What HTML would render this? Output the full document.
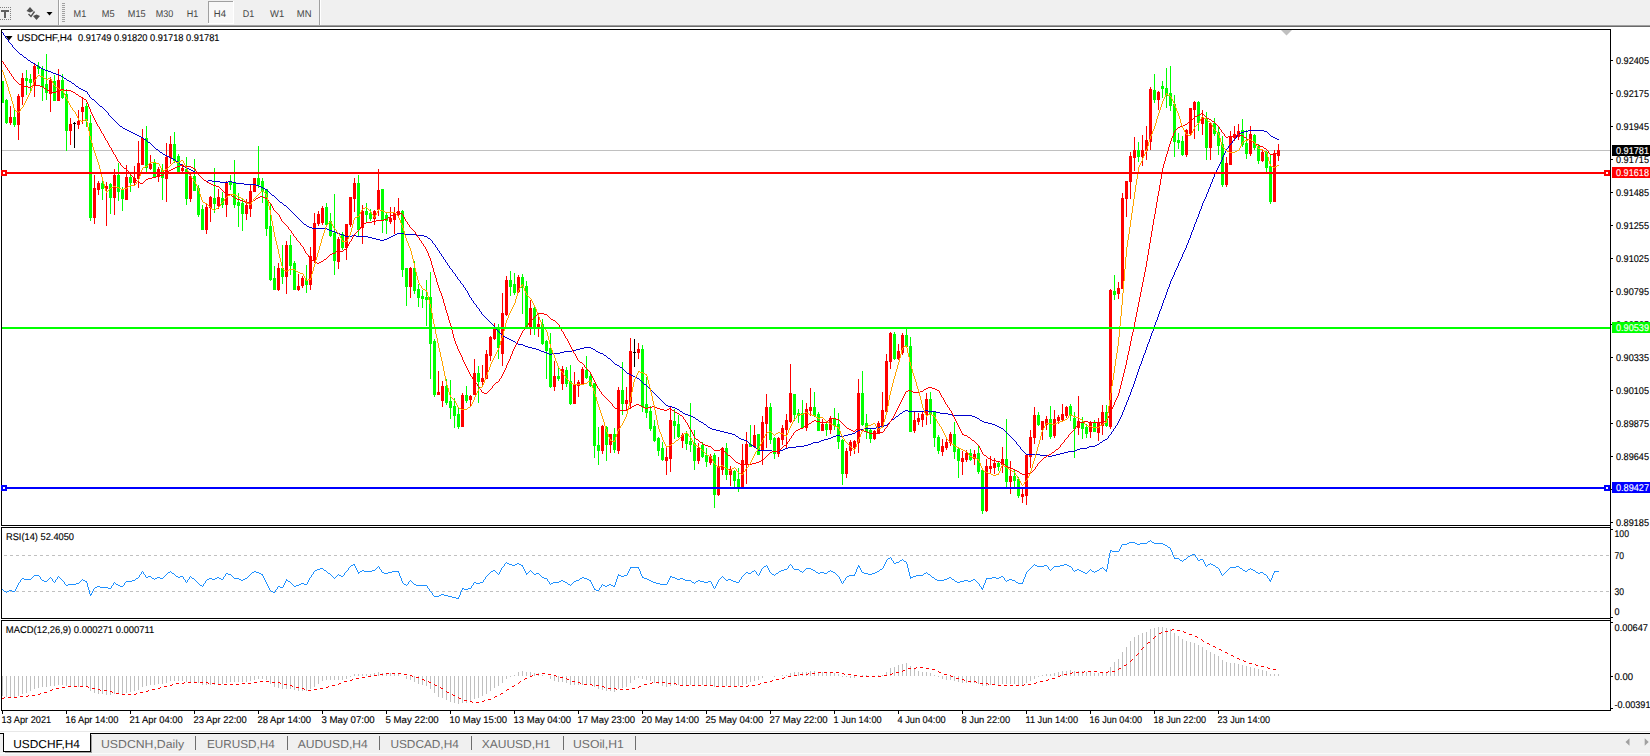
<!DOCTYPE html>
<html><head><meta charset="utf-8"><title>USDCHF,H4</title>
<style>
html,body{margin:0;padding:0;background:#fff;overflow:hidden}
svg{display:block;font-family:"Liberation Sans",sans-serif;text-rendering:geometricPrecision}
</style></head><body>
<svg width="1650" height="756" viewBox="0 0 1650 756">
<rect x="0" y="0" width="1650" height="756" fill="#fff"/>
<rect x="0" y="0" width="1650" height="25" fill="#f0f0f0"/>
<rect x="0" y="25" width="1650" height="1" fill="#a0a0a0"/>
<rect x="0" y="26" width="1650" height="1" fill="#696969"/>
<rect x="58" y="0" width="1" height="25" fill="#a0a0a0"/>
<rect x="59" y="0" width="1" height="25" fill="#fff"/>
<rect x="319" y="0" width="1" height="25" fill="#a0a0a0"/>
<rect x="320" y="0" width="1" height="25" fill="#fff"/>
<rect x="62" y="3" width="3" height="1" fill="#a0a0a0"/>
<rect x="62" y="5" width="3" height="1" fill="#a0a0a0"/>
<rect x="62" y="7" width="3" height="1" fill="#a0a0a0"/>
<rect x="62" y="9" width="3" height="1" fill="#a0a0a0"/>
<rect x="62" y="11" width="3" height="1" fill="#a0a0a0"/>
<rect x="62" y="13" width="3" height="1" fill="#a0a0a0"/>
<rect x="62" y="15" width="3" height="1" fill="#a0a0a0"/>
<rect x="62" y="17" width="3" height="1" fill="#a0a0a0"/>
<rect x="62" y="19" width="3" height="1" fill="#a0a0a0"/>
<rect x="62" y="21" width="3" height="1" fill="#a0a0a0"/>
<g fill="#808080">
<rect x="0" y="7" width="1" height="1" fill="#808080"/>
<rect x="0" y="19" width="1" height="1" fill="#808080"/>
<rect x="2" y="7" width="1" height="1" fill="#808080"/>
<rect x="2" y="19" width="1" height="1" fill="#808080"/>
<rect x="4" y="7" width="1" height="1" fill="#808080"/>
<rect x="4" y="19" width="1" height="1" fill="#808080"/>
<rect x="6" y="7" width="1" height="1" fill="#808080"/>
<rect x="6" y="19" width="1" height="1" fill="#808080"/>
<rect x="8" y="7" width="1" height="1" fill="#808080"/>
<rect x="8" y="19" width="1" height="1" fill="#808080"/>
<rect x="10" y="7" width="1" height="1" fill="#808080"/>
<rect x="10" y="19" width="1" height="1" fill="#808080"/>
<rect x="10" y="7" width="1" height="1" fill="#808080"/>
<rect x="10" y="9" width="1" height="1" fill="#808080"/>
<rect x="10" y="11" width="1" height="1" fill="#808080"/>
<rect x="10" y="13" width="1" height="1" fill="#808080"/>
<rect x="10" y="15" width="1" height="1" fill="#808080"/>
<rect x="10" y="17" width="1" height="1" fill="#808080"/>
<rect x="10" y="19" width="1" height="1" fill="#808080"/>
</g>
<rect x="1" y="10" width="8" height="2" fill="#606060"/>
<rect x="4" y="10" width="2" height="8" fill="#606060"/>
<path d="M26.5 11 L30 7 L33.5 11 L30 12.5 Z" fill="#505050"/>
<path d="M33 16 L36.5 14.5 L40 16 L36.5 20 Z" fill="#505050"/>
<path d="M28.5 14 L31 16.5 L34.5 11.5" fill="none" stroke="#505050" stroke-width="1.4"/>
<path d="M46.5 12 L52.5 12 L49.5 15.5 Z" fill="#000"/>
<rect x="208" y="1" width="25" height="22" fill="#f8f8f8"/>
<rect x="208" y="1" width="25" height="1" fill="#a0a0a0"/>
<rect x="208" y="1" width="1" height="22" fill="#a0a0a0"/>
<rect x="233" y="1" width="1" height="23" fill="#fff"/>
<rect x="208" y="23" width="26" height="1" fill="#fff"/>
<text x="73.6" y="17" font-size="9.8" fill="#454545" textLength="12.7" lengthAdjust="spacingAndGlyphs">M1</text>
<text x="101.8" y="17" font-size="9.8" fill="#454545" textLength="12.8" lengthAdjust="spacingAndGlyphs">M5</text>
<text x="127.8" y="17" font-size="9.8" fill="#454545" textLength="17.8" lengthAdjust="spacingAndGlyphs">M15</text>
<text x="155.8" y="17" font-size="9.8" fill="#454545" textLength="17.5" lengthAdjust="spacingAndGlyphs">M30</text>
<text x="186.8" y="17" font-size="9.8" fill="#454545" textLength="11.5" lengthAdjust="spacingAndGlyphs">H1</text>
<text x="213.8" y="17" font-size="9.8" fill="#454545" textLength="12.2" lengthAdjust="spacingAndGlyphs">H4</text>
<text x="242.8" y="17" font-size="9.8" fill="#454545" textLength="11.5" lengthAdjust="spacingAndGlyphs">D1</text>
<text x="270.1" y="17" font-size="9.8" fill="#454545" textLength="14.2" lengthAdjust="spacingAndGlyphs">W1</text>
<text x="296.8" y="17" font-size="9.8" fill="#454545" textLength="14.7" lengthAdjust="spacingAndGlyphs">MN</text>
<rect x="1" y="29" width="1610" height="1" fill="#000"/>
<rect x="1" y="525" width="1610" height="1" fill="#000"/>
<rect x="1" y="29" width="1" height="497" fill="#000"/>
<rect x="1" y="527" width="1610" height="1" fill="#000"/>
<rect x="1" y="618" width="1610" height="1" fill="#000"/>
<rect x="1" y="527" width="1" height="92" fill="#000"/>
<rect x="1" y="620" width="1610" height="1" fill="#000"/>
<rect x="1" y="710" width="1610" height="1" fill="#000"/>
<rect x="1" y="620" width="1" height="91" fill="#000"/>
<rect x="1610" y="29" width="1" height="682" fill="#000"/>
<rect x="2" y="150" width="1608" height="1" fill="#c0c0c0"/>
<g shape-rendering="crispEdges">
<rect x="2" y="81" width="1" height="22" fill="#00ff00"/>
<rect x="2" y="81" width="2" height="22" fill="#00ff00"/>
<rect x="6" y="99" width="1" height="25" fill="#00ff00"/>
<rect x="5" y="100" width="3" height="23" fill="#00ff00"/>
<rect x="10" y="106" width="1" height="19" fill="#ff0000"/>
<rect x="9" y="117" width="3" height="6" fill="#ff0000"/>
<rect x="14" y="110" width="1" height="17" fill="#00ff00"/>
<rect x="13" y="117" width="3" height="8" fill="#00ff00"/>
<rect x="18" y="94" width="1" height="46" fill="#ff0000"/>
<rect x="17" y="96" width="3" height="29" fill="#ff0000"/>
<rect x="22" y="73" width="1" height="32" fill="#ff0000"/>
<rect x="21" y="78" width="3" height="19" fill="#ff0000"/>
<rect x="26" y="70" width="1" height="25" fill="#00ff00"/>
<rect x="25" y="78" width="3" height="3" fill="#00ff00"/>
<rect x="30" y="74" width="1" height="17" fill="#00ff00"/>
<rect x="29" y="79" width="3" height="4" fill="#00ff00"/>
<rect x="34" y="63" width="1" height="34" fill="#ff0000"/>
<rect x="33" y="66" width="3" height="20" fill="#ff0000"/>
<rect x="38" y="62" width="1" height="12" fill="#00ff00"/>
<rect x="37" y="66" width="3" height="3" fill="#00ff00"/>
<rect x="42" y="66" width="1" height="35" fill="#00ff00"/>
<rect x="41" y="69" width="3" height="18" fill="#00ff00"/>
<rect x="46" y="54" width="1" height="46" fill="#00ff00"/>
<rect x="45" y="84" width="3" height="9" fill="#00ff00"/>
<rect x="50" y="77" width="1" height="35" fill="#ff0000"/>
<rect x="49" y="80" width="3" height="14" fill="#ff0000"/>
<rect x="54" y="75" width="1" height="26" fill="#00ff00"/>
<rect x="53" y="81" width="3" height="20" fill="#00ff00"/>
<rect x="58" y="69" width="1" height="32" fill="#ff0000"/>
<rect x="57" y="80" width="3" height="21" fill="#ff0000"/>
<rect x="62" y="74" width="1" height="25" fill="#00ff00"/>
<rect x="61" y="80" width="3" height="18" fill="#00ff00"/>
<rect x="66" y="89" width="1" height="62" fill="#00ff00"/>
<rect x="65" y="94" width="3" height="37" fill="#00ff00"/>
<rect x="70" y="118" width="1" height="27" fill="#ff0000"/>
<rect x="69" y="124" width="3" height="7" fill="#ff0000"/>
<rect x="74" y="122" width="1" height="26" fill="#000"/>
<rect x="73" y="123" width="3" height="1" fill="#000"/>
<rect x="78" y="110" width="1" height="19" fill="#ff0000"/>
<rect x="77" y="121" width="3" height="4" fill="#ff0000"/>
<rect x="82" y="97" width="1" height="27" fill="#ff0000"/>
<rect x="81" y="107" width="3" height="5" fill="#ff0000"/>
<rect x="86" y="103" width="1" height="24" fill="#00ff00"/>
<rect x="85" y="106" width="3" height="15" fill="#00ff00"/>
<rect x="90" y="115" width="1" height="106" fill="#00ff00"/>
<rect x="89" y="123" width="3" height="95" fill="#00ff00"/>
<rect x="94" y="175" width="1" height="49" fill="#ff0000"/>
<rect x="93" y="188" width="3" height="30" fill="#ff0000"/>
<rect x="98" y="181" width="1" height="14" fill="#ff0000"/>
<rect x="97" y="183" width="3" height="7" fill="#ff0000"/>
<rect x="102" y="181" width="1" height="19" fill="#00ff00"/>
<rect x="101" y="183" width="3" height="6" fill="#00ff00"/>
<rect x="106" y="182" width="1" height="44" fill="#ff0000"/>
<rect x="105" y="186" width="3" height="3" fill="#ff0000"/>
<rect x="110" y="183" width="1" height="31" fill="#00ff00"/>
<rect x="109" y="184" width="3" height="14" fill="#00ff00"/>
<rect x="114" y="169" width="1" height="46" fill="#ff0000"/>
<rect x="113" y="175" width="3" height="23" fill="#ff0000"/>
<rect x="118" y="163" width="1" height="38" fill="#00ff00"/>
<rect x="117" y="175" width="3" height="17" fill="#00ff00"/>
<rect x="122" y="187" width="1" height="24" fill="#00ff00"/>
<rect x="121" y="190" width="3" height="9" fill="#00ff00"/>
<rect x="126" y="165" width="1" height="35" fill="#ff0000"/>
<rect x="125" y="177" width="3" height="23" fill="#ff0000"/>
<rect x="130" y="174" width="1" height="18" fill="#00ff00"/>
<rect x="129" y="177" width="3" height="6" fill="#00ff00"/>
<rect x="134" y="166" width="1" height="19" fill="#ff0000"/>
<rect x="133" y="178" width="3" height="5" fill="#ff0000"/>
<rect x="138" y="141" width="1" height="47" fill="#ff0000"/>
<rect x="137" y="163" width="3" height="16" fill="#ff0000"/>
<rect x="142" y="129" width="1" height="36" fill="#ff0000"/>
<rect x="141" y="138" width="3" height="27" fill="#ff0000"/>
<rect x="146" y="126" width="1" height="47" fill="#00ff00"/>
<rect x="145" y="138" width="3" height="30" fill="#00ff00"/>
<rect x="150" y="155" width="1" height="15" fill="#ff0000"/>
<rect x="149" y="164" width="3" height="5" fill="#ff0000"/>
<rect x="154" y="159" width="1" height="19" fill="#00ff00"/>
<rect x="153" y="163" width="3" height="14" fill="#00ff00"/>
<rect x="158" y="167" width="1" height="15" fill="#ff0000"/>
<rect x="157" y="169" width="3" height="8" fill="#ff0000"/>
<rect x="162" y="164" width="1" height="36" fill="#00ff00"/>
<rect x="161" y="170" width="3" height="8" fill="#00ff00"/>
<rect x="166" y="143" width="1" height="59" fill="#ff0000"/>
<rect x="165" y="157" width="3" height="22" fill="#ff0000"/>
<rect x="170" y="136" width="1" height="28" fill="#ff0000"/>
<rect x="169" y="144" width="3" height="14" fill="#ff0000"/>
<rect x="174" y="132" width="1" height="31" fill="#00ff00"/>
<rect x="173" y="144" width="3" height="17" fill="#00ff00"/>
<rect x="178" y="154" width="1" height="18" fill="#00ff00"/>
<rect x="177" y="156" width="3" height="16" fill="#00ff00"/>
<rect x="182" y="164" width="1" height="8" fill="#ff0000"/>
<rect x="181" y="168" width="3" height="3" fill="#ff0000"/>
<rect x="186" y="157" width="1" height="48" fill="#00ff00"/>
<rect x="185" y="169" width="3" height="30" fill="#00ff00"/>
<rect x="190" y="174" width="1" height="28" fill="#ff0000"/>
<rect x="189" y="176" width="3" height="23" fill="#ff0000"/>
<rect x="194" y="159" width="1" height="32" fill="#00ff00"/>
<rect x="193" y="176" width="3" height="15" fill="#00ff00"/>
<rect x="198" y="185" width="1" height="32" fill="#00ff00"/>
<rect x="197" y="188" width="3" height="27" fill="#00ff00"/>
<rect x="202" y="205" width="1" height="25" fill="#00ff00"/>
<rect x="201" y="209" width="3" height="21" fill="#00ff00"/>
<rect x="206" y="203" width="1" height="31" fill="#ff0000"/>
<rect x="205" y="207" width="3" height="23" fill="#ff0000"/>
<rect x="210" y="196" width="1" height="26" fill="#ff0000"/>
<rect x="209" y="197" width="3" height="11" fill="#ff0000"/>
<rect x="214" y="168" width="1" height="45" fill="#00ff00"/>
<rect x="213" y="198" width="3" height="6" fill="#00ff00"/>
<rect x="218" y="189" width="1" height="20" fill="#ff0000"/>
<rect x="217" y="197" width="3" height="9" fill="#ff0000"/>
<rect x="222" y="192" width="1" height="16" fill="#00ff00"/>
<rect x="221" y="198" width="3" height="7" fill="#00ff00"/>
<rect x="226" y="181" width="1" height="36" fill="#ff0000"/>
<rect x="225" y="182" width="3" height="23" fill="#ff0000"/>
<rect x="230" y="175" width="1" height="15" fill="#00ff00"/>
<rect x="229" y="182" width="3" height="3" fill="#00ff00"/>
<rect x="234" y="160" width="1" height="48" fill="#00ff00"/>
<rect x="233" y="183" width="3" height="22" fill="#00ff00"/>
<rect x="238" y="193" width="1" height="34" fill="#00ff00"/>
<rect x="237" y="202" width="3" height="4" fill="#00ff00"/>
<rect x="242" y="198" width="1" height="33" fill="#00ff00"/>
<rect x="241" y="203" width="3" height="11" fill="#00ff00"/>
<rect x="246" y="199" width="1" height="21" fill="#ff0000"/>
<rect x="245" y="205" width="3" height="9" fill="#ff0000"/>
<rect x="250" y="185" width="1" height="32" fill="#ff0000"/>
<rect x="249" y="191" width="3" height="18" fill="#ff0000"/>
<rect x="254" y="178" width="1" height="14" fill="#ff0000"/>
<rect x="253" y="178" width="3" height="14" fill="#ff0000"/>
<rect x="258" y="146" width="1" height="42" fill="#00ff00"/>
<rect x="257" y="178" width="3" height="7" fill="#00ff00"/>
<rect x="262" y="178" width="1" height="25" fill="#00ff00"/>
<rect x="261" y="181" width="3" height="10" fill="#00ff00"/>
<rect x="266" y="189" width="1" height="47" fill="#00ff00"/>
<rect x="265" y="189" width="3" height="40" fill="#00ff00"/>
<rect x="270" y="204" width="1" height="77" fill="#00ff00"/>
<rect x="269" y="226" width="3" height="54" fill="#00ff00"/>
<rect x="274" y="266" width="1" height="24" fill="#00ff00"/>
<rect x="273" y="278" width="3" height="12" fill="#00ff00"/>
<rect x="278" y="263" width="1" height="28" fill="#ff0000"/>
<rect x="277" y="268" width="3" height="22" fill="#ff0000"/>
<rect x="282" y="245" width="1" height="39" fill="#00ff00"/>
<rect x="281" y="268" width="3" height="9" fill="#00ff00"/>
<rect x="286" y="241" width="1" height="53" fill="#ff0000"/>
<rect x="285" y="245" width="3" height="32" fill="#ff0000"/>
<rect x="290" y="235" width="1" height="40" fill="#00ff00"/>
<rect x="289" y="245" width="3" height="21" fill="#00ff00"/>
<rect x="294" y="261" width="1" height="29" fill="#00ff00"/>
<rect x="293" y="263" width="3" height="27" fill="#00ff00"/>
<rect x="298" y="274" width="1" height="17" fill="#ff0000"/>
<rect x="297" y="286" width="3" height="4" fill="#ff0000"/>
<rect x="302" y="276" width="1" height="12" fill="#ff0000"/>
<rect x="301" y="278" width="3" height="8" fill="#ff0000"/>
<rect x="306" y="265" width="1" height="28" fill="#00ff00"/>
<rect x="305" y="280" width="3" height="5" fill="#00ff00"/>
<rect x="310" y="247" width="1" height="43" fill="#ff0000"/>
<rect x="309" y="256" width="3" height="29" fill="#ff0000"/>
<rect x="314" y="213" width="1" height="50" fill="#ff0000"/>
<rect x="313" y="223" width="3" height="37" fill="#ff0000"/>
<rect x="318" y="211" width="1" height="15" fill="#ff0000"/>
<rect x="317" y="214" width="3" height="10" fill="#ff0000"/>
<rect x="322" y="206" width="1" height="19" fill="#ff0000"/>
<rect x="321" y="208" width="3" height="15" fill="#ff0000"/>
<rect x="326" y="203" width="1" height="22" fill="#00ff00"/>
<rect x="325" y="207" width="3" height="18" fill="#00ff00"/>
<rect x="330" y="213" width="1" height="24" fill="#00ff00"/>
<rect x="329" y="221" width="3" height="15" fill="#00ff00"/>
<rect x="334" y="194" width="1" height="81" fill="#00ff00"/>
<rect x="333" y="233" width="3" height="28" fill="#00ff00"/>
<rect x="338" y="237" width="1" height="32" fill="#ff0000"/>
<rect x="337" y="239" width="3" height="23" fill="#ff0000"/>
<rect x="342" y="232" width="1" height="18" fill="#00ff00"/>
<rect x="341" y="234" width="3" height="14" fill="#00ff00"/>
<rect x="346" y="224" width="1" height="36" fill="#ff0000"/>
<rect x="345" y="224" width="3" height="24" fill="#ff0000"/>
<rect x="350" y="197" width="1" height="30" fill="#ff0000"/>
<rect x="349" y="197" width="3" height="28" fill="#ff0000"/>
<rect x="354" y="178" width="1" height="34" fill="#ff0000"/>
<rect x="353" y="183" width="3" height="16" fill="#ff0000"/>
<rect x="358" y="175" width="1" height="62" fill="#00ff00"/>
<rect x="357" y="183" width="3" height="47" fill="#00ff00"/>
<rect x="362" y="205" width="1" height="39" fill="#ff0000"/>
<rect x="361" y="211" width="3" height="17" fill="#ff0000"/>
<rect x="366" y="203" width="1" height="20" fill="#00ff00"/>
<rect x="365" y="211" width="3" height="4" fill="#00ff00"/>
<rect x="370" y="209" width="1" height="12" fill="#00ff00"/>
<rect x="369" y="213" width="3" height="6" fill="#00ff00"/>
<rect x="374" y="210" width="1" height="15" fill="#ff0000"/>
<rect x="373" y="211" width="3" height="8" fill="#ff0000"/>
<rect x="378" y="169" width="1" height="47" fill="#ff0000"/>
<rect x="377" y="190" width="3" height="20" fill="#ff0000"/>
<rect x="382" y="189" width="1" height="44" fill="#00ff00"/>
<rect x="381" y="189" width="3" height="31" fill="#00ff00"/>
<rect x="386" y="213" width="1" height="21" fill="#00ff00"/>
<rect x="385" y="215" width="3" height="6" fill="#00ff00"/>
<rect x="390" y="207" width="1" height="17" fill="#ff0000"/>
<rect x="389" y="218" width="3" height="4" fill="#ff0000"/>
<rect x="394" y="207" width="1" height="27" fill="#ff0000"/>
<rect x="393" y="213" width="3" height="7" fill="#ff0000"/>
<rect x="398" y="198" width="1" height="20" fill="#ff0000"/>
<rect x="397" y="211" width="3" height="4" fill="#ff0000"/>
<rect x="402" y="210" width="1" height="67" fill="#00ff00"/>
<rect x="401" y="211" width="3" height="59" fill="#00ff00"/>
<rect x="406" y="268" width="1" height="38" fill="#00ff00"/>
<rect x="405" y="268" width="3" height="19" fill="#00ff00"/>
<rect x="410" y="267" width="1" height="31" fill="#ff0000"/>
<rect x="409" y="268" width="3" height="19" fill="#ff0000"/>
<rect x="414" y="261" width="1" height="33" fill="#00ff00"/>
<rect x="413" y="268" width="3" height="23" fill="#00ff00"/>
<rect x="418" y="284" width="1" height="23" fill="#00ff00"/>
<rect x="417" y="289" width="3" height="9" fill="#00ff00"/>
<rect x="422" y="290" width="1" height="18" fill="#00ff00"/>
<rect x="421" y="296" width="3" height="3" fill="#00ff00"/>
<rect x="426" y="280" width="1" height="46" fill="#00ff00"/>
<rect x="425" y="297" width="3" height="3" fill="#00ff00"/>
<rect x="430" y="272" width="1" height="107" fill="#00ff00"/>
<rect x="429" y="297" width="3" height="47" fill="#00ff00"/>
<rect x="434" y="339" width="1" height="58" fill="#00ff00"/>
<rect x="433" y="341" width="3" height="54" fill="#00ff00"/>
<rect x="438" y="371" width="1" height="24" fill="#ff0000"/>
<rect x="437" y="392" width="3" height="3" fill="#ff0000"/>
<rect x="442" y="381" width="1" height="26" fill="#ff0000"/>
<rect x="441" y="386" width="3" height="15" fill="#ff0000"/>
<rect x="446" y="379" width="1" height="26" fill="#00ff00"/>
<rect x="445" y="386" width="3" height="17" fill="#00ff00"/>
<rect x="450" y="380" width="1" height="39" fill="#00ff00"/>
<rect x="449" y="401" width="3" height="7" fill="#00ff00"/>
<rect x="454" y="398" width="1" height="30" fill="#00ff00"/>
<rect x="453" y="406" width="3" height="10" fill="#00ff00"/>
<rect x="458" y="408" width="1" height="21" fill="#00ff00"/>
<rect x="457" y="414" width="3" height="13" fill="#00ff00"/>
<rect x="462" y="393" width="1" height="34" fill="#ff0000"/>
<rect x="461" y="395" width="3" height="32" fill="#ff0000"/>
<rect x="466" y="386" width="1" height="17" fill="#00ff00"/>
<rect x="465" y="395" width="3" height="6" fill="#00ff00"/>
<rect x="470" y="395" width="1" height="11" fill="#ff0000"/>
<rect x="469" y="396" width="3" height="4" fill="#ff0000"/>
<rect x="474" y="359" width="1" height="36" fill="#ff0000"/>
<rect x="473" y="373" width="3" height="22" fill="#ff0000"/>
<rect x="478" y="366" width="1" height="37" fill="#00ff00"/>
<rect x="477" y="373" width="3" height="9" fill="#00ff00"/>
<rect x="482" y="365" width="1" height="20" fill="#ff0000"/>
<rect x="481" y="378" width="3" height="4" fill="#ff0000"/>
<rect x="486" y="350" width="1" height="29" fill="#ff0000"/>
<rect x="485" y="354" width="3" height="25" fill="#ff0000"/>
<rect x="490" y="336" width="1" height="25" fill="#ff0000"/>
<rect x="489" y="337" width="3" height="19" fill="#ff0000"/>
<rect x="494" y="323" width="1" height="17" fill="#ff0000"/>
<rect x="493" y="329" width="3" height="10" fill="#ff0000"/>
<rect x="498" y="324" width="1" height="35" fill="#00ff00"/>
<rect x="497" y="329" width="3" height="19" fill="#00ff00"/>
<rect x="502" y="293" width="1" height="73" fill="#ff0000"/>
<rect x="501" y="313" width="3" height="41" fill="#ff0000"/>
<rect x="506" y="276" width="1" height="40" fill="#ff0000"/>
<rect x="505" y="280" width="3" height="35" fill="#ff0000"/>
<rect x="510" y="271" width="1" height="25" fill="#00ff00"/>
<rect x="509" y="280" width="3" height="7" fill="#00ff00"/>
<rect x="514" y="273" width="1" height="22" fill="#00ff00"/>
<rect x="513" y="284" width="3" height="9" fill="#00ff00"/>
<rect x="518" y="275" width="1" height="18" fill="#ff0000"/>
<rect x="517" y="277" width="3" height="15" fill="#ff0000"/>
<rect x="522" y="274" width="1" height="40" fill="#00ff00"/>
<rect x="521" y="277" width="3" height="11" fill="#00ff00"/>
<rect x="526" y="281" width="1" height="48" fill="#00ff00"/>
<rect x="525" y="286" width="3" height="42" fill="#00ff00"/>
<rect x="530" y="300" width="1" height="35" fill="#ff0000"/>
<rect x="529" y="308" width="3" height="20" fill="#ff0000"/>
<rect x="534" y="307" width="1" height="28" fill="#00ff00"/>
<rect x="533" y="308" width="3" height="20" fill="#00ff00"/>
<rect x="538" y="314" width="1" height="23" fill="#ff0000"/>
<rect x="537" y="324" width="3" height="5" fill="#ff0000"/>
<rect x="542" y="319" width="1" height="26" fill="#00ff00"/>
<rect x="541" y="324" width="3" height="20" fill="#00ff00"/>
<rect x="546" y="340" width="1" height="39" fill="#00ff00"/>
<rect x="545" y="341" width="3" height="10" fill="#00ff00"/>
<rect x="550" y="333" width="1" height="55" fill="#00ff00"/>
<rect x="549" y="348" width="3" height="39" fill="#00ff00"/>
<rect x="554" y="361" width="1" height="30" fill="#ff0000"/>
<rect x="553" y="376" width="3" height="11" fill="#ff0000"/>
<rect x="558" y="367" width="1" height="14" fill="#00ff00"/>
<rect x="557" y="376" width="3" height="3" fill="#00ff00"/>
<rect x="562" y="366" width="1" height="24" fill="#ff0000"/>
<rect x="561" y="369" width="3" height="15" fill="#ff0000"/>
<rect x="566" y="367" width="1" height="20" fill="#00ff00"/>
<rect x="565" y="370" width="3" height="14" fill="#00ff00"/>
<rect x="570" y="365" width="1" height="40" fill="#00ff00"/>
<rect x="569" y="381" width="3" height="23" fill="#00ff00"/>
<rect x="574" y="372" width="1" height="32" fill="#ff0000"/>
<rect x="573" y="385" width="3" height="19" fill="#ff0000"/>
<rect x="578" y="380" width="1" height="17" fill="#ff0000"/>
<rect x="577" y="382" width="3" height="4" fill="#ff0000"/>
<rect x="582" y="367" width="1" height="18" fill="#ff0000"/>
<rect x="581" y="369" width="3" height="15" fill="#ff0000"/>
<rect x="586" y="356" width="1" height="23" fill="#00ff00"/>
<rect x="585" y="370" width="3" height="8" fill="#00ff00"/>
<rect x="590" y="374" width="1" height="13" fill="#00ff00"/>
<rect x="589" y="376" width="3" height="10" fill="#00ff00"/>
<rect x="594" y="383" width="1" height="75" fill="#00ff00"/>
<rect x="593" y="383" width="3" height="63" fill="#00ff00"/>
<rect x="598" y="427" width="1" height="38" fill="#00ff00"/>
<rect x="597" y="445" width="3" height="6" fill="#00ff00"/>
<rect x="602" y="425" width="1" height="29" fill="#ff0000"/>
<rect x="601" y="426" width="3" height="25" fill="#ff0000"/>
<rect x="606" y="426" width="1" height="35" fill="#00ff00"/>
<rect x="605" y="427" width="3" height="18" fill="#00ff00"/>
<rect x="610" y="434" width="1" height="19" fill="#ff0000"/>
<rect x="609" y="434" width="3" height="11" fill="#ff0000"/>
<rect x="614" y="428" width="1" height="25" fill="#00ff00"/>
<rect x="613" y="434" width="3" height="16" fill="#00ff00"/>
<rect x="618" y="387" width="1" height="67" fill="#ff0000"/>
<rect x="617" y="390" width="3" height="61" fill="#ff0000"/>
<rect x="622" y="362" width="1" height="53" fill="#00ff00"/>
<rect x="621" y="390" width="3" height="14" fill="#00ff00"/>
<rect x="626" y="387" width="1" height="23" fill="#ff0000"/>
<rect x="625" y="400" width="3" height="4" fill="#ff0000"/>
<rect x="630" y="338" width="1" height="70" fill="#ff0000"/>
<rect x="629" y="351" width="3" height="52" fill="#ff0000"/>
<rect x="634" y="339" width="1" height="28" fill="#000"/>
<rect x="633" y="352" width="3" height="1" fill="#000"/>
<rect x="638" y="343" width="1" height="16" fill="#ff0000"/>
<rect x="637" y="349" width="3" height="4" fill="#ff0000"/>
<rect x="642" y="345" width="1" height="67" fill="#00ff00"/>
<rect x="641" y="349" width="3" height="58" fill="#00ff00"/>
<rect x="646" y="377" width="1" height="41" fill="#00ff00"/>
<rect x="645" y="404" width="3" height="9" fill="#00ff00"/>
<rect x="650" y="406" width="1" height="25" fill="#00ff00"/>
<rect x="649" y="411" width="3" height="18" fill="#00ff00"/>
<rect x="654" y="420" width="1" height="22" fill="#00ff00"/>
<rect x="653" y="426" width="3" height="15" fill="#00ff00"/>
<rect x="658" y="437" width="1" height="19" fill="#00ff00"/>
<rect x="657" y="438" width="3" height="13" fill="#00ff00"/>
<rect x="662" y="442" width="1" height="19" fill="#00ff00"/>
<rect x="661" y="448" width="3" height="12" fill="#00ff00"/>
<rect x="666" y="446" width="1" height="29" fill="#ff0000"/>
<rect x="665" y="457" width="3" height="4" fill="#ff0000"/>
<rect x="670" y="406" width="1" height="66" fill="#ff0000"/>
<rect x="669" y="420" width="3" height="39" fill="#ff0000"/>
<rect x="674" y="409" width="1" height="30" fill="#00ff00"/>
<rect x="673" y="421" width="3" height="5" fill="#00ff00"/>
<rect x="678" y="415" width="1" height="23" fill="#00ff00"/>
<rect x="677" y="424" width="3" height="13" fill="#00ff00"/>
<rect x="682" y="433" width="1" height="15" fill="#ff0000"/>
<rect x="681" y="435" width="3" height="6" fill="#ff0000"/>
<rect x="686" y="431" width="1" height="19" fill="#00ff00"/>
<rect x="685" y="433" width="3" height="11" fill="#00ff00"/>
<rect x="690" y="403" width="1" height="49" fill="#00ff00"/>
<rect x="689" y="441" width="3" height="4" fill="#00ff00"/>
<rect x="694" y="430" width="1" height="40" fill="#00ff00"/>
<rect x="693" y="443" width="3" height="18" fill="#00ff00"/>
<rect x="698" y="443" width="1" height="21" fill="#ff0000"/>
<rect x="697" y="448" width="3" height="13" fill="#ff0000"/>
<rect x="702" y="442" width="1" height="16" fill="#00ff00"/>
<rect x="701" y="445" width="3" height="12" fill="#00ff00"/>
<rect x="706" y="448" width="1" height="19" fill="#00ff00"/>
<rect x="705" y="455" width="3" height="7" fill="#00ff00"/>
<rect x="710" y="454" width="1" height="11" fill="#ff0000"/>
<rect x="709" y="456" width="3" height="7" fill="#ff0000"/>
<rect x="714" y="453" width="1" height="55" fill="#00ff00"/>
<rect x="713" y="455" width="3" height="40" fill="#00ff00"/>
<rect x="718" y="457" width="1" height="39" fill="#ff0000"/>
<rect x="717" y="466" width="3" height="29" fill="#ff0000"/>
<rect x="722" y="447" width="1" height="28" fill="#ff0000"/>
<rect x="721" y="448" width="3" height="22" fill="#ff0000"/>
<rect x="726" y="443" width="1" height="37" fill="#00ff00"/>
<rect x="725" y="448" width="3" height="27" fill="#00ff00"/>
<rect x="730" y="466" width="1" height="20" fill="#ff0000"/>
<rect x="729" y="469" width="3" height="6" fill="#ff0000"/>
<rect x="734" y="470" width="1" height="18" fill="#00ff00"/>
<rect x="733" y="471" width="3" height="10" fill="#00ff00"/>
<rect x="738" y="468" width="1" height="24" fill="#00ff00"/>
<rect x="737" y="479" width="3" height="9" fill="#00ff00"/>
<rect x="742" y="444" width="1" height="45" fill="#ff0000"/>
<rect x="741" y="460" width="3" height="28" fill="#ff0000"/>
<rect x="746" y="432" width="1" height="52" fill="#ff0000"/>
<rect x="745" y="444" width="3" height="21" fill="#ff0000"/>
<rect x="750" y="425" width="1" height="22" fill="#00ff00"/>
<rect x="749" y="444" width="3" height="3" fill="#00ff00"/>
<rect x="754" y="425" width="1" height="23" fill="#ff0000"/>
<rect x="753" y="435" width="3" height="12" fill="#ff0000"/>
<rect x="758" y="434" width="1" height="21" fill="#00ff00"/>
<rect x="757" y="434" width="3" height="21" fill="#00ff00"/>
<rect x="762" y="416" width="1" height="49" fill="#ff0000"/>
<rect x="761" y="422" width="3" height="28" fill="#ff0000"/>
<rect x="766" y="394" width="1" height="54" fill="#ff0000"/>
<rect x="765" y="407" width="3" height="17" fill="#ff0000"/>
<rect x="770" y="403" width="1" height="41" fill="#00ff00"/>
<rect x="769" y="407" width="3" height="33" fill="#00ff00"/>
<rect x="774" y="437" width="1" height="22" fill="#00ff00"/>
<rect x="773" y="438" width="3" height="16" fill="#00ff00"/>
<rect x="778" y="437" width="1" height="20" fill="#ff0000"/>
<rect x="777" y="438" width="3" height="16" fill="#ff0000"/>
<rect x="782" y="425" width="1" height="20" fill="#ff0000"/>
<rect x="781" y="428" width="3" height="12" fill="#ff0000"/>
<rect x="786" y="414" width="1" height="35" fill="#ff0000"/>
<rect x="785" y="420" width="3" height="10" fill="#ff0000"/>
<rect x="790" y="364" width="1" height="59" fill="#ff0000"/>
<rect x="789" y="393" width="3" height="29" fill="#ff0000"/>
<rect x="794" y="394" width="1" height="27" fill="#00ff00"/>
<rect x="793" y="394" width="3" height="21" fill="#00ff00"/>
<rect x="798" y="409" width="1" height="14" fill="#00ff00"/>
<rect x="797" y="413" width="3" height="3" fill="#00ff00"/>
<rect x="802" y="400" width="1" height="29" fill="#00ff00"/>
<rect x="801" y="413" width="3" height="15" fill="#00ff00"/>
<rect x="806" y="403" width="1" height="28" fill="#ff0000"/>
<rect x="805" y="409" width="3" height="19" fill="#ff0000"/>
<rect x="810" y="388" width="1" height="28" fill="#ff0000"/>
<rect x="809" y="407" width="3" height="4" fill="#ff0000"/>
<rect x="814" y="392" width="1" height="25" fill="#00ff00"/>
<rect x="813" y="407" width="3" height="9" fill="#00ff00"/>
<rect x="818" y="412" width="1" height="19" fill="#00ff00"/>
<rect x="817" y="414" width="3" height="17" fill="#00ff00"/>
<rect x="822" y="419" width="1" height="12" fill="#ff0000"/>
<rect x="821" y="424" width="3" height="7" fill="#ff0000"/>
<rect x="826" y="423" width="1" height="13" fill="#00ff00"/>
<rect x="825" y="424" width="3" height="6" fill="#00ff00"/>
<rect x="830" y="416" width="1" height="18" fill="#ff0000"/>
<rect x="829" y="418" width="3" height="12" fill="#ff0000"/>
<rect x="834" y="408" width="1" height="22" fill="#00ff00"/>
<rect x="833" y="418" width="3" height="8" fill="#00ff00"/>
<rect x="838" y="413" width="1" height="36" fill="#00ff00"/>
<rect x="837" y="424" width="3" height="18" fill="#00ff00"/>
<rect x="842" y="439" width="1" height="46" fill="#00ff00"/>
<rect x="841" y="440" width="3" height="34" fill="#00ff00"/>
<rect x="846" y="448" width="1" height="30" fill="#ff0000"/>
<rect x="845" y="451" width="3" height="23" fill="#ff0000"/>
<rect x="850" y="440" width="1" height="16" fill="#ff0000"/>
<rect x="849" y="442" width="3" height="9" fill="#ff0000"/>
<rect x="854" y="440" width="1" height="14" fill="#ff0000"/>
<rect x="853" y="441" width="3" height="7" fill="#ff0000"/>
<rect x="858" y="379" width="1" height="74" fill="#ff0000"/>
<rect x="857" y="393" width="3" height="50" fill="#ff0000"/>
<rect x="862" y="371" width="1" height="55" fill="#00ff00"/>
<rect x="861" y="393" width="3" height="32" fill="#00ff00"/>
<rect x="866" y="414" width="1" height="25" fill="#00ff00"/>
<rect x="865" y="423" width="3" height="9" fill="#00ff00"/>
<rect x="870" y="428" width="1" height="15" fill="#00ff00"/>
<rect x="869" y="430" width="3" height="9" fill="#00ff00"/>
<rect x="874" y="430" width="1" height="10" fill="#ff0000"/>
<rect x="873" y="431" width="3" height="8" fill="#ff0000"/>
<rect x="878" y="421" width="1" height="13" fill="#ff0000"/>
<rect x="877" y="423" width="3" height="10" fill="#ff0000"/>
<rect x="882" y="392" width="1" height="36" fill="#ff0000"/>
<rect x="881" y="410" width="3" height="17" fill="#ff0000"/>
<rect x="886" y="354" width="1" height="58" fill="#ff0000"/>
<rect x="885" y="361" width="3" height="51" fill="#ff0000"/>
<rect x="890" y="332" width="1" height="37" fill="#ff0000"/>
<rect x="889" y="333" width="3" height="29" fill="#ff0000"/>
<rect x="894" y="332" width="1" height="28" fill="#00ff00"/>
<rect x="893" y="334" width="3" height="25" fill="#00ff00"/>
<rect x="898" y="344" width="1" height="16" fill="#ff0000"/>
<rect x="897" y="351" width="3" height="8" fill="#ff0000"/>
<rect x="902" y="333" width="1" height="22" fill="#ff0000"/>
<rect x="901" y="335" width="3" height="18" fill="#ff0000"/>
<rect x="906" y="327" width="1" height="21" fill="#00ff00"/>
<rect x="905" y="335" width="3" height="12" fill="#00ff00"/>
<rect x="910" y="337" width="1" height="95" fill="#00ff00"/>
<rect x="909" y="346" width="3" height="86" fill="#00ff00"/>
<rect x="914" y="411" width="1" height="22" fill="#ff0000"/>
<rect x="913" y="420" width="3" height="11" fill="#ff0000"/>
<rect x="918" y="413" width="1" height="12" fill="#ff0000"/>
<rect x="917" y="418" width="3" height="4" fill="#ff0000"/>
<rect x="922" y="411" width="1" height="16" fill="#ff0000"/>
<rect x="921" y="414" width="3" height="6" fill="#ff0000"/>
<rect x="926" y="393" width="1" height="32" fill="#ff0000"/>
<rect x="925" y="399" width="3" height="16" fill="#ff0000"/>
<rect x="930" y="392" width="1" height="32" fill="#00ff00"/>
<rect x="929" y="399" width="3" height="16" fill="#00ff00"/>
<rect x="934" y="412" width="1" height="35" fill="#00ff00"/>
<rect x="933" y="412" width="3" height="26" fill="#00ff00"/>
<rect x="938" y="435" width="1" height="19" fill="#00ff00"/>
<rect x="937" y="437" width="3" height="14" fill="#00ff00"/>
<rect x="942" y="439" width="1" height="17" fill="#ff0000"/>
<rect x="941" y="446" width="3" height="6" fill="#ff0000"/>
<rect x="946" y="438" width="1" height="12" fill="#ff0000"/>
<rect x="945" y="442" width="3" height="6" fill="#ff0000"/>
<rect x="950" y="432" width="1" height="14" fill="#ff0000"/>
<rect x="949" y="434" width="3" height="9" fill="#ff0000"/>
<rect x="954" y="422" width="1" height="37" fill="#00ff00"/>
<rect x="953" y="434" width="3" height="18" fill="#00ff00"/>
<rect x="958" y="448" width="1" height="30" fill="#00ff00"/>
<rect x="957" y="449" width="3" height="12" fill="#00ff00"/>
<rect x="962" y="451" width="1" height="24" fill="#ff0000"/>
<rect x="961" y="458" width="3" height="4" fill="#ff0000"/>
<rect x="966" y="450" width="1" height="12" fill="#ff0000"/>
<rect x="965" y="453" width="3" height="7" fill="#ff0000"/>
<rect x="970" y="449" width="1" height="12" fill="#00ff00"/>
<rect x="969" y="453" width="3" height="7" fill="#00ff00"/>
<rect x="974" y="450" width="1" height="15" fill="#ff0000"/>
<rect x="973" y="454" width="3" height="5" fill="#ff0000"/>
<rect x="978" y="446" width="1" height="28" fill="#00ff00"/>
<rect x="977" y="453" width="3" height="19" fill="#00ff00"/>
<rect x="982" y="469" width="1" height="45" fill="#00ff00"/>
<rect x="981" y="470" width="3" height="41" fill="#00ff00"/>
<rect x="986" y="459" width="1" height="53" fill="#ff0000"/>
<rect x="985" y="466" width="3" height="45" fill="#ff0000"/>
<rect x="990" y="456" width="1" height="17" fill="#ff0000"/>
<rect x="989" y="466" width="3" height="3" fill="#ff0000"/>
<rect x="994" y="458" width="1" height="16" fill="#ff0000"/>
<rect x="993" y="463" width="3" height="5" fill="#ff0000"/>
<rect x="998" y="461" width="1" height="10" fill="#00ff00"/>
<rect x="997" y="463" width="3" height="4" fill="#00ff00"/>
<rect x="1002" y="447" width="1" height="26" fill="#ff0000"/>
<rect x="1001" y="459" width="3" height="6" fill="#ff0000"/>
<rect x="1006" y="419" width="1" height="68" fill="#00ff00"/>
<rect x="1005" y="459" width="3" height="23" fill="#00ff00"/>
<rect x="1010" y="461" width="1" height="33" fill="#ff0000"/>
<rect x="1009" y="476" width="3" height="6" fill="#ff0000"/>
<rect x="1014" y="469" width="1" height="18" fill="#00ff00"/>
<rect x="1013" y="476" width="3" height="5" fill="#00ff00"/>
<rect x="1018" y="477" width="1" height="21" fill="#00ff00"/>
<rect x="1017" y="479" width="3" height="17" fill="#00ff00"/>
<rect x="1022" y="489" width="1" height="14" fill="#ff0000"/>
<rect x="1021" y="494" width="3" height="3" fill="#ff0000"/>
<rect x="1026" y="454" width="1" height="51" fill="#ff0000"/>
<rect x="1025" y="455" width="3" height="41" fill="#ff0000"/>
<rect x="1030" y="430" width="1" height="38" fill="#ff0000"/>
<rect x="1029" y="437" width="3" height="20" fill="#ff0000"/>
<rect x="1034" y="407" width="1" height="37" fill="#ff0000"/>
<rect x="1033" y="415" width="3" height="23" fill="#ff0000"/>
<rect x="1038" y="412" width="1" height="14" fill="#00ff00"/>
<rect x="1037" y="415" width="3" height="10" fill="#00ff00"/>
<rect x="1042" y="421" width="1" height="19" fill="#ff0000"/>
<rect x="1041" y="421" width="3" height="9" fill="#ff0000"/>
<rect x="1046" y="416" width="1" height="14" fill="#ff0000"/>
<rect x="1045" y="419" width="3" height="6" fill="#ff0000"/>
<rect x="1050" y="406" width="1" height="33" fill="#00ff00"/>
<rect x="1049" y="419" width="3" height="18" fill="#00ff00"/>
<rect x="1054" y="410" width="1" height="28" fill="#ff0000"/>
<rect x="1053" y="419" width="3" height="17" fill="#ff0000"/>
<rect x="1058" y="415" width="1" height="9" fill="#ff0000"/>
<rect x="1057" y="417" width="3" height="4" fill="#ff0000"/>
<rect x="1062" y="404" width="1" height="17" fill="#ff0000"/>
<rect x="1061" y="414" width="3" height="6" fill="#ff0000"/>
<rect x="1066" y="406" width="1" height="12" fill="#ff0000"/>
<rect x="1065" y="407" width="3" height="9" fill="#ff0000"/>
<rect x="1070" y="404" width="1" height="17" fill="#00ff00"/>
<rect x="1069" y="406" width="3" height="10" fill="#00ff00"/>
<rect x="1074" y="412" width="1" height="46" fill="#00ff00"/>
<rect x="1073" y="418" width="3" height="11" fill="#00ff00"/>
<rect x="1078" y="396" width="1" height="39" fill="#ff0000"/>
<rect x="1077" y="421" width="3" height="7" fill="#ff0000"/>
<rect x="1082" y="417" width="1" height="22" fill="#00ff00"/>
<rect x="1081" y="423" width="3" height="6" fill="#00ff00"/>
<rect x="1086" y="424" width="1" height="14" fill="#00ff00"/>
<rect x="1085" y="427" width="3" height="7" fill="#00ff00"/>
<rect x="1090" y="421" width="1" height="17" fill="#ff0000"/>
<rect x="1089" y="422" width="3" height="10" fill="#ff0000"/>
<rect x="1094" y="420" width="1" height="12" fill="#00ff00"/>
<rect x="1093" y="423" width="3" height="9" fill="#00ff00"/>
<rect x="1098" y="418" width="1" height="23" fill="#ff0000"/>
<rect x="1097" y="422" width="3" height="11" fill="#ff0000"/>
<rect x="1102" y="405" width="1" height="30" fill="#ff0000"/>
<rect x="1101" y="412" width="3" height="14" fill="#ff0000"/>
<rect x="1106" y="405" width="1" height="22" fill="#00ff00"/>
<rect x="1105" y="412" width="3" height="14" fill="#00ff00"/>
<rect x="1110" y="289" width="1" height="140" fill="#ff0000"/>
<rect x="1109" y="290" width="3" height="137" fill="#ff0000"/>
<rect x="1114" y="275" width="1" height="25" fill="#00ff00"/>
<rect x="1113" y="291" width="3" height="4" fill="#00ff00"/>
<rect x="1118" y="282" width="1" height="17" fill="#ff0000"/>
<rect x="1117" y="288" width="3" height="6" fill="#ff0000"/>
<rect x="1122" y="193" width="1" height="96" fill="#ff0000"/>
<rect x="1121" y="198" width="3" height="91" fill="#ff0000"/>
<rect x="1126" y="181" width="1" height="36" fill="#ff0000"/>
<rect x="1125" y="181" width="3" height="18" fill="#ff0000"/>
<rect x="1130" y="152" width="1" height="47" fill="#ff0000"/>
<rect x="1129" y="156" width="3" height="26" fill="#ff0000"/>
<rect x="1134" y="137" width="1" height="34" fill="#ff0000"/>
<rect x="1133" y="150" width="3" height="8" fill="#ff0000"/>
<rect x="1138" y="142" width="1" height="20" fill="#00ff00"/>
<rect x="1137" y="150" width="3" height="7" fill="#00ff00"/>
<rect x="1142" y="135" width="1" height="31" fill="#ff0000"/>
<rect x="1141" y="150" width="3" height="7" fill="#ff0000"/>
<rect x="1146" y="126" width="1" height="34" fill="#ff0000"/>
<rect x="1145" y="140" width="3" height="11" fill="#ff0000"/>
<rect x="1150" y="87" width="1" height="63" fill="#ff0000"/>
<rect x="1149" y="89" width="3" height="53" fill="#ff0000"/>
<rect x="1154" y="74" width="1" height="29" fill="#00ff00"/>
<rect x="1153" y="90" width="3" height="10" fill="#00ff00"/>
<rect x="1158" y="91" width="1" height="19" fill="#ff0000"/>
<rect x="1157" y="92" width="3" height="8" fill="#ff0000"/>
<rect x="1162" y="81" width="1" height="17" fill="#00ff00"/>
<rect x="1161" y="86" width="3" height="3" fill="#00ff00"/>
<rect x="1166" y="68" width="1" height="40" fill="#00ff00"/>
<rect x="1165" y="88" width="3" height="8" fill="#00ff00"/>
<rect x="1170" y="66" width="1" height="45" fill="#00ff00"/>
<rect x="1169" y="93" width="3" height="13" fill="#00ff00"/>
<rect x="1174" y="95" width="1" height="62" fill="#00ff00"/>
<rect x="1173" y="104" width="3" height="38" fill="#00ff00"/>
<rect x="1178" y="133" width="1" height="16" fill="#00ff00"/>
<rect x="1177" y="140" width="3" height="3" fill="#00ff00"/>
<rect x="1182" y="136" width="1" height="20" fill="#00ff00"/>
<rect x="1181" y="141" width="3" height="14" fill="#00ff00"/>
<rect x="1186" y="129" width="1" height="28" fill="#ff0000"/>
<rect x="1185" y="130" width="3" height="25" fill="#ff0000"/>
<rect x="1190" y="108" width="1" height="27" fill="#ff0000"/>
<rect x="1189" y="108" width="3" height="26" fill="#ff0000"/>
<rect x="1194" y="101" width="1" height="38" fill="#ff0000"/>
<rect x="1193" y="102" width="3" height="8" fill="#ff0000"/>
<rect x="1198" y="101" width="1" height="30" fill="#00ff00"/>
<rect x="1197" y="102" width="3" height="21" fill="#00ff00"/>
<rect x="1202" y="110" width="1" height="25" fill="#ff0000"/>
<rect x="1201" y="118" width="3" height="6" fill="#ff0000"/>
<rect x="1206" y="112" width="1" height="48" fill="#00ff00"/>
<rect x="1205" y="119" width="3" height="29" fill="#00ff00"/>
<rect x="1210" y="122" width="1" height="38" fill="#ff0000"/>
<rect x="1209" y="123" width="3" height="25" fill="#ff0000"/>
<rect x="1214" y="118" width="1" height="18" fill="#00ff00"/>
<rect x="1213" y="123" width="3" height="11" fill="#00ff00"/>
<rect x="1218" y="126" width="1" height="29" fill="#00ff00"/>
<rect x="1217" y="132" width="3" height="14" fill="#00ff00"/>
<rect x="1222" y="136" width="1" height="51" fill="#00ff00"/>
<rect x="1221" y="144" width="3" height="41" fill="#00ff00"/>
<rect x="1226" y="157" width="1" height="30" fill="#ff0000"/>
<rect x="1225" y="163" width="3" height="22" fill="#ff0000"/>
<rect x="1230" y="131" width="1" height="34" fill="#ff0000"/>
<rect x="1229" y="136" width="3" height="29" fill="#ff0000"/>
<rect x="1234" y="126" width="1" height="15" fill="#ff0000"/>
<rect x="1233" y="134" width="3" height="4" fill="#ff0000"/>
<rect x="1238" y="124" width="1" height="16" fill="#ff0000"/>
<rect x="1237" y="131" width="3" height="6" fill="#ff0000"/>
<rect x="1242" y="119" width="1" height="28" fill="#00ff00"/>
<rect x="1241" y="130" width="3" height="15" fill="#00ff00"/>
<rect x="1246" y="130" width="1" height="29" fill="#00ff00"/>
<rect x="1245" y="143" width="3" height="11" fill="#00ff00"/>
<rect x="1250" y="126" width="1" height="30" fill="#ff0000"/>
<rect x="1249" y="134" width="3" height="20" fill="#ff0000"/>
<rect x="1254" y="134" width="1" height="16" fill="#00ff00"/>
<rect x="1253" y="135" width="3" height="13" fill="#00ff00"/>
<rect x="1258" y="144" width="1" height="20" fill="#00ff00"/>
<rect x="1257" y="146" width="3" height="15" fill="#00ff00"/>
<rect x="1262" y="150" width="1" height="12" fill="#ff0000"/>
<rect x="1261" y="152" width="3" height="9" fill="#ff0000"/>
<rect x="1266" y="151" width="1" height="22" fill="#00ff00"/>
<rect x="1265" y="152" width="3" height="16" fill="#00ff00"/>
<rect x="1270" y="154" width="1" height="50" fill="#00ff00"/>
<rect x="1269" y="166" width="3" height="36" fill="#00ff00"/>
<rect x="1274" y="150" width="1" height="52" fill="#ff0000"/>
<rect x="1273" y="153" width="3" height="49" fill="#ff0000"/>
<rect x="1278" y="144" width="1" height="17" fill="#ff0000"/>
<rect x="1277" y="150" width="3" height="6" fill="#ff0000"/>
</g>
<path d="M2 32h1v1h-1zM3 33h1v2h-1zM4 35h1v1h-1zM5 36h1v2h-1zM6 38h1v1h-1zM7 39h1v1h-1zM8 40h1v2h-1zM9 42h1v1h-1zM10 43h1v1h-1zM11 44h1v1h-1zM12 45h1v2h-1zM13 47h1v1h-1zM14 48h1v1h-1zM15 49h1v1h-1zM16 50h1v1h-1zM17 51h1v1h-1zM18 52h1v1h-1zM19 53h1v1h-1zM20 54h2v1h-2zM22 55h1v1h-1zM23 56h1v1h-1zM24 57h2v1h-2zM26 58h1v1h-1zM27 59h1v1h-1zM28 60h2v1h-2zM30 61h1v1h-1zM31 62h2v1h-2zM33 63h2v1h-2zM35 64h1v1h-1zM36 65h2v1h-2zM38 66h1v1h-1zM39 67h2v1h-2zM41 68h2v1h-2zM43 69h2v1h-2zM45 70h3v1h-3zM48 71h3v1h-3zM51 72h2v1h-2zM53 73h3v1h-3zM56 74h3v1h-3zM59 75h2v1h-2zM61 76h2v1h-2zM63 77h1v1h-1zM64 78h2v1h-2zM66 79h1v1h-1zM67 80h2v1h-2zM69 81h2v1h-2zM71 82h1v1h-1zM72 83h2v1h-2zM74 84h1v1h-1zM75 85h1v1h-1zM76 86h2v1h-2zM78 87h1v1h-1zM79 88h2v1h-2zM81 89h2v1h-2zM83 90h2v1h-2zM85 91h2v1h-2zM87 92h1v2h-1zM88 94h1v1h-1zM89 95h1v2h-1zM90 97h1v1h-1zM91 98h1v1h-1zM92 99h2v1h-2zM94 100h1v1h-1zM95 101h1v1h-1zM96 102h1v1h-1zM97 103h1v1h-1zM98 104h1v1h-1zM99 105h1v1h-1zM100 106h2v1h-2zM102 107h1v1h-1zM103 108h1v1h-1zM104 109h1v1h-1zM105 110h1v1h-1zM106 111h1v1h-1zM107 112h1v1h-1zM108 113h1v2h-1zM109 115h1v1h-1zM110 116h1v1h-1zM111 117h1v1h-1zM112 118h1v1h-1zM113 119h1v1h-1zM114 120h1v1h-1zM115 121h1v1h-1zM116 122h1v1h-1zM117 123h1v1h-1zM118 124h1v1h-1zM119 125h1v1h-1zM120 126h2v1h-2zM122 127h1v1h-1zM123 128h2v1h-2zM125 129h2v1h-2zM127 130h2v1h-2zM1248 130h16v1h-16zM129 131h2v1h-2zM1244 131h4v1h-4zM1264 131h3v1h-3zM131 132h2v1h-2zM1241 132h3v1h-3zM1267 132h1v1h-1zM133 133h2v1h-2zM1239 133h2v1h-2zM1268 133h1v1h-1zM135 134h2v1h-2zM1238 134h1v1h-1zM1269 134h1v1h-1zM137 135h2v1h-2zM1237 135h1v1h-1zM1270 135h1v1h-1zM139 136h2v1h-2zM1271 136h2v1h-2zM1236 136h1v2h-1zM141 137h2v1h-2zM1273 137h2v1h-2zM143 138h1v1h-1zM1235 138h1v1h-1zM1275 138h2v1h-2zM144 139h2v1h-2zM1234 139h1v1h-1zM1277 139h2v1h-2zM146 140h1v1h-1zM1233 140h1v1h-1zM147 141h1v1h-1zM1232 141h1v2h-1zM148 142h2v1h-2zM150 143h1v1h-1zM1231 143h1v1h-1zM151 144h1v1h-1zM1230 144h1v1h-1zM152 145h1v1h-1zM1229 145h1v1h-1zM153 146h1v1h-1zM1228 146h1v2h-1zM154 147h1v1h-1zM155 148h1v1h-1zM1227 148h1v1h-1zM156 149h2v1h-2zM1226 149h1v2h-1zM158 150h1v1h-1zM159 151h1v1h-1zM1225 151h1v2h-1zM160 152h2v1h-2zM162 153h1v1h-1zM1224 153h1v2h-1zM163 154h2v1h-2zM165 155h2v1h-2zM1223 155h1v2h-1zM167 156h2v1h-2zM169 157h2v1h-2zM1222 157h1v3h-1zM171 158h2v1h-2zM173 159h2v1h-2zM175 160h1v1h-1zM1221 160h1v2h-1zM176 161h2v1h-2zM178 162h1v1h-1zM1220 162h1v2h-1zM179 163h1v1h-1zM180 164h2v1h-2zM1219 164h1v2h-1zM182 165h1v1h-1zM183 166h2v1h-2zM1218 166h1v2h-1zM185 167h2v1h-2zM187 168h2v1h-2zM1217 168h1v2h-1zM189 169h2v1h-2zM191 170h2v1h-2zM1216 170h1v2h-1zM193 171h2v1h-2zM195 172h1v1h-1zM1215 172h1v2h-1zM196 173h2v1h-2zM198 174h1v1h-1zM1214 174h1v3h-1zM199 175h1v1h-1zM200 176h1v1h-1zM201 177h1v1h-1zM1213 177h1v2h-1zM202 178h1v1h-1zM203 179h1v1h-1zM1212 179h1v3h-1zM204 180h2v1h-2zM208 180h4v1h-4zM206 181h2v1h-2zM212 181h8v1h-8zM228 181h4v1h-4zM220 182h8v1h-8zM232 182h4v1h-4zM1211 182h1v2h-1zM236 183h8v1h-8zM244 184h12v1h-12zM1210 184h1v3h-1zM256 185h3v1h-3zM259 186h2v1h-2zM261 187h2v1h-2zM1209 187h1v2h-1zM263 188h2v1h-2zM265 189h2v1h-2zM1208 189h1v3h-1zM267 190h1v1h-1zM268 191h1v1h-1zM269 192h1v1h-1zM1207 192h1v2h-1zM270 193h1v1h-1zM271 194h1v1h-1zM1206 194h1v3h-1zM272 195h2v1h-2zM274 196h1v1h-1zM275 197h1v1h-1zM1205 197h1v2h-1zM276 198h1v1h-1zM277 199h1v1h-1zM1204 199h1v2h-1zM278 200h1v1h-1zM279 201h1v1h-1zM1203 201h1v2h-1zM280 202h2v1h-2zM282 203h1v1h-1zM1202 203h1v3h-1zM283 204h1v1h-1zM284 205h2v1h-2zM286 206h1v1h-1zM1201 206h1v3h-1zM287 207h1v1h-1zM288 208h1v1h-1zM289 209h1v1h-1zM1200 209h1v2h-1zM290 210h1v1h-1zM291 211h1v1h-1zM1199 211h1v3h-1zM292 212h1v1h-1zM293 213h1v1h-1zM294 214h1v1h-1zM1198 214h1v3h-1zM295 215h1v1h-1zM296 216h1v1h-1zM297 217h1v1h-1zM1197 217h1v2h-1zM298 218h1v1h-1zM299 219h1v1h-1zM1196 219h1v3h-1zM300 220h1v1h-1zM301 221h1v1h-1zM302 222h1v1h-1zM1195 222h1v2h-1zM303 223h1v1h-1zM304 224h2v1h-2zM1194 224h1v3h-1zM306 225h1v1h-1zM307 226h2v1h-2zM309 227h3v1h-3zM1193 227h1v3h-1zM312 228h15v1h-15zM327 229h2v1h-2zM329 230h3v1h-3zM1192 230h1v2h-1zM332 231h3v1h-3zM335 232h2v1h-2zM1191 232h1v3h-1zM337 233h3v1h-3zM397 233h7v1h-7zM340 234h3v1h-3zM395 234h2v1h-2zM404 234h12v1h-12zM343 235h2v1h-2zM352 235h4v1h-4zM393 235h2v1h-2zM416 235h8v1h-8zM1190 235h1v3h-1zM345 236h7v1h-7zM356 236h12v1h-12zM391 236h2v1h-2zM424 236h3v1h-3zM368 237h4v1h-4zM389 237h2v1h-2zM427 237h1v1h-1zM372 238h4v1h-4zM387 238h2v1h-2zM428 238h2v1h-2zM1189 238h1v2h-1zM376 239h4v1h-4zM384 239h3v1h-3zM430 239h1v1h-1zM380 240h4v1h-4zM431 240h1v1h-1zM1188 240h1v3h-1zM432 241h1v2h-1zM433 243h1v1h-1zM1187 243h1v2h-1zM434 244h1v1h-1zM435 245h1v2h-1zM1186 245h1v3h-1zM436 247h1v1h-1zM437 248h1v2h-1zM1185 248h1v2h-1zM438 250h1v1h-1zM1184 250h1v2h-1zM439 251h1v2h-1zM1183 252h1v2h-1zM440 253h1v1h-1zM441 254h1v2h-1zM1182 254h1v3h-1zM442 256h1v1h-1zM443 257h1v2h-1zM1181 257h1v2h-1zM444 259h1v1h-1zM1180 259h1v2h-1zM445 260h1v2h-1zM1179 261h1v2h-1zM446 262h1v1h-1zM447 263h1v2h-1zM1178 263h1v3h-1zM448 265h1v1h-1zM449 266h1v2h-1zM1177 266h1v2h-1zM450 268h1v1h-1zM1176 268h1v2h-1zM451 269h1v1h-1zM452 270h1v2h-1zM1175 270h1v2h-1zM453 272h1v1h-1zM1174 272h1v3h-1zM454 273h1v1h-1zM455 274h1v2h-1zM1173 275h1v2h-1zM456 276h1v1h-1zM457 277h1v2h-1zM1172 277h1v2h-1zM458 279h1v1h-1zM1171 279h1v2h-1zM459 280h1v1h-1zM460 281h1v2h-1zM1170 281h1v3h-1zM461 283h1v1h-1zM462 284h1v1h-1zM1169 284h1v3h-1zM463 285h1v2h-1zM464 287h1v1h-1zM1168 287h1v2h-1zM465 288h1v2h-1zM1167 289h1v3h-1zM466 290h1v1h-1zM467 291h1v2h-1zM1166 292h1v3h-1zM468 293h1v2h-1zM469 295h1v2h-1zM1165 295h1v3h-1zM470 297h1v1h-1zM471 298h1v2h-1zM1164 298h1v2h-1zM472 300h1v1h-1zM1163 300h1v3h-1zM473 301h1v2h-1zM474 303h1v1h-1zM1162 303h1v3h-1zM475 304h1v1h-1zM476 305h1v2h-1zM1161 306h1v3h-1zM477 307h1v1h-1zM478 308h1v1h-1zM479 309h1v2h-1zM1160 309h1v2h-1zM480 311h1v1h-1zM1159 311h1v3h-1zM481 312h1v2h-1zM482 314h1v1h-1zM1158 314h1v3h-1zM483 315h1v1h-1zM484 316h1v1h-1zM485 317h1v1h-1zM1157 317h1v3h-1zM486 318h1v1h-1zM487 319h1v1h-1zM488 320h1v1h-1zM1156 320h1v2h-1zM489 321h1v1h-1zM490 322h1v1h-1zM1155 322h1v3h-1zM491 323h1v1h-1zM492 324h1v1h-1zM493 325h1v1h-1zM1154 325h1v3h-1zM494 326h1v1h-1zM495 327h1v1h-1zM496 328h1v2h-1zM1153 328h1v3h-1zM497 330h1v1h-1zM498 331h1v1h-1zM1152 331h1v2h-1zM499 332h1v1h-1zM500 333h1v1h-1zM1151 333h1v3h-1zM501 334h1v1h-1zM502 335h1v1h-1zM503 336h2v1h-2zM1150 336h1v3h-1zM505 337h2v1h-2zM507 338h2v1h-2zM509 339h2v1h-2zM1149 339h1v3h-1zM511 340h2v1h-2zM513 341h2v1h-2zM515 342h1v1h-1zM1148 342h1v2h-1zM516 343h2v1h-2zM518 344h5v1h-5zM1147 344h1v3h-1zM523 345h2v1h-2zM525 346h3v1h-3zM528 347h4v1h-4zM584 347h7v1h-7zM1146 347h1v3h-1zM532 348h4v1h-4zM580 348h4v1h-4zM591 348h2v1h-2zM536 349h3v1h-3zM576 349h4v1h-4zM593 349h2v1h-2zM539 350h2v1h-2zM572 350h4v1h-4zM595 350h1v1h-1zM1145 350h1v3h-1zM541 351h3v1h-3zM564 351h8v1h-8zM596 351h2v1h-2zM544 352h3v1h-3zM560 352h4v1h-4zM598 352h2v1h-2zM547 353h2v1h-2zM552 353h8v1h-8zM600 353h3v1h-3zM1144 353h1v2h-1zM549 354h3v1h-3zM603 354h1v1h-1zM604 355h2v1h-2zM1143 355h1v3h-1zM606 356h1v1h-1zM607 357h1v1h-1zM608 358h2v1h-2zM1142 358h1v3h-1zM610 359h1v1h-1zM611 360h1v1h-1zM612 361h1v1h-1zM1141 361h1v3h-1zM613 362h1v1h-1zM614 363h1v1h-1zM615 364h2v1h-2zM1140 364h1v2h-1zM617 365h2v1h-2zM619 366h1v1h-1zM1139 366h1v3h-1zM620 367h2v1h-2zM622 368h1v1h-1zM623 369h1v1h-1zM1138 369h1v3h-1zM624 370h1v1h-1zM625 371h1v1h-1zM626 372h1v1h-1zM1137 372h1v3h-1zM627 373h2v1h-2zM629 374h2v1h-2zM631 375h2v1h-2zM1136 375h1v3h-1zM633 376h2v1h-2zM635 377h2v1h-2zM637 378h2v1h-2zM1135 378h1v3h-1zM639 379h1v1h-1zM640 380h1v1h-1zM641 381h1v1h-1zM1134 381h1v3h-1zM642 382h1v1h-1zM643 383h1v1h-1zM644 384h2v1h-2zM1133 384h1v3h-1zM646 385h1v1h-1zM647 386h1v1h-1zM648 387h1v1h-1zM1132 387h1v2h-1zM649 388h1v1h-1zM650 389h1v1h-1zM1131 389h1v3h-1zM651 390h1v1h-1zM652 391h1v1h-1zM653 392h1v1h-1zM1130 392h1v3h-1zM654 393h1v1h-1zM655 394h1v1h-1zM656 395h1v1h-1zM1129 395h1v2h-1zM657 396h1v1h-1zM658 397h1v1h-1zM1128 397h1v3h-1zM659 398h1v1h-1zM660 399h1v1h-1zM661 400h1v1h-1zM1127 400h1v2h-1zM662 401h1v1h-1zM663 402h1v1h-1zM1126 402h1v3h-1zM664 403h1v1h-1zM665 404h1v1h-1zM666 405h2v1h-2zM1125 405h1v2h-1zM668 406h4v1h-4zM672 407h3v1h-3zM1124 407h1v3h-1zM675 408h2v1h-2zM677 409h2v1h-2zM679 410h1v1h-1zM905 410h3v1h-3zM924 410h4v1h-4zM1123 410h1v2h-1zM680 411h2v1h-2zM903 411h2v1h-2zM908 411h16v1h-16zM928 411h8v1h-8zM682 412h1v1h-1zM902 412h1v1h-1zM936 412h4v1h-4zM1122 412h1v3h-1zM683 413h2v1h-2zM900 413h2v1h-2zM940 413h8v1h-8zM685 414h3v1h-3zM899 414h1v1h-1zM948 414h4v1h-4zM688 415h3v1h-3zM898 415h1v1h-1zM952 415h20v1h-20zM1121 415h1v2h-1zM691 416h2v1h-2zM896 416h2v1h-2zM972 416h3v1h-3zM693 417h2v1h-2zM895 417h1v1h-1zM975 417h2v1h-2zM1120 417h1v2h-1zM695 418h1v1h-1zM894 418h1v1h-1zM977 418h2v1h-2zM696 419h2v1h-2zM892 419h2v1h-2zM979 419h1v1h-1zM1119 419h1v2h-1zM698 420h1v1h-1zM891 420h1v1h-1zM980 420h2v1h-2zM699 421h2v1h-2zM890 421h1v1h-1zM982 421h2v1h-2zM1118 421h1v2h-1zM701 422h2v1h-2zM889 422h1v1h-1zM984 422h4v1h-4zM703 423h1v1h-1zM888 423h1v1h-1zM988 423h4v1h-4zM1117 423h1v2h-1zM704 424h2v1h-2zM887 424h1v1h-1zM992 424h3v1h-3zM706 425h1v1h-1zM884 425h3v1h-3zM995 425h2v1h-2zM1116 425h1v1h-1zM707 426h1v1h-1zM880 426h4v1h-4zM997 426h2v1h-2zM1115 426h1v2h-1zM708 427h2v1h-2zM876 427h4v1h-4zM999 427h2v1h-2zM710 428h2v1h-2zM864 428h12v1h-12zM1001 428h2v1h-2zM1114 428h1v1h-1zM712 429h4v1h-4zM860 429h4v1h-4zM1003 429h1v1h-1zM1113 429h1v2h-1zM716 430h4v1h-4zM858 430h2v1h-2zM1004 430h1v1h-1zM720 431h4v1h-4zM856 431h2v1h-2zM1005 431h1v1h-1zM1112 431h1v1h-1zM724 432h4v1h-4zM855 432h1v1h-1zM1006 432h1v1h-1zM1111 432h1v2h-1zM728 433h4v1h-4zM852 433h3v1h-3zM1007 433h1v1h-1zM732 434h3v1h-3zM848 434h4v1h-4zM1008 434h1v1h-1zM1110 434h1v1h-1zM735 435h1v1h-1zM836 435h4v1h-4zM844 435h4v1h-4zM1009 435h1v1h-1zM1109 435h1v1h-1zM736 436h2v1h-2zM833 436h3v1h-3zM840 436h4v1h-4zM1010 436h1v1h-1zM1108 436h1v2h-1zM738 437h1v1h-1zM831 437h2v1h-2zM1011 437h1v1h-1zM739 438h2v1h-2zM828 438h3v1h-3zM1012 438h1v1h-1zM1107 438h1v1h-1zM741 439h3v1h-3zM824 439h4v1h-4zM1013 439h1v1h-1zM1105 439h2v1h-2zM744 440h3v1h-3zM821 440h3v1h-3zM1014 440h1v1h-1zM1103 440h2v1h-2zM747 441h1v1h-1zM819 441h2v1h-2zM1015 441h1v1h-1zM1102 441h1v1h-1zM748 442h1v1h-1zM813 442h6v1h-6zM1100 442h2v1h-2zM1016 442h1v2h-1zM749 443h1v1h-1zM811 443h2v1h-2zM1099 443h1v1h-1zM750 444h1v1h-1zM808 444h3v1h-3zM1017 444h1v1h-1zM1097 444h2v1h-2zM751 445h2v1h-2zM804 445h4v1h-4zM1018 445h1v1h-1zM1095 445h2v1h-2zM753 446h2v1h-2zM796 446h8v1h-8zM1019 446h1v1h-1zM1089 446h6v1h-6zM755 447h1v1h-1zM788 447h8v1h-8zM1087 447h2v1h-2zM1020 447h1v2h-1zM756 448h1v1h-1zM785 448h3v1h-3zM1080 448h7v1h-7zM757 449h1v1h-1zM783 449h2v1h-2zM1021 449h1v1h-1zM1077 449h3v1h-3zM758 450h14v1h-14zM780 450h3v1h-3zM1022 450h1v1h-1zM1075 450h2v1h-2zM772 451h8v1h-8zM1023 451h1v1h-1zM1068 451h7v1h-7zM1024 452h1v1h-1zM1064 452h4v1h-4zM1025 453h1v1h-1zM1060 453h4v1h-4zM1026 454h14v1h-14zM1056 454h4v1h-4zM1040 455h8v1h-8zM1052 455h4v1h-4zM1048 456h4v1h-4z" fill="#0000cd" shape-rendering="crispEdges"/>
<path d="M2 61h1v1h-1zM3 62h1v2h-1zM4 64h1v1h-1zM5 65h1v2h-1zM6 67h1v1h-1zM7 68h1v2h-1zM8 70h1v1h-1zM9 71h1v2h-1zM10 73h1v1h-1zM11 74h1v2h-1zM12 76h1v1h-1zM13 77h1v2h-1zM14 79h1v1h-1zM15 80h1v1h-1zM16 81h1v1h-1zM17 82h1v1h-1zM18 83h1v1h-1zM19 84h2v1h-2zM21 85h3v1h-3zM33 85h7v1h-7zM24 86h4v1h-4zM31 86h2v1h-2zM40 86h3v1h-3zM28 87h3v1h-3zM43 87h1v1h-1zM44 88h2v1h-2zM46 89h1v1h-1zM61 89h3v1h-3zM47 90h2v1h-2zM59 90h2v1h-2zM64 90h7v1h-7zM49 91h3v1h-3zM56 91h3v1h-3zM71 91h2v1h-2zM52 92h4v1h-4zM73 92h2v1h-2zM75 93h1v1h-1zM76 94h2v1h-2zM78 95h1v1h-1zM79 96h2v1h-2zM81 97h2v1h-2zM83 98h1v1h-1zM84 99h2v1h-2zM86 100h1v2h-1zM87 102h1v2h-1zM88 104h1v3h-1zM89 107h1v2h-1zM90 109h1v3h-1zM91 112h1v2h-1zM1201 113h2v1h-2zM1199 114h2v1h-2zM1203 114h1v1h-1zM92 114h1v2h-1zM1197 115h2v1h-2zM1204 115h1v1h-1zM1195 116h2v1h-2zM1205 116h1v1h-1zM93 116h1v2h-1zM1194 117h1v1h-1zM1206 117h1v1h-1zM1193 118h1v1h-1zM1207 118h2v1h-2zM94 118h1v2h-1zM1192 119h1v1h-1zM1209 119h2v1h-2zM1191 120h1v1h-1zM1211 120h1v1h-1zM95 120h1v2h-1zM1190 121h1v1h-1zM1212 121h2v1h-2zM1188 122h2v1h-2zM1214 122h1v1h-1zM96 122h1v2h-1zM1187 123h1v1h-1zM1215 123h1v1h-1zM1185 124h2v1h-2zM1216 124h1v1h-1zM97 124h1v2h-1zM1183 125h2v1h-2zM1217 125h1v1h-1zM98 126h1v1h-1zM1180 126h3v1h-3zM1218 126h1v1h-1zM1178 127h2v1h-2zM99 127h1v2h-1zM1219 127h1v2h-1zM1177 128h1v1h-1zM1176 129h1v1h-1zM1220 129h1v1h-1zM100 129h1v2h-1zM1175 130h1v1h-1zM1221 130h1v2h-1zM101 131h1v2h-1zM1174 131h1v2h-1zM1222 132h1v1h-1zM102 133h1v1h-1zM1223 133h1v1h-1zM1173 133h1v3h-1zM1237 134h3v1h-3zM103 134h1v2h-1zM1224 134h1v2h-1zM1235 135h2v1h-2zM1240 135h3v1h-3zM1225 136h1v1h-1zM1228 136h7v1h-7zM1243 136h1v1h-1zM104 136h1v2h-1zM1172 136h1v2h-1zM1226 137h2v1h-2zM1244 137h2v1h-2zM1246 138h1v1h-1zM105 138h1v2h-1zM1171 138h1v3h-1zM1247 139h2v1h-2zM106 140h1v1h-1zM1249 140h2v1h-2zM1251 141h2v1h-2zM107 141h1v2h-1zM1170 141h1v3h-1zM1253 142h2v1h-2zM1255 143h1v1h-1zM108 143h1v2h-1zM1256 144h2v1h-2zM1169 144h1v3h-1zM1258 145h2v1h-2zM109 145h1v2h-1zM1260 146h3v1h-3zM110 147h1v1h-1zM1263 147h1v1h-1zM1168 147h1v4h-1zM1264 148h2v1h-2zM111 148h1v2h-1zM1266 149h1v1h-1zM1267 150h1v1h-1zM112 150h1v2h-1zM1268 151h1v2h-1zM1167 151h1v3h-1zM1277 152h2v1h-2zM113 152h1v2h-1zM1269 153h1v1h-1zM1275 153h2v1h-2zM114 154h1v1h-1zM1270 154h5v1h-5zM1166 154h1v3h-1zM115 155h1v2h-1zM116 157h1v2h-1zM1165 157h1v4h-1zM117 159h1v2h-1zM118 161h1v1h-1zM1164 161h1v3h-1zM119 162h1v1h-1zM120 163h1v2h-1zM1163 164h1v4h-1zM121 165h1v1h-1zM180 165h4v1h-4zM122 166h1v1h-1zM177 166h3v1h-3zM184 166h7v1h-7zM123 167h1v1h-1zM175 167h2v1h-2zM191 167h2v1h-2zM124 168h2v1h-2zM173 168h2v1h-2zM193 168h2v1h-2zM1162 168h1v5h-1zM126 169h1v1h-1zM171 169h2v1h-2zM195 169h1v2h-1zM127 170h1v1h-1zM169 170h2v1h-2zM167 171h2v1h-2zM196 171h1v1h-1zM128 171h1v2h-1zM166 172h1v1h-1zM197 172h1v2h-1zM129 173h1v1h-1zM164 173h2v1h-2zM1161 173h1v6h-1zM130 174h1v1h-1zM163 174h1v1h-1zM198 174h1v1h-1zM131 175h1v1h-1zM160 175h3v1h-3zM199 175h1v1h-1zM132 176h1v1h-1zM156 176h4v1h-4zM200 176h1v1h-1zM133 177h1v1h-1zM152 177h4v1h-4zM201 177h1v1h-1zM134 178h1v1h-1zM148 178h4v1h-4zM202 178h1v1h-1zM135 179h1v1h-1zM146 179h2v1h-2zM203 179h1v1h-1zM1160 179h1v6h-1zM136 180h1v1h-1zM145 180h1v1h-1zM204 180h2v1h-2zM137 181h1v1h-1zM144 181h1v1h-1zM206 181h1v1h-1zM138 182h2v1h-2zM143 182h1v1h-1zM207 182h2v1h-2zM140 183h3v1h-3zM209 183h2v1h-2zM211 184h2v1h-2zM213 185h3v1h-3zM1159 185h1v6h-1zM216 186h3v1h-3zM219 187h1v1h-1zM220 188h1v1h-1zM221 189h1v1h-1zM222 190h1v1h-1zM223 191h1v1h-1zM1158 191h1v5h-1zM224 192h2v1h-2zM226 193h2v1h-2zM228 194h3v1h-3zM231 195h1v1h-1zM232 196h2v1h-2zM260 196h3v1h-3zM1157 196h1v6h-1zM234 197h1v1h-1zM258 197h2v1h-2zM263 197h2v1h-2zM235 198h2v1h-2zM256 198h2v1h-2zM265 198h2v1h-2zM237 199h3v1h-3zM255 199h1v1h-1zM267 199h1v1h-1zM240 200h3v1h-3zM253 200h2v1h-2zM268 200h1v2h-1zM243 201h2v1h-2zM251 201h2v1h-2zM245 202h6v1h-6zM269 202h1v1h-1zM1156 202h1v6h-1zM270 203h1v1h-1zM271 204h1v2h-1zM272 206h1v2h-1zM273 208h1v2h-1zM1155 208h1v6h-1zM274 210h1v1h-1zM275 211h1v1h-1zM398 211h1v1h-1zM276 212h1v1h-1zM396 212h2v1h-2zM399 212h1v1h-1zM277 213h1v1h-1zM395 213h1v1h-1zM400 213h2v1h-2zM278 214h1v1h-1zM393 214h2v1h-2zM402 214h1v1h-1zM1154 214h1v5h-1zM391 215h2v1h-2zM279 215h1v2h-1zM403 215h1v2h-1zM390 216h1v1h-1zM388 217h2v1h-2zM280 217h1v2h-1zM404 217h1v2h-1zM387 218h1v1h-1zM384 219h3v1h-3zM281 219h1v2h-1zM405 219h1v2h-1zM1153 219h1v6h-1zM376 220h8v1h-8zM282 221h1v1h-1zM372 221h4v1h-4zM406 221h1v1h-1zM283 222h1v1h-1zM366 222h6v1h-6zM407 222h1v2h-1zM284 223h1v1h-1zM364 223h2v1h-2zM285 224h1v1h-1zM363 224h1v1h-1zM408 224h1v1h-1zM286 225h1v1h-1zM362 225h1v1h-1zM409 225h1v2h-1zM1152 225h1v6h-1zM287 226h1v1h-1zM361 226h1v1h-1zM410 227h1v1h-1zM288 227h1v2h-1zM360 227h1v2h-1zM411 228h1v1h-1zM289 229h1v1h-1zM359 229h1v1h-1zM412 229h1v1h-1zM290 230h1v1h-1zM358 230h1v1h-1zM413 230h1v1h-1zM357 231h1v1h-1zM414 231h1v1h-1zM291 231h1v2h-1zM1151 231h1v6h-1zM356 232h1v1h-1zM415 232h1v2h-1zM292 233h1v1h-1zM355 233h1v1h-1zM354 234h1v1h-1zM416 234h1v1h-1zM293 234h1v2h-1zM353 235h1v2h-1zM417 235h1v2h-1zM294 236h1v1h-1zM295 237h1v1h-1zM418 237h1v1h-1zM352 237h1v2h-1zM1150 237h1v6h-1zM296 238h1v2h-1zM419 238h1v2h-1zM351 239h1v2h-1zM297 240h1v1h-1zM420 240h1v1h-1zM298 241h1v1h-1zM350 241h1v1h-1zM421 241h1v2h-1zM299 242h1v1h-1zM349 242h1v2h-1zM422 243h1v1h-1zM300 243h1v2h-1zM1149 243h1v6h-1zM348 244h1v2h-1zM423 244h1v2h-1zM301 245h1v1h-1zM302 246h1v1h-1zM424 246h1v1h-1zM347 246h1v2h-1zM303 247h1v2h-1zM425 247h1v2h-1zM346 248h1v1h-1zM344 249h2v1h-2zM304 249h1v2h-1zM426 249h1v2h-1zM1148 249h1v6h-1zM338 250h2v1h-2zM343 250h1v1h-1zM336 251h2v1h-2zM340 251h3v1h-3zM305 251h1v2h-1zM427 251h1v2h-1zM335 252h1v1h-1zM306 253h1v1h-1zM332 253h3v1h-3zM428 253h1v3h-1zM307 254h1v1h-1zM330 254h2v1h-2zM329 255h1v1h-1zM308 255h1v2h-1zM1147 255h1v6h-1zM328 256h1v1h-1zM429 256h1v2h-1zM309 257h1v1h-1zM327 257h1v1h-1zM310 258h1v1h-1zM326 258h1v1h-1zM430 258h1v3h-1zM311 259h1v1h-1zM324 259h2v1h-2zM312 260h2v1h-2zM323 260h1v1h-1zM314 261h1v1h-1zM321 261h2v1h-2zM431 261h1v4h-1zM1146 261h1v6h-1zM315 262h2v1h-2zM319 262h2v1h-2zM317 263h2v1h-2zM432 265h1v3h-1zM1145 267h1v5h-1zM433 268h1v4h-1zM434 272h1v3h-1zM1144 272h1v5h-1zM435 275h1v3h-1zM1143 277h1v5h-1zM436 278h1v4h-1zM437 282h1v3h-1zM1142 282h1v5h-1zM438 285h1v3h-1zM1141 287h1v5h-1zM439 288h1v3h-1zM440 291h1v2h-1zM1140 292h1v5h-1zM441 293h1v3h-1zM442 296h1v3h-1zM1139 297h1v5h-1zM443 299h1v4h-1zM1138 302h1v5h-1zM444 303h1v3h-1zM445 306h1v4h-1zM1137 307h1v5h-1zM446 310h1v3h-1zM1136 312h1v5h-1zM538 313h6v1h-6zM447 313h1v3h-1zM537 314h1v1h-1zM544 314h3v1h-3zM536 315h1v1h-1zM547 315h1v1h-1zM535 316h1v1h-1zM548 316h1v1h-1zM448 316h1v4h-1zM534 317h1v1h-1zM549 317h1v1h-1zM1135 317h1v5h-1zM533 318h1v1h-1zM550 318h1v1h-1zM532 319h1v1h-1zM551 319h2v1h-2zM531 320h1v1h-1zM553 320h2v1h-2zM449 320h1v3h-1zM530 321h1v1h-1zM555 321h1v1h-1zM529 322h1v1h-1zM556 322h1v1h-1zM1134 322h1v5h-1zM557 323h1v1h-1zM528 323h1v2h-1zM450 323h1v3h-1zM558 324h1v1h-1zM527 325h1v1h-1zM559 325h1v2h-1zM526 326h1v1h-1zM451 326h1v4h-1zM525 327h1v1h-1zM560 327h1v2h-1zM1133 327h1v5h-1zM524 328h1v2h-1zM561 329h1v2h-1zM523 330h1v1h-1zM452 330h1v4h-1zM562 331h1v1h-1zM522 331h1v2h-1zM563 332h1v2h-1zM1132 332h1v4h-1zM521 333h1v2h-1zM564 334h1v2h-1zM453 334h1v4h-1zM520 335h1v2h-1zM565 336h1v2h-1zM1131 336h1v5h-1zM519 337h1v2h-1zM566 338h1v1h-1zM454 338h1v3h-1zM518 339h1v2h-1zM567 339h1v2h-1zM517 341h1v2h-1zM568 341h1v2h-1zM455 341h1v3h-1zM1130 341h1v5h-1zM516 343h1v2h-1zM569 343h1v2h-1zM456 344h1v2h-1zM515 345h1v2h-1zM570 345h1v2h-1zM457 346h1v3h-1zM1129 346h1v5h-1zM514 347h1v2h-1zM571 347h1v2h-1zM458 349h1v2h-1zM513 349h1v2h-1zM572 349h1v2h-1zM459 351h1v2h-1zM573 351h1v2h-1zM512 351h1v3h-1zM1128 351h1v4h-1zM574 353h1v1h-1zM460 353h1v2h-1zM511 354h1v2h-1zM575 354h1v2h-1zM461 355h1v2h-1zM1127 355h1v5h-1zM576 356h1v2h-1zM510 356h1v3h-1zM462 357h1v3h-1zM577 358h1v2h-1zM509 359h1v2h-1zM578 360h1v1h-1zM463 360h1v2h-1zM1126 360h1v5h-1zM579 361h1v1h-1zM508 361h1v2h-1zM580 362h2v1h-2zM464 362h1v2h-1zM582 363h1v1h-1zM507 363h1v2h-1zM583 364h1v1h-1zM465 364h1v2h-1zM584 365h1v2h-1zM506 365h1v3h-1zM1125 365h1v4h-1zM466 366h1v2h-1zM585 367h1v1h-1zM586 368h1v1h-1zM467 368h1v2h-1zM505 368h1v2h-1zM587 369h1v1h-1zM1124 369h1v4h-1zM588 370h1v1h-1zM468 370h1v2h-1zM504 370h1v2h-1zM589 371h1v1h-1zM469 372h1v2h-1zM503 372h1v2h-1zM590 372h1v2h-1zM1123 373h1v4h-1zM470 374h1v2h-1zM502 374h1v2h-1zM591 374h1v2h-1zM471 376h1v1h-1zM501 376h1v2h-1zM592 376h1v2h-1zM472 377h1v2h-1zM1122 377h1v4h-1zM500 378h1v1h-1zM593 378h1v2h-1zM473 379h1v1h-1zM499 379h1v2h-1zM474 380h1v1h-1zM594 380h1v2h-1zM498 381h1v1h-1zM475 381h1v2h-1zM1121 381h1v4h-1zM496 382h2v1h-2zM595 382h1v2h-1zM476 383h1v1h-1zM495 383h1v1h-1zM494 384h1v1h-1zM477 384h1v2h-1zM596 384h1v2h-1zM493 385h1v1h-1zM1120 385h1v4h-1zM478 386h1v1h-1zM492 386h1v2h-1zM597 386h1v2h-1zM928 387h4v1h-4zM479 387h1v2h-1zM491 388h1v1h-1zM598 388h1v1h-1zM926 388h2v1h-2zM932 388h3v1h-3zM480 389h1v1h-1zM490 389h1v1h-1zM924 389h2v1h-2zM935 389h2v1h-2zM599 389h1v2h-1zM1119 389h1v4h-1zM489 390h1v1h-1zM908 390h3v1h-3zM923 390h1v1h-1zM937 390h2v1h-2zM481 390h1v2h-1zM488 391h1v1h-1zM600 391h1v1h-1zM906 391h2v1h-2zM911 391h2v1h-2zM920 391h3v1h-3zM939 391h1v2h-1zM482 392h2v1h-2zM487 392h1v1h-1zM913 392h7v1h-7zM601 392h1v2h-1zM905 392h1v2h-1zM484 393h3v1h-3zM940 393h1v2h-1zM1118 393h1v3h-1zM602 394h1v1h-1zM904 394h1v2h-1zM603 395h1v1h-1zM941 395h1v2h-1zM604 396h1v1h-1zM903 396h1v2h-1zM1117 396h1v2h-1zM605 397h1v1h-1zM942 397h1v1h-1zM606 398h1v1h-1zM902 398h1v2h-1zM943 398h1v2h-1zM1116 398h1v2h-1zM607 399h1v1h-1zM608 400h1v1h-1zM901 400h1v2h-1zM944 400h1v2h-1zM1115 400h1v2h-1zM609 401h1v1h-1zM610 402h1v1h-1zM900 402h1v2h-1zM945 402h1v2h-1zM1114 402h1v3h-1zM611 403h1v1h-1zM636 404h3v1h-3zM946 404h1v1h-1zM612 404h1v2h-1zM899 404h1v2h-1zM634 405h2v1h-2zM639 405h2v1h-2zM947 405h1v2h-1zM1113 405h1v2h-1zM613 406h1v1h-1zM632 406h2v1h-2zM641 406h2v1h-2zM652 406h3v1h-3zM898 406h1v2h-1zM614 407h1v1h-1zM631 407h1v1h-1zM643 407h2v1h-2zM648 407h4v1h-4zM655 407h2v1h-2zM948 407h1v1h-1zM1112 407h1v2h-1zM615 408h2v1h-2zM629 408h2v1h-2zM645 408h3v1h-3zM657 408h3v1h-3zM669 408h2v1h-2zM897 408h1v2h-1zM949 408h1v2h-1zM617 409h3v1h-3zM627 409h2v1h-2zM660 409h4v1h-4zM667 409h2v1h-2zM671 409h1v1h-1zM1111 409h1v2h-1zM620 410h7v1h-7zM664 410h3v1h-3zM672 410h2v1h-2zM950 410h1v1h-1zM896 410h1v2h-1zM674 411h1v1h-1zM951 411h1v2h-1zM1110 411h1v3h-1zM675 412h2v1h-2zM895 412h1v2h-1zM677 413h2v1h-2zM952 413h1v2h-1zM679 414h1v1h-1zM894 414h1v2h-1zM1109 414h1v2h-1zM680 415h2v1h-2zM953 415h1v2h-1zM682 416h1v1h-1zM893 416h1v2h-1zM1108 416h1v2h-1zM683 417h1v2h-1zM954 417h1v2h-1zM832 418h4v1h-4zM892 418h1v1h-1zM1107 418h1v2h-1zM684 419h1v1h-1zM830 419h2v1h-2zM836 419h3v1h-3zM891 419h1v2h-1zM955 419h1v2h-1zM814 420h2v1h-2zM828 420h2v1h-2zM839 420h1v1h-1zM685 420h1v2h-1zM1106 420h1v2h-1zM812 421h2v1h-2zM816 421h4v1h-4zM827 421h1v1h-1zM840 421h1v1h-1zM890 421h1v1h-1zM1084 421h4v1h-4zM1104 421h2v1h-2zM956 421h1v2h-1zM686 422h1v1h-1zM811 422h1v1h-1zM820 422h7v1h-7zM841 422h1v1h-1zM1080 422h4v1h-4zM1088 422h16v1h-16zM889 422h1v2h-1zM809 423h2v1h-2zM842 423h1v1h-1zM1078 423h2v1h-2zM687 423h1v2h-1zM957 423h1v2h-1zM807 424h2v1h-2zM843 424h1v1h-1zM888 424h1v1h-1zM1077 424h1v2h-1zM806 425h1v1h-1zM844 425h1v1h-1zM688 425h1v2h-1zM887 425h1v2h-1zM958 425h1v2h-1zM804 426h2v1h-2zM845 426h1v1h-1zM1076 426h1v1h-1zM803 427h1v1h-1zM846 427h1v1h-1zM886 427h1v1h-1zM689 427h1v2h-1zM959 427h1v2h-1zM1075 427h1v2h-1zM800 428h3v1h-3zM847 428h2v1h-2zM858 428h1v1h-1zM885 428h1v1h-1zM690 429h1v1h-1zM798 429h2v1h-2zM849 429h2v1h-2zM856 429h2v1h-2zM859 429h2v1h-2zM1074 429h1v1h-1zM884 429h1v2h-1zM960 429h1v2h-1zM796 430h2v1h-2zM851 430h2v1h-2zM855 430h1v1h-1zM861 430h3v1h-3zM1073 430h1v1h-1zM691 430h1v2h-1zM795 431h1v1h-1zM853 431h2v1h-2zM864 431h3v1h-3zM883 431h1v1h-1zM1072 431h1v1h-1zM961 431h1v2h-1zM794 432h1v1h-1zM867 432h2v1h-2zM880 432h3v1h-3zM1071 432h1v1h-1zM692 432h1v2h-1zM869 433h11v1h-11zM1070 433h1v1h-1zM793 433h1v2h-1zM962 433h1v2h-1zM963 434h1v1h-1zM1069 434h1v1h-1zM693 434h1v2h-1zM792 435h1v1h-1zM964 435h3v1h-3zM1068 435h1v2h-1zM967 436h1v1h-1zM694 436h1v2h-1zM791 436h1v2h-1zM968 437h2v1h-2zM1067 437h1v1h-1zM695 438h1v1h-1zM790 438h1v1h-1zM970 438h1v1h-1zM1066 438h1v1h-1zM696 439h2v1h-2zM971 439h1v1h-1zM1065 439h1v1h-1zM789 439h1v2h-1zM698 440h1v1h-1zM972 440h2v1h-2zM1064 440h1v2h-1zM699 441h1v1h-1zM788 441h1v1h-1zM974 441h1v1h-1zM700 442h2v1h-2zM975 442h1v1h-1zM1063 442h1v1h-1zM787 442h1v2h-1zM702 443h1v1h-1zM976 443h1v1h-1zM1062 443h1v1h-1zM703 444h2v1h-2zM786 444h1v1h-1zM977 444h1v1h-1zM1061 444h1v1h-1zM705 445h3v1h-3zM784 445h2v1h-2zM978 445h1v1h-1zM1060 445h1v2h-1zM708 446h3v1h-3zM783 446h1v1h-1zM979 446h1v2h-1zM711 447h1v1h-1zM782 447h1v1h-1zM1059 447h1v1h-1zM712 448h1v1h-1zM781 448h1v1h-1zM1058 448h1v1h-1zM980 448h1v2h-1zM713 449h1v1h-1zM720 449h3v1h-3zM780 449h1v1h-1zM1056 449h2v1h-2zM714 450h6v1h-6zM723 450h1v1h-1zM779 450h1v1h-1zM1055 450h1v1h-1zM981 450h1v2h-1zM724 451h1v1h-1zM772 451h7v1h-7zM1054 451h1v1h-1zM725 452h1v1h-1zM770 452h2v1h-2zM1052 452h2v1h-2zM982 452h1v2h-1zM726 453h1v1h-1zM769 453h1v1h-1zM1051 453h1v1h-1zM727 454h1v1h-1zM768 454h1v1h-1zM983 454h1v1h-1zM1049 454h2v1h-2zM728 455h2v1h-2zM767 455h1v1h-1zM984 455h2v1h-2zM1047 455h2v1h-2zM730 456h1v1h-1zM766 456h1v1h-1zM986 456h1v1h-1zM1046 456h1v1h-1zM731 457h1v1h-1zM765 457h1v1h-1zM987 457h1v1h-1zM1044 457h2v1h-2zM732 458h1v1h-1zM764 458h1v1h-1zM988 458h2v1h-2zM1043 458h1v1h-1zM733 459h1v1h-1zM763 459h1v1h-1zM990 459h2v1h-2zM1042 459h1v1h-1zM734 460h1v1h-1zM761 460h2v1h-2zM992 460h4v1h-4zM1041 460h1v1h-1zM735 461h1v1h-1zM759 461h2v1h-2zM996 461h4v1h-4zM1040 461h1v1h-1zM736 462h2v1h-2zM756 462h3v1h-3zM1000 462h3v1h-3zM1039 462h1v1h-1zM738 463h2v1h-2zM752 463h4v1h-4zM1003 463h1v1h-1zM1038 463h1v1h-1zM740 464h12v1h-12zM1004 464h1v1h-1zM1037 464h1v2h-1zM1005 465h1v1h-1zM1006 466h2v1h-2zM1036 466h1v1h-1zM1008 467h3v1h-3zM1035 467h1v2h-1zM1011 468h2v1h-2zM1013 469h2v1h-2zM1034 469h1v1h-1zM1015 470h2v1h-2zM1033 470h1v1h-1zM1017 471h2v1h-2zM1032 471h1v1h-1zM1019 472h1v1h-1zM1031 472h1v1h-1zM1020 473h2v1h-2zM1028 473h3v1h-3zM1022 474h6v1h-6z" fill="#ff0000" shape-rendering="crispEdges"/>
<path d="M2 70h1v2h-1zM3 72h1v3h-1zM38 75h2v1h-2zM4 75h1v3h-1zM37 76h1v1h-1zM40 76h3v1h-3zM43 77h1v1h-1zM36 77h1v2h-1zM44 78h2v1h-2zM48 78h3v1h-3zM5 78h1v3h-1zM35 79h1v1h-1zM46 79h2v1h-2zM51 79h1v2h-1zM34 80h1v2h-1zM52 81h1v2h-1zM6 81h1v3h-1zM33 82h1v3h-1zM53 83h1v2h-1zM7 84h1v3h-1zM54 85h1v1h-1zM32 85h1v3h-1zM55 86h1v1h-1zM56 87h2v1h-2zM8 87h1v4h-1zM58 88h1v1h-1zM31 88h1v3h-1zM59 89h2v1h-2zM61 90h2v1h-2zM30 91h1v2h-1zM63 91h1v2h-1zM9 91h1v3h-1zM29 93h1v2h-1zM64 93h1v2h-1zM1166 93h1v2h-1zM1167 94h1v1h-1zM10 94h1v3h-1zM1168 95h2v1h-2zM28 95h1v2h-1zM65 95h1v2h-1zM1165 95h1v2h-1zM1170 96h1v1h-1zM27 97h1v2h-1zM66 97h1v2h-1zM1164 97h1v2h-1zM1171 97h1v2h-1zM11 97h1v4h-1zM26 99h1v2h-1zM67 99h1v2h-1zM1163 99h1v2h-1zM1172 99h1v2h-1zM25 101h1v2h-1zM68 101h1v2h-1zM1173 101h1v2h-1zM12 101h1v3h-1zM1162 101h1v3h-1zM24 103h1v2h-1zM69 103h1v2h-1zM1174 103h1v3h-1zM1161 104h1v3h-1zM13 104h1v4h-1zM23 105h1v2h-1zM70 105h1v2h-1zM1175 106h1v2h-1zM22 107h1v1h-1zM71 107h1v1h-1zM1160 107h1v3h-1zM21 108h1v1h-1zM14 108h1v2h-1zM72 108h1v2h-1zM1176 108h1v3h-1zM20 109h1v2h-1zM15 110h1v1h-1zM73 110h1v1h-1zM1159 110h1v3h-1zM16 111h2v1h-2zM19 111h1v1h-1zM74 111h1v1h-1zM1177 111h1v2h-1zM18 112h1v1h-1zM75 112h1v2h-1zM1158 113h1v3h-1zM1178 113h1v3h-1zM76 114h1v2h-1zM1202 116h1v1h-1zM77 116h1v2h-1zM1157 116h1v3h-1zM1179 116h1v3h-1zM1203 117h1v1h-1zM1201 117h1v2h-1zM1204 118h2v1h-2zM78 118h1v2h-1zM85 119h1v1h-1zM1206 119h1v1h-1zM1200 119h1v2h-1zM86 119h1v3h-1zM1156 119h1v4h-1zM1180 119h1v4h-1zM79 120h2v1h-2zM83 120h2v1h-2zM1207 120h1v1h-1zM81 121h2v1h-2zM1208 121h2v1h-2zM1199 121h1v2h-1zM1210 122h1v1h-1zM87 122h1v5h-1zM1198 123h1v1h-1zM1211 123h1v2h-1zM1155 123h1v3h-1zM1181 123h1v3h-1zM1197 124h1v1h-1zM1196 125h1v1h-1zM1212 125h1v2h-1zM1195 126h1v1h-1zM1182 126h1v2h-1zM1154 126h1v3h-1zM1194 127h1v2h-1zM1213 127h1v2h-1zM88 127h1v4h-1zM1183 128h1v2h-1zM1214 129h1v1h-1zM1153 129h1v2h-1zM1193 129h1v2h-1zM1215 130h1v1h-1zM1184 130h1v2h-1zM1216 131h1v1h-1zM1192 131h1v2h-1zM1152 131h1v3h-1zM89 131h1v5h-1zM1217 132h1v1h-1zM1185 132h1v2h-1zM1191 133h1v2h-1zM1218 133h1v2h-1zM1186 134h2v1h-2zM1151 134h1v2h-1zM1188 135h3v1h-3zM1219 135h1v3h-1zM1150 136h1v3h-1zM90 136h1v4h-1zM1220 138h1v4h-1zM1248 139h3v1h-3zM1149 139h1v3h-1zM1245 140h3v1h-3zM1251 140h1v1h-1zM91 140h1v3h-1zM1243 141h2v1h-2zM1252 141h2v1h-2zM1254 142h1v1h-1zM1242 142h1v2h-1zM1221 142h1v3h-1zM1148 142h1v4h-1zM1255 143h1v2h-1zM92 143h1v4h-1zM1241 144h1v2h-1zM1256 145h1v1h-1zM1222 145h1v2h-1zM1240 146h1v2h-1zM1257 146h1v2h-1zM1147 146h1v3h-1zM1223 147h1v1h-1zM93 147h1v3h-1zM1224 148h1v1h-1zM1258 148h2v1h-2zM1239 148h1v2h-1zM1225 149h1v1h-1zM1260 149h3v1h-3zM1146 149h1v3h-1zM1226 150h1v1h-1zM1237 150h2v1h-2zM1263 150h1v1h-1zM94 150h1v3h-1zM1227 151h2v1h-2zM1235 151h2v1h-2zM1264 151h2v1h-2zM1229 152h6v1h-6zM1145 152h1v2h-1zM1266 152h1v2h-1zM95 153h1v3h-1zM1144 154h1v2h-1zM1267 154h1v3h-1zM1143 156h1v2h-1zM96 156h1v3h-1zM1268 157h1v4h-1zM1142 158h1v3h-1zM97 159h1v3h-1zM181 160h2v1h-2zM174 161h2v1h-2zM179 161h2v1h-2zM183 161h1v2h-1zM1141 161h1v2h-1zM1269 161h1v3h-1zM150 162h6v1h-6zM173 162h1v1h-1zM176 162h3v1h-3zM98 162h1v3h-1zM149 163h1v1h-1zM156 163h3v1h-3zM172 163h1v1h-1zM184 163h1v2h-1zM1140 163h1v2h-1zM148 164h1v1h-1zM171 164h1v1h-1zM159 164h1v2h-1zM1270 164h1v2h-1zM147 165h1v1h-1zM170 165h1v1h-1zM1277 165h2v1h-2zM185 165h1v2h-1zM1139 165h1v2h-1zM99 165h1v4h-1zM145 166h2v1h-2zM169 166h1v1h-1zM1271 166h2v1h-2zM1275 166h2v1h-2zM160 166h1v2h-1zM143 167h2v1h-2zM168 167h1v1h-1zM1273 167h2v1h-2zM186 167h1v2h-1zM1138 167h1v5h-1zM167 168h1v1h-1zM142 168h1v2h-1zM161 168h1v2h-1zM165 169h2v1h-2zM187 169h1v2h-1zM100 169h1v4h-1zM163 170h2v1h-2zM162 170h1v2h-1zM141 170h1v3h-1zM188 171h1v2h-1zM1137 172h1v7h-1zM189 173h1v2h-1zM140 173h1v3h-1zM101 173h1v4h-1zM190 175h1v1h-1zM191 176h1v2h-1zM139 176h1v3h-1zM102 177h1v4h-1zM192 178h1v1h-1zM138 179h1v2h-1zM193 179h1v2h-1zM1136 179h1v6h-1zM137 181h1v1h-1zM194 181h1v1h-1zM103 181h1v3h-1zM136 182h1v2h-1zM195 182h1v2h-1zM135 184h1v1h-1zM196 184h1v2h-1zM104 184h1v4h-1zM130 185h5v1h-5zM1135 185h1v7h-1zM113 186h3v1h-3zM128 186h2v1h-2zM197 186h1v2h-1zM111 187h2v1h-2zM116 187h3v1h-3zM127 187h1v1h-1zM110 188h1v1h-1zM119 188h2v1h-2zM124 188h3v1h-3zM105 188h1v3h-1zM198 188h1v3h-1zM109 189h1v1h-1zM121 189h3v1h-3zM108 190h1v1h-1zM262 190h1v1h-1zM107 191h1v1h-1zM261 191h1v1h-1zM263 191h1v1h-1zM106 191h1v2h-1zM199 191h1v3h-1zM260 192h1v1h-1zM264 192h1v1h-1zM1134 192h1v7h-1zM259 193h1v1h-1zM265 193h1v1h-1zM230 194h5v1h-5zM258 194h1v1h-1zM200 194h1v3h-1zM266 194h1v3h-1zM228 195h2v1h-2zM235 195h2v1h-2zM257 195h1v1h-1zM227 196h1v1h-1zM237 196h2v1h-2zM256 196h1v1h-1zM226 197h1v1h-1zM239 197h2v1h-2zM255 197h1v1h-1zM201 197h1v3h-1zM267 197h1v4h-1zM225 198h1v1h-1zM241 198h2v1h-2zM254 198h1v1h-1zM243 199h1v1h-1zM224 199h1v2h-1zM253 199h1v2h-1zM1133 199h1v7h-1zM244 200h1v1h-1zM202 200h1v2h-1zM223 201h1v1h-1zM245 201h1v1h-1zM252 201h1v1h-1zM268 201h1v5h-1zM203 202h2v1h-2zM222 202h1v1h-1zM246 202h1v1h-1zM251 202h1v2h-1zM205 203h2v1h-2zM221 203h1v1h-1zM247 203h2v1h-2zM207 204h1v1h-1zM249 204h2v1h-2zM220 204h1v2h-1zM208 205h1v1h-1zM209 206h1v1h-1zM219 206h1v1h-1zM269 206h1v4h-1zM1132 206h1v7h-1zM210 207h1v1h-1zM218 207h1v1h-1zM365 207h2v1h-2zM211 208h1v1h-1zM216 208h2v1h-2zM363 208h2v1h-2zM367 208h1v1h-1zM212 209h2v1h-2zM215 209h1v1h-1zM362 209h1v1h-1zM368 209h1v1h-1zM379 209h1v1h-1zM378 209h1v2h-1zM214 210h1v1h-1zM369 210h1v1h-1zM380 210h3v1h-3zM361 210h1v2h-1zM270 210h1v5h-1zM370 211h1v1h-1zM383 211h2v1h-2zM377 211h1v2h-1zM385 212h10v1h-10zM360 212h1v2h-1zM371 212h1v2h-1zM395 213h1v1h-1zM376 213h1v2h-1zM1131 213h1v7h-1zM372 214h1v1h-1zM396 214h1v1h-1zM359 214h1v2h-1zM397 215h1v1h-1zM373 215h1v2h-1zM375 215h1v2h-1zM271 215h1v6h-1zM357 216h2v1h-2zM398 216h1v2h-1zM355 217h2v1h-2zM374 217h1v1h-1zM354 218h1v2h-1zM399 218h1v2h-1zM400 220h1v3h-1zM353 220h1v4h-1zM1130 220h1v7h-1zM330 221h1v1h-1zM272 221h1v5h-1zM329 222h1v1h-1zM331 222h1v2h-1zM328 223h1v1h-1zM401 223h1v2h-1zM327 224h1v1h-1zM332 224h1v2h-1zM352 224h1v4h-1zM326 225h1v2h-1zM402 225h1v3h-1zM333 226h1v2h-1zM273 226h1v6h-1zM325 227h1v3h-1zM1129 227h1v7h-1zM334 228h1v1h-1zM403 228h1v3h-1zM351 228h1v4h-1zM335 229h1v1h-1zM336 230h1v2h-1zM324 230h1v3h-1zM404 231h1v4h-1zM337 232h1v1h-1zM350 232h1v3h-1zM274 232h1v5h-1zM338 233h1v1h-1zM323 233h1v3h-1zM339 234h1v2h-1zM1128 234h1v6h-1zM349 235h1v2h-1zM405 235h1v3h-1zM340 236h1v2h-1zM322 236h1v3h-1zM348 237h1v2h-1zM275 237h1v4h-1zM341 238h1v2h-1zM406 238h1v3h-1zM347 239h1v2h-1zM321 239h1v4h-1zM342 240h1v2h-1zM1127 240h1v7h-1zM343 241h4v1h-4zM407 241h1v2h-1zM276 241h1v4h-1zM320 243h1v3h-1zM408 243h1v3h-1zM277 245h1v4h-1zM409 246h1v2h-1zM319 246h1v4h-1zM1126 247h1v10h-1zM410 248h1v3h-1zM278 249h1v5h-1zM318 250h1v3h-1zM411 251h1v4h-1zM317 253h1v4h-1zM279 254h1v4h-1zM412 255h1v4h-1zM316 257h1v3h-1zM1125 257h1v12h-1zM280 258h1v4h-1zM413 259h1v4h-1zM315 260h1v4h-1zM281 262h1v4h-1zM414 263h1v5h-1zM314 264h1v3h-1zM282 266h1v3h-1zM313 267h1v4h-1zM415 268h1v4h-1zM283 269h1v1h-1zM289 269h6v1h-6zM1124 269h1v12h-1zM284 270h2v1h-2zM287 270h2v1h-2zM295 270h1v1h-1zM286 271h1v1h-1zM296 271h2v1h-2zM312 271h1v3h-1zM298 272h2v1h-2zM416 272h1v4h-1zM300 273h3v1h-3zM303 274h1v2h-1zM311 274h1v4h-1zM304 276h1v2h-1zM417 276h1v4h-1zM305 278h1v2h-1zM310 278h1v2h-1zM308 279h2v1h-2zM306 280h2v1h-2zM418 280h1v3h-1zM1123 281h1v12h-1zM419 283h1v2h-1zM522 284h1v2h-1zM420 285h1v1h-1zM521 285h1v2h-1zM421 286h1v2h-1zM523 286h1v2h-1zM520 287h1v1h-1zM422 288h1v1h-1zM519 288h1v2h-1zM524 288h1v3h-1zM423 289h2v1h-2zM425 290h1v1h-1zM426 290h1v2h-1zM518 290h1v2h-1zM525 291h1v2h-1zM427 292h1v4h-1zM517 292h1v4h-1zM526 293h1v2h-1zM1122 293h1v12h-1zM527 295h1v1h-1zM528 296h1v1h-1zM516 296h1v3h-1zM428 296h1v4h-1zM529 297h1v1h-1zM530 298h1v1h-1zM531 299h1v2h-1zM515 299h1v4h-1zM429 300h1v4h-1zM532 301h1v2h-1zM514 303h1v2h-1zM533 303h1v2h-1zM430 304h1v4h-1zM513 305h1v2h-1zM534 305h1v2h-1zM1121 305h1v11h-1zM512 307h1v2h-1zM535 307h1v2h-1zM431 308h1v5h-1zM511 309h1v2h-1zM536 309h1v3h-1zM510 311h1v2h-1zM537 312h1v2h-1zM509 313h1v2h-1zM432 313h1v6h-1zM538 314h1v3h-1zM508 315h1v3h-1zM1120 316h1v10h-1zM539 317h1v3h-1zM507 318h1v2h-1zM433 319h1v5h-1zM540 320h1v2h-1zM506 320h1v3h-1zM541 322h1v3h-1zM505 323h1v4h-1zM434 324h1v5h-1zM542 325h1v2h-1zM1119 326h1v11h-1zM543 327h1v1h-1zM504 327h1v4h-1zM544 328h1v1h-1zM545 329h1v1h-1zM435 329h1v5h-1zM546 330h1v2h-1zM503 331h1v4h-1zM547 332h1v4h-1zM436 334h1v4h-1zM502 335h1v3h-1zM548 336h1v4h-1zM1118 337h1v9h-1zM501 338h1v3h-1zM437 338h1v5h-1zM549 340h1v4h-1zM500 341h1v4h-1zM438 343h1v5h-1zM550 344h1v4h-1zM499 345h1v3h-1zM906 345h1v3h-1zM904 346h2v1h-2zM1117 346h1v7h-1zM903 347h1v1h-1zM498 348h1v2h-1zM551 348h1v2h-1zM902 348h1v2h-1zM439 348h1v4h-1zM907 348h1v5h-1zM497 350h1v2h-1zM552 350h1v3h-1zM901 350h1v4h-1zM496 352h1v2h-1zM440 352h1v5h-1zM553 353h1v2h-1zM908 353h1v4h-1zM1116 353h1v6h-1zM495 354h1v2h-1zM900 354h1v4h-1zM554 355h1v3h-1zM494 356h1v2h-1zM441 357h1v4h-1zM909 357h1v5h-1zM493 358h1v2h-1zM555 358h1v3h-1zM899 358h1v4h-1zM1115 359h1v7h-1zM492 360h1v2h-1zM556 361h1v2h-1zM442 361h1v5h-1zM491 362h1v2h-1zM898 362h1v3h-1zM910 362h1v4h-1zM557 363h1v3h-1zM490 364h1v3h-1zM897 365h1v4h-1zM558 366h1v2h-1zM911 366h1v3h-1zM443 366h1v5h-1zM1114 366h1v7h-1zM489 367h1v3h-1zM559 368h1v1h-1zM560 369h1v2h-1zM896 369h1v3h-1zM912 369h1v4h-1zM488 370h1v2h-1zM561 371h1v1h-1zM639 371h1v1h-1zM638 371h1v2h-1zM444 371h1v5h-1zM562 372h1v1h-1zM640 372h3v1h-3zM487 372h1v3h-1zM895 372h1v4h-1zM643 373h2v1h-2zM563 373h1v2h-1zM637 373h1v2h-1zM913 373h1v3h-1zM1113 373h1v7h-1zM645 374h1v1h-1zM646 374h1v2h-1zM564 375h1v1h-1zM636 375h1v2h-1zM486 375h1v3h-1zM565 376h1v2h-1zM894 376h1v3h-1zM914 376h1v3h-1zM647 376h1v4h-1zM445 376h1v5h-1zM635 377h1v2h-1zM566 378h1v1h-1zM485 378h1v2h-1zM567 379h1v1h-1zM634 379h1v3h-1zM915 379h1v3h-1zM893 379h1v4h-1zM568 380h1v1h-1zM590 380h1v2h-1zM484 380h1v3h-1zM648 380h1v4h-1zM1112 380h1v6h-1zM569 381h1v1h-1zM588 381h2v1h-2zM446 381h1v4h-1zM570 382h1v1h-1zM587 382h1v1h-1zM591 382h1v3h-1zM916 382h1v4h-1zM633 382h1v5h-1zM571 383h2v1h-2zM584 383h3v1h-3zM483 383h1v2h-1zM892 383h1v4h-1zM573 384h11v1h-11zM649 384h1v4h-1zM482 385h1v2h-1zM447 385h1v3h-1zM592 385h1v3h-1zM917 386h1v3h-1zM1111 386h1v7h-1zM480 387h2v1h-2zM891 387h1v4h-1zM632 387h1v5h-1zM479 388h1v1h-1zM593 388h1v3h-1zM448 388h1v4h-1zM650 388h1v4h-1zM478 389h1v2h-1zM918 389h1v3h-1zM477 391h1v2h-1zM594 391h1v3h-1zM890 391h1v4h-1zM449 392h1v3h-1zM651 392h1v4h-1zM919 392h1v4h-1zM631 392h1v5h-1zM476 393h1v2h-1zM1110 393h1v7h-1zM595 394h1v3h-1zM450 395h1v2h-1zM475 395h1v2h-1zM889 395h1v5h-1zM920 396h1v4h-1zM652 396h1v5h-1zM451 397h1v1h-1zM474 397h1v3h-1zM596 397h1v4h-1zM630 397h1v5h-1zM452 398h1v1h-1zM453 399h1v1h-1zM454 400h1v1h-1zM473 400h1v2h-1zM921 400h1v4h-1zM888 400h1v6h-1zM1109 400h1v6h-1zM455 401h1v2h-1zM597 401h1v3h-1zM653 401h1v4h-1zM472 402h1v2h-1zM629 402h1v4h-1zM456 403h1v2h-1zM471 404h1v2h-1zM598 404h1v3h-1zM922 404h1v4h-1zM457 405h1v2h-1zM654 405h1v5h-1zM470 406h1v1h-1zM628 406h1v4h-1zM887 406h1v5h-1zM1108 406h1v7h-1zM458 407h1v1h-1zM468 407h2v1h-2zM599 407h1v3h-1zM459 408h2v1h-2zM467 408h1v1h-1zM923 408h1v2h-1zM461 409h6v1h-6zM600 410h1v3h-1zM924 410h1v3h-1zM627 410h1v4h-1zM655 410h1v5h-1zM886 411h1v4h-1zM805 412h2v1h-2zM803 413h2v1h-2zM807 413h2v1h-2zM930 413h1v1h-1zM925 413h1v2h-1zM601 413h1v3h-1zM1107 413h1v6h-1zM798 414h5v1h-5zM809 414h3v1h-3zM928 414h2v1h-2zM931 414h1v1h-1zM1070 414h1v1h-1zM626 414h1v3h-1zM797 415h1v1h-1zM812 415h3v1h-3zM927 415h1v1h-1zM932 415h2v1h-2zM1069 415h1v1h-1zM1071 415h2v1h-2zM926 415h1v2h-1zM885 415h1v4h-1zM656 415h1v5h-1zM815 416h1v1h-1zM934 416h1v1h-1zM1073 416h3v1h-3zM796 416h1v2h-1zM1068 416h1v2h-1zM602 416h1v3h-1zM816 417h2v1h-2zM820 417h3v1h-3zM1076 417h3v1h-3zM625 417h1v2h-1zM935 417h1v2h-1zM795 418h1v1h-1zM818 418h2v1h-2zM823 418h1v1h-1zM1067 418h1v1h-1zM1079 418h1v1h-1zM794 419h1v1h-1zM824 419h1v1h-1zM1065 419h2v1h-2zM1080 419h2v1h-2zM624 419h1v2h-1zM936 419h1v2h-1zM603 419h1v3h-1zM884 419h1v3h-1zM1106 419h1v4h-1zM825 420h1v1h-1zM1063 420h2v1h-2zM1082 420h1v1h-1zM793 420h1v2h-1zM657 420h1v5h-1zM826 421h1v1h-1zM1060 421h3v1h-3zM1083 421h1v1h-1zM623 421h1v2h-1zM937 421h1v2h-1zM827 422h2v1h-2zM1057 422h3v1h-3zM1105 422h1v1h-1zM792 422h1v2h-1zM1084 422h1v2h-1zM604 422h1v4h-1zM883 422h1v4h-1zM829 423h2v1h-2zM873 423h2v1h-2zM938 423h1v1h-1zM1046 423h6v1h-6zM1055 423h2v1h-2zM1103 423h2v1h-2zM622 423h1v2h-1zM831 424h2v1h-2zM871 424h2v1h-2zM1052 424h3v1h-3zM1085 424h1v1h-1zM1102 424h1v1h-1zM791 424h1v2h-1zM875 424h1v2h-1zM939 424h1v2h-1zM1045 424h1v2h-1zM621 425h1v1h-1zM833 425h2v1h-2zM868 425h3v1h-3zM1086 425h2v1h-2zM1100 425h2v1h-2zM658 425h1v4h-1zM835 426h2v1h-2zM866 426h2v1h-2zM876 426h1v1h-1zM940 426h1v1h-1zM1088 426h4v1h-4zM1099 426h1v1h-1zM620 426h1v2h-1zM790 426h1v2h-1zM882 426h1v2h-1zM1044 426h1v2h-1zM605 426h1v3h-1zM837 427h1v1h-1zM865 427h1v1h-1zM881 427h1v1h-1zM1092 427h7v1h-7zM838 427h1v2h-1zM877 427h1v2h-1zM941 427h1v2h-1zM619 428h1v1h-1zM864 428h1v1h-1zM879 428h2v1h-2zM789 428h1v2h-1zM1043 428h1v2h-1zM863 429h1v1h-1zM878 429h1v1h-1zM618 429h1v2h-1zM839 429h1v2h-1zM942 429h1v2h-1zM606 429h1v3h-1zM659 429h1v3h-1zM862 430h1v2h-1zM1042 430h1v2h-1zM788 430h1v3h-1zM769 431h2v1h-2zM943 431h1v2h-1zM617 431h1v3h-1zM840 431h1v3h-1zM686 432h1v1h-1zM767 432h2v1h-2zM771 432h1v1h-1zM778 432h2v1h-2zM607 432h1v2h-1zM660 432h1v2h-1zM861 432h1v2h-1zM1041 432h1v4h-1zM684 433h2v1h-2zM687 433h1v1h-1zM766 433h1v1h-1zM772 433h1v1h-1zM776 433h2v1h-2zM780 433h3v1h-3zM787 433h1v2h-1zM944 433h1v2h-1zM683 434h1v1h-1zM773 434h1v1h-1zM775 434h1v1h-1zM783 434h1v1h-1zM688 434h1v2h-1zM765 434h1v2h-1zM841 434h1v2h-1zM608 434h1v3h-1zM616 434h1v3h-1zM661 434h1v3h-1zM860 434h1v3h-1zM682 435h1v1h-1zM774 435h1v1h-1zM784 435h2v1h-2zM786 435h1v2h-1zM945 435h1v2h-1zM681 436h1v1h-1zM689 436h1v1h-1zM764 436h1v2h-1zM842 436h1v2h-1zM1040 436h1v4h-1zM680 437h1v1h-1zM690 437h1v1h-1zM609 437h1v2h-1zM859 437h1v2h-1zM946 437h1v2h-1zM615 437h1v3h-1zM662 437h1v3h-1zM679 438h1v1h-1zM843 438h1v1h-1zM691 438h1v2h-1zM763 438h1v2h-1zM678 439h1v1h-1zM947 439h1v1h-1zM610 439h1v2h-1zM844 439h1v2h-1zM858 439h1v3h-1zM611 440h1v1h-1zM676 440h2v1h-2zM948 440h1v1h-1zM614 440h1v2h-1zM663 440h1v2h-1zM692 440h1v2h-1zM762 440h1v2h-1zM1039 440h1v4h-1zM612 441h2v1h-2zM675 441h1v1h-1zM845 441h1v1h-1zM949 441h1v1h-1zM674 442h1v1h-1zM846 442h1v1h-1zM950 442h1v1h-1zM664 442h1v2h-1zM693 442h1v2h-1zM761 442h1v2h-1zM857 442h1v2h-1zM672 443h2v1h-2zM847 443h1v1h-1zM951 443h1v1h-1zM671 444h1v1h-1zM694 444h1v1h-1zM848 444h1v1h-1zM952 444h2v1h-2zM665 444h1v2h-1zM760 444h1v2h-1zM856 444h1v3h-1zM1038 444h1v3h-1zM669 445h2v1h-2zM695 445h2v1h-2zM849 445h1v1h-1zM954 445h1v1h-1zM667 446h2v1h-2zM697 446h2v1h-2zM850 446h1v1h-1zM955 446h2v1h-2zM666 446h1v2h-1zM759 446h1v2h-1zM699 447h1v1h-1zM851 447h1v1h-1zM957 447h2v1h-2zM855 447h1v2h-1zM1037 447h1v4h-1zM700 448h1v1h-1zM758 448h1v1h-1zM852 448h1v1h-1zM959 448h2v1h-2zM701 449h1v1h-1zM853 449h1v1h-1zM961 449h2v1h-2zM757 449h1v2h-1zM854 449h1v2h-1zM702 450h1v1h-1zM963 450h2v1h-2zM703 451h1v1h-1zM756 451h1v1h-1zM965 451h2v1h-2zM1036 451h1v3h-1zM704 452h1v1h-1zM967 452h1v1h-1zM755 452h1v2h-1zM705 453h1v1h-1zM968 453h1v2h-1zM706 454h1v1h-1zM754 454h1v2h-1zM1035 454h1v4h-1zM707 455h2v1h-2zM969 455h1v1h-1zM709 456h2v1h-2zM970 456h2v1h-2zM753 456h1v2h-1zM972 457h3v1h-3zM711 457h1v2h-1zM975 458h2v1h-2zM752 458h1v2h-1zM1034 458h1v3h-1zM977 459h1v1h-1zM712 459h1v2h-1zM978 459h1v2h-1zM751 460h1v2h-1zM713 461h1v2h-1zM979 461h1v2h-1zM1033 461h1v3h-1zM750 462h1v2h-1zM714 463h1v1h-1zM980 463h1v3h-1zM715 464h1v1h-1zM749 464h1v1h-1zM1002 464h1v2h-1zM1032 464h1v4h-1zM716 465h1v1h-1zM721 465h2v1h-2zM1003 465h1v1h-1zM748 465h1v2h-1zM717 466h1v1h-1zM719 466h2v1h-2zM723 466h1v1h-1zM1004 466h2v1h-2zM981 466h1v2h-1zM1001 466h1v2h-1zM718 467h1v1h-1zM724 467h2v1h-2zM734 467h1v1h-1zM747 467h1v1h-1zM1006 467h1v1h-1zM726 468h1v1h-1zM732 468h2v1h-2zM735 468h1v1h-1zM746 468h1v1h-1zM1007 468h2v1h-2zM982 468h1v2h-1zM1000 468h1v3h-1zM1031 468h1v3h-1zM727 469h2v1h-2zM731 469h1v1h-1zM1009 469h2v1h-2zM736 469h1v2h-1zM745 469h1v2h-1zM729 470h2v1h-2zM983 470h1v1h-1zM1011 470h1v1h-1zM737 471h1v1h-1zM744 471h1v1h-1zM984 471h2v1h-2zM1012 471h2v1h-2zM999 471h1v2h-1zM1030 471h1v3h-1zM738 472h1v1h-1zM986 472h2v1h-2zM1014 472h1v1h-1zM743 472h1v2h-1zM739 473h2v1h-2zM988 473h3v1h-3zM998 473h1v2h-1zM1015 473h1v2h-1zM741 474h2v1h-2zM991 474h2v1h-2zM996 474h2v1h-2zM1029 474h1v2h-1zM993 475h3v1h-3zM1016 475h1v1h-1zM1017 476h1v2h-1zM1028 476h1v2h-1zM1018 478h1v1h-1zM1027 478h1v2h-1zM1019 479h1v2h-1zM1026 480h1v1h-1zM1025 481h1v1h-1zM1020 481h1v2h-1zM1024 482h1v2h-1zM1021 483h1v2h-1zM1023 484h1v1h-1zM1022 485h1v1h-1z" fill="#ffa500" shape-rendering="crispEdges"/>
<rect x="2" y="172" width="1608" height="2" fill="#ff0000"/>
<rect x="1" y="170" width="6" height="6" fill="#ff0000"/>
<rect x="3" y="172" width="2" height="2" fill="#fff"/>
<rect x="1604" y="170" width="6" height="6" fill="#ff0000"/>
<rect x="1606" y="172" width="2" height="2" fill="#fff"/>
<rect x="2" y="327" width="1608" height="2" fill="#00ff00"/>
<rect x="2" y="487" width="1608" height="2" fill="#0000ff"/>
<rect x="1" y="485" width="6" height="6" fill="#0000ff"/>
<rect x="3" y="487" width="2" height="2" fill="#fff"/>
<rect x="1604" y="485" width="6" height="6" fill="#0000ff"/>
<rect x="1606" y="487" width="2" height="2" fill="#fff"/>
<path d="M1281 30 L1292 30 L1286.5 35.5 Z" fill="#c0c0c0"/>
<path d="M5.5 36 L12.5 36 L9 40.5 Z" fill="#000"/>
<text x="17.0" y="41" font-size="9.8" fill="#000" stroke="#000" stroke-width="0.13" textLength="55.3" lengthAdjust="spacingAndGlyphs">USDCHF,H4</text>
<text x="78.0" y="41" font-size="9.8" fill="#000" stroke="#000" stroke-width="0.13" textLength="33.5" lengthAdjust="spacingAndGlyphs">0.91749</text>
<text x="114.0" y="41" font-size="9.8" fill="#000" stroke="#000" stroke-width="0.13" textLength="33.5" lengthAdjust="spacingAndGlyphs">0.91820</text>
<text x="150.0" y="41" font-size="9.8" fill="#000" stroke="#000" stroke-width="0.13" textLength="33.5" lengthAdjust="spacingAndGlyphs">0.91718</text>
<text x="186.0" y="41" font-size="9.8" fill="#000" stroke="#000" stroke-width="0.13" textLength="33.5" lengthAdjust="spacingAndGlyphs">0.91781</text>
<rect x="1611" y="60" width="2" height="1" fill="#000"/>
<text x="1616" y="64" font-size="9.8" fill="#000" stroke="#000" stroke-width="0.13" textLength="33" lengthAdjust="spacingAndGlyphs">0.92405</text>
<rect x="1611" y="93" width="2" height="1" fill="#000"/>
<text x="1616" y="97" font-size="9.8" fill="#000" stroke="#000" stroke-width="0.13" textLength="33" lengthAdjust="spacingAndGlyphs">0.92175</text>
<rect x="1611" y="126" width="2" height="1" fill="#000"/>
<text x="1616" y="130" font-size="9.8" fill="#000" stroke="#000" stroke-width="0.13" textLength="33" lengthAdjust="spacingAndGlyphs">0.91945</text>
<rect x="1611" y="159" width="2" height="1" fill="#000"/>
<text x="1616" y="163" font-size="9.8" fill="#000" stroke="#000" stroke-width="0.13" textLength="33" lengthAdjust="spacingAndGlyphs">0.91715</text>
<rect x="1611" y="192" width="2" height="1" fill="#000"/>
<text x="1616" y="196" font-size="9.8" fill="#000" stroke="#000" stroke-width="0.13" textLength="33" lengthAdjust="spacingAndGlyphs">0.91485</text>
<rect x="1611" y="225" width="2" height="1" fill="#000"/>
<text x="1616" y="229" font-size="9.8" fill="#000" stroke="#000" stroke-width="0.13" textLength="33" lengthAdjust="spacingAndGlyphs">0.91255</text>
<rect x="1611" y="258" width="2" height="1" fill="#000"/>
<text x="1616" y="262" font-size="9.8" fill="#000" stroke="#000" stroke-width="0.13" textLength="33" lengthAdjust="spacingAndGlyphs">0.91025</text>
<rect x="1611" y="291" width="2" height="1" fill="#000"/>
<text x="1616" y="295" font-size="9.8" fill="#000" stroke="#000" stroke-width="0.13" textLength="33" lengthAdjust="spacingAndGlyphs">0.90795</text>
<rect x="1611" y="324" width="2" height="1" fill="#000"/>
<text x="1616" y="328" font-size="9.8" fill="#000" stroke="#000" stroke-width="0.13" textLength="33" lengthAdjust="spacingAndGlyphs">0.90565</text>
<rect x="1611" y="357" width="2" height="1" fill="#000"/>
<text x="1616" y="361" font-size="9.8" fill="#000" stroke="#000" stroke-width="0.13" textLength="33" lengthAdjust="spacingAndGlyphs">0.90335</text>
<rect x="1611" y="390" width="2" height="1" fill="#000"/>
<text x="1616" y="394" font-size="9.8" fill="#000" stroke="#000" stroke-width="0.13" textLength="33" lengthAdjust="spacingAndGlyphs">0.90105</text>
<rect x="1611" y="423" width="2" height="1" fill="#000"/>
<text x="1616" y="427" font-size="9.8" fill="#000" stroke="#000" stroke-width="0.13" textLength="33" lengthAdjust="spacingAndGlyphs">0.89875</text>
<rect x="1611" y="456" width="2" height="1" fill="#000"/>
<text x="1616" y="460" font-size="9.8" fill="#000" stroke="#000" stroke-width="0.13" textLength="33" lengthAdjust="spacingAndGlyphs">0.89645</text>
<rect x="1611" y="489" width="2" height="1" fill="#000"/>
<rect x="1611" y="522" width="2" height="1" fill="#000"/>
<text x="1616" y="526" font-size="9.8" fill="#000" stroke="#000" stroke-width="0.13" textLength="33" lengthAdjust="spacingAndGlyphs">0.89185</text>
<rect x="1612" y="145" width="38" height="11" fill="#000"/>
<text x="1616" y="154" font-size="9.8" fill="#fff" stroke="#fff" stroke-width="0.13" textLength="33" lengthAdjust="spacingAndGlyphs">0.91781</text>
<rect x="1612" y="167" width="38" height="11" fill="#ff0000"/>
<text x="1616" y="176" font-size="9.8" fill="#fff" stroke="#fff" stroke-width="0.13" textLength="33" lengthAdjust="spacingAndGlyphs">0.91618</text>
<rect x="1612" y="322" width="38" height="11" fill="#00ff00"/>
<text x="1616" y="331" font-size="9.8" fill="#fff" stroke="#fff" stroke-width="0.13" textLength="33" lengthAdjust="spacingAndGlyphs">0.90539</text>
<rect x="1612" y="482" width="38" height="11" fill="#0000ff"/>
<text x="1616" y="491" font-size="9.8" fill="#fff" stroke="#fff" stroke-width="0.13" textLength="33" lengthAdjust="spacingAndGlyphs">0.89427</text>
<text x="6.0" y="540" font-size="9.8" fill="#000" stroke="#000" stroke-width="0.13" textLength="68" lengthAdjust="spacingAndGlyphs">RSI(14) 52.4050</text>
<line x1="4" y1="555.5" x2="1610" y2="555.5" stroke="#c0c0c0" stroke-width="1" stroke-dasharray="3,3" shape-rendering="crispEdges"/>
<line x1="4" y1="591.5" x2="1610" y2="591.5" stroke="#c0c0c0" stroke-width="1" stroke-dasharray="3,3" shape-rendering="crispEdges"/>
<rect x="1611" y="529" width="2" height="1" fill="#000"/>
<rect x="1611" y="617" width="2" height="1" fill="#000"/>
<text x="1614.5" y="537" font-size="9.8" fill="#000" stroke="#000" stroke-width="0.13" textLength="14.5" lengthAdjust="spacingAndGlyphs">100</text>
<text x="1614.5" y="559" font-size="9.8" fill="#000" stroke="#000" stroke-width="0.13" textLength="9.5" lengthAdjust="spacingAndGlyphs">70</text>
<text x="1614.5" y="595" font-size="9.8" fill="#000" stroke="#000" stroke-width="0.13" textLength="9.5" lengthAdjust="spacingAndGlyphs">30</text>
<text x="1614.5" y="615" font-size="9.8" fill="#000" stroke="#000" stroke-width="0.13" textLength="5" lengthAdjust="spacingAndGlyphs">0</text>
<path d="M1150 540h1v1h-1zM1148 541h2v1h-2zM1151 541h1v1h-1zM1129 542h6v1h-6zM1147 542h1v1h-1zM1152 542h2v1h-2zM1127 543h2v1h-2zM1135 543h2v1h-2zM1140 543h7v1h-7zM1154 543h9v1h-9zM1122 544h5v1h-5zM1137 544h3v1h-3zM1163 544h2v1h-2zM1165 545h2v1h-2zM1121 545h1v2h-1zM1167 546h1v1h-1zM1168 547h2v1h-2zM1120 547h1v2h-1zM1170 548h1v2h-1zM1119 549h1v2h-1zM1111 550h1v1h-1zM1171 550h1v2h-1zM1110 550h1v3h-1zM1112 551h7v1h-7zM1172 552h1v3h-1zM1109 553h1v5h-1zM1192 554h3v1h-3zM1190 555h2v1h-2zM1173 555h1v2h-1zM1195 555h1v2h-1zM1188 556h2v1h-2zM890 557h1v1h-1zM1187 557h1v1h-1zM1196 557h1v1h-1zM1174 557h1v2h-1zM888 558h2v1h-2zM1175 558h4v1h-4zM1186 558h1v1h-1zM891 558h1v2h-1zM1197 558h1v2h-1zM1108 558h1v6h-1zM887 559h1v1h-1zM902 559h1v1h-1zM1179 559h1v1h-1zM1184 559h2v1h-2zM1200 559h3v1h-3zM892 560h1v1h-1zM900 560h2v1h-2zM903 560h1v1h-1zM1180 560h2v1h-2zM1183 560h1v1h-1zM1198 560h2v1h-2zM886 560h1v2h-1zM1203 560h1v2h-1zM899 561h1v1h-1zM904 561h2v1h-2zM1182 561h1v1h-1zM893 561h1v2h-1zM506 562h1v1h-1zM896 562h3v1h-3zM885 562h1v2h-1zM906 562h1v2h-1zM1204 562h1v2h-1zM505 563h1v1h-1zM507 563h2v1h-2zM517 563h2v1h-2zM894 563h2v1h-2zM1210 563h1v1h-1zM353 564h1v1h-1zM509 564h3v1h-3zM515 564h2v1h-2zM519 564h2v1h-2zM790 564h1v1h-1zM1034 564h1v1h-1zM1064 564h3v1h-3zM1208 564h2v1h-2zM1211 564h2v1h-2zM354 564h1v2h-1zM504 564h1v2h-1zM884 564h1v2h-1zM1205 564h1v2h-1zM907 564h1v4h-1zM1107 564h1v5h-1zM351 565h2v1h-2zM512 565h3v1h-3zM521 565h1v1h-1zM766 565h1v1h-1zM789 565h1v1h-1zM791 565h1v1h-1zM1033 565h1v1h-1zM1035 565h2v1h-2zM1044 565h3v1h-3zM1060 565h4v1h-4zM1067 565h2v1h-2zM1207 565h1v1h-1zM1213 565h2v1h-2zM522 565h1v2h-1zM858 565h1v2h-1zM350 566h1v1h-1zM378 566h1v1h-1zM503 566h1v1h-1zM764 566h2v1h-2zM1032 566h1v1h-1zM1037 566h7v1h-7zM1047 566h1v1h-1zM1054 566h6v1h-6zM1069 566h2v1h-2zM1206 566h1v1h-1zM1215 566h1v1h-1zM1236 566h3v1h-3zM355 566h1v2h-1zM767 566h1v2h-1zM788 566h1v2h-1zM792 566h1v2h-1zM859 566h1v2h-1zM883 566h1v2h-1zM349 567h1v1h-1zM377 567h1v1h-1zM502 567h1v1h-1zM631 567h7v1h-7zM763 567h1v1h-1zM1031 567h1v1h-1zM1053 567h1v1h-1zM1071 567h1v1h-1zM1102 567h1v1h-1zM1216 567h2v1h-2zM1230 567h6v1h-6zM1239 567h1v1h-1zM379 567h1v2h-1zM523 567h1v2h-1zM630 567h1v2h-1zM638 567h1v2h-1zM857 567h1v2h-1zM1048 567h1v2h-1zM320 568h3v1h-3zM376 568h1v1h-1zM762 568h1v1h-1zM787 568h1v1h-1zM793 568h1v1h-1zM806 568h5v1h-5zM882 568h1v1h-1zM1030 568h1v1h-1zM1052 568h1v1h-1zM1100 568h2v1h-2zM1103 568h1v1h-1zM1218 568h1v1h-1zM1229 568h1v1h-1zM1240 568h2v1h-2zM1250 568h1v1h-1zM348 568h1v2h-1zM356 568h1v2h-1zM501 568h1v2h-1zM768 568h1v2h-1zM860 568h1v2h-1zM1072 568h1v2h-1zM908 568h1v4h-1zM317 569h3v1h-3zM323 569h1v1h-1zM375 569h1v1h-1zM380 569h1v1h-1zM784 569h3v1h-3zM794 569h5v1h-5zM805 569h1v1h-1zM811 569h2v1h-2zM880 569h2v1h-2zM1029 569h1v1h-1zM1049 569h1v1h-1zM1051 569h1v1h-1zM1077 569h2v1h-2zM1090 569h1v1h-1zM1099 569h1v1h-1zM1104 569h1v1h-1zM1228 569h1v1h-1zM1242 569h1v1h-1zM1248 569h2v1h-2zM1251 569h2v1h-2zM524 569h1v2h-1zM629 569h1v2h-1zM639 569h1v2h-1zM761 569h1v2h-1zM1219 569h1v2h-1zM856 569h1v3h-1zM1106 569h1v3h-1zM315 570h2v1h-2zM324 570h2v1h-2zM347 570h1v1h-1zM362 570h2v1h-2zM372 570h3v1h-3zM493 570h2v1h-2zM530 570h1v1h-1zM754 570h1v1h-1zM781 570h3v1h-3zM799 570h1v1h-1zM804 570h1v1h-1zM813 570h2v1h-2zM830 570h1v1h-1zM879 570h1v1h-1zM1028 570h1v1h-1zM1050 570h1v1h-1zM1073 570h1v1h-1zM1075 570h2v1h-2zM1079 570h2v1h-2zM1089 570h1v1h-1zM1091 570h1v1h-1zM1097 570h2v1h-2zM1105 570h1v1h-1zM1227 570h1v1h-1zM1243 570h2v1h-2zM1247 570h1v1h-1zM1253 570h2v1h-2zM357 570h1v2h-1zM381 570h1v2h-1zM500 570h1v2h-1zM769 570h1v2h-1zM861 570h1v2h-1zM142 571h1v1h-1zM170 571h1v1h-1zM254 571h2v1h-2zM314 571h1v1h-1zM326 571h1v1h-1zM346 571h1v1h-1zM360 571h2v1h-2zM364 571h8v1h-8zM392 571h6v1h-6zM491 571h2v1h-2zM495 571h1v1h-1zM529 571h1v1h-1zM531 571h1v1h-1zM752 571h2v1h-2zM755 571h1v1h-1zM779 571h2v1h-2zM800 571h2v1h-2zM803 571h1v1h-1zM815 571h1v1h-1zM828 571h2v1h-2zM831 571h2v1h-2zM877 571h2v1h-2zM1027 571h1v1h-1zM1074 571h1v1h-1zM1081 571h2v1h-2zM1088 571h1v1h-1zM1092 571h2v1h-2zM1095 571h2v1h-2zM1226 571h1v1h-1zM1245 571h2v1h-2zM1255 571h1v1h-1zM1275 571h4v1h-4zM398 571h1v2h-1zM525 571h1v2h-1zM628 571h1v2h-1zM760 571h1v2h-1zM1220 571h1v2h-1zM1274 571h1v2h-1zM640 571h1v3h-1zM168 572h2v1h-2zM171 572h1v1h-1zM252 572h2v1h-2zM256 572h3v1h-3zM327 572h1v1h-1zM345 572h1v1h-1zM359 572h1v1h-1zM382 572h2v1h-2zM388 572h4v1h-4zM490 572h1v1h-1zM496 572h1v1h-1zM528 572h1v1h-1zM532 572h1v1h-1zM746 572h2v1h-2zM751 572h1v1h-1zM770 572h1v1h-1zM778 572h1v1h-1zM802 572h1v1h-1zM816 572h2v1h-2zM820 572h4v1h-4zM827 572h1v1h-1zM833 572h2v1h-2zM862 572h2v1h-2zM875 572h2v1h-2zM926 572h1v1h-1zM1083 572h2v1h-2zM1087 572h1v1h-1zM1094 572h1v1h-1zM1225 572h1v1h-1zM1256 572h2v1h-2zM1260 572h3v1h-3zM141 572h1v2h-1zM143 572h1v2h-1zM313 572h1v2h-1zM358 572h1v2h-1zM499 572h1v2h-1zM756 572h1v2h-1zM855 572h1v2h-1zM1026 572h1v2h-1zM909 572h1v4h-1zM167 573h1v1h-1zM172 573h2v1h-2zM226 573h2v1h-2zM251 573h1v1h-1zM259 573h2v1h-2zM328 573h2v1h-2zM384 573h4v1h-4zM489 573h1v1h-1zM497 573h1v1h-1zM527 573h1v1h-1zM533 573h1v1h-1zM536 573h3v1h-3zM745 573h1v1h-1zM748 573h3v1h-3zM771 573h1v1h-1zM776 573h2v1h-2zM818 573h2v1h-2zM824 573h3v1h-3zM835 573h1v1h-1zM864 573h4v1h-4zM872 573h3v1h-3zM924 573h2v1h-2zM927 573h1v1h-1zM1085 573h2v1h-2zM1224 573h1v1h-1zM1258 573h2v1h-2zM1263 573h1v1h-1zM344 573h1v2h-1zM526 573h1v2h-1zM627 573h1v2h-1zM759 573h1v2h-1zM1221 573h1v2h-1zM1273 573h1v2h-1zM399 573h1v3h-1zM140 574h1v1h-1zM144 574h1v1h-1zM166 574h1v1h-1zM174 574h1v1h-1zM228 574h3v1h-3zM250 574h1v1h-1zM261 574h1v1h-1zM312 574h1v1h-1zM330 574h1v1h-1zM338 574h1v1h-1zM488 574h1v1h-1zM498 574h1v1h-1zM534 574h2v1h-2zM539 574h1v1h-1zM744 574h1v1h-1zM757 574h1v1h-1zM772 574h2v1h-2zM775 574h1v1h-1zM836 574h1v1h-1zM868 574h4v1h-4zM923 574h1v1h-1zM928 574h2v1h-2zM1223 574h1v1h-1zM1264 574h2v1h-2zM225 574h1v2h-1zM262 574h1v2h-1zM618 574h1v2h-1zM641 574h1v2h-1zM854 574h1v2h-1zM1025 574h1v3h-1zM34 575h5v1h-5zM165 575h1v1h-1zM175 575h1v1h-1zM231 575h1v1h-1zM249 575h1v1h-1zM331 575h1v1h-1zM337 575h1v1h-1zM339 575h2v1h-2zM343 575h1v1h-1zM487 575h1v1h-1zM540 575h1v1h-1zM619 575h2v1h-2zM624 575h3v1h-3zM743 575h1v1h-1zM758 575h1v1h-1zM774 575h1v1h-1zM837 575h1v1h-1zM849 575h5v1h-5zM916 575h7v1h-7zM930 575h1v1h-1zM1222 575h1v1h-1zM1266 575h1v1h-1zM139 575h1v2h-1zM145 575h1v2h-1zM311 575h1v2h-1zM1272 575h1v3h-1zM33 576h1v1h-1zM39 576h1v1h-1zM58 576h1v1h-1zM148 576h3v1h-3zM164 576h1v1h-1zM176 576h2v1h-2zM180 576h3v1h-3zM190 576h1v1h-1zM224 576h1v1h-1zM232 576h1v1h-1zM248 576h1v1h-1zM332 576h1v1h-1zM336 576h1v1h-1zM341 576h2v1h-2zM486 576h1v1h-1zM541 576h1v1h-1zM621 576h3v1h-3zM671 576h1v1h-1zM722 576h1v1h-1zM742 576h1v1h-1zM838 576h1v1h-1zM847 576h2v1h-2zM913 576h3v1h-3zM931 576h1v1h-1zM1001 576h2v1h-2zM263 576h1v2h-1zM400 576h1v2h-1zM642 576h1v2h-1zM670 576h1v2h-1zM1267 576h1v2h-1zM617 576h1v3h-1zM910 576h1v3h-1zM32 577h1v1h-1zM50 577h1v1h-1zM59 577h1v1h-1zM138 577h1v1h-1zM146 577h2v1h-2zM151 577h1v1h-1zM157 577h3v1h-3zM163 577h1v1h-1zM178 577h2v1h-2zM191 577h1v1h-1zM217 577h2v1h-2zM233 577h1v1h-1zM247 577h1v1h-1zM310 577h1v1h-1zM333 577h1v1h-1zM335 577h1v1h-1zM542 577h2v1h-2zM582 577h2v1h-2zM643 577h1v1h-1zM672 577h3v1h-3zM721 577h1v1h-1zM723 577h1v1h-1zM846 577h1v1h-1zM911 577h2v1h-2zM932 577h2v1h-2zM949 577h2v1h-2zM992 577h4v1h-4zM999 577h2v1h-2zM1003 577h1v1h-1zM40 577h1v2h-1zM57 577h1v2h-1zM183 577h1v2h-1zM189 577h1v2h-1zM223 577h1v2h-1zM485 577h1v2h-1zM741 577h1v2h-1zM839 577h1v2h-1zM1024 577h1v2h-1zM22 578h2v1h-2zM31 578h1v1h-1zM49 578h1v1h-1zM51 578h1v1h-1zM60 578h1v1h-1zM136 578h2v1h-2zM152 578h2v1h-2zM155 578h2v1h-2zM160 578h3v1h-3zM192 578h2v1h-2zM209 578h3v1h-3zM215 578h2v1h-2zM219 578h2v1h-2zM234 578h5v1h-5zM245 578h2v1h-2zM334 578h1v1h-1zM544 578h3v1h-3zM580 578h2v1h-2zM584 578h3v1h-3zM644 578h3v1h-3zM675 578h2v1h-2zM680 578h3v1h-3zM720 578h1v1h-1zM724 578h1v1h-1zM934 578h1v1h-1zM947 578h2v1h-2zM951 578h1v1h-1zM987 578h5v1h-5zM996 578h3v1h-3zM1268 578h1v1h-1zM264 578h1v2h-1zM309 578h1v2h-1zM669 578h1v2h-1zM845 578h1v2h-1zM986 578h1v2h-1zM1004 578h1v2h-1zM1271 578h1v2h-1zM401 578h1v3h-1zM21 579h1v1h-1zM24 579h7v1h-7zM41 579h1v1h-1zM48 579h1v1h-1zM56 579h1v1h-1zM61 579h1v1h-1zM82 579h1v1h-1zM135 579h1v1h-1zM154 579h1v1h-1zM184 579h1v1h-1zM188 579h1v1h-1zM194 579h1v1h-1zM207 579h2v1h-2zM212 579h3v1h-3zM221 579h2v1h-2zM239 579h2v1h-2zM243 579h2v1h-2zM484 579h1v1h-1zM579 579h1v1h-1zM587 579h2v1h-2zM647 579h2v1h-2zM677 579h3v1h-3zM683 579h2v1h-2zM719 579h1v1h-1zM725 579h1v1h-1zM728 579h3v1h-3zM740 579h1v1h-1zM935 579h2v1h-2zM944 579h3v1h-3zM952 579h2v1h-2zM973 579h2v1h-2zM1009 579h3v1h-3zM52 579h1v2h-1zM286 579h1v2h-1zM547 579h1v2h-1zM840 579h1v2h-1zM1269 579h1v2h-1zM616 579h1v3h-1zM1023 579h1v3h-1zM42 580h2v1h-2zM47 580h1v1h-1zM62 580h1v1h-1zM81 580h1v1h-1zM83 580h2v1h-2zM132 580h3v1h-3zM195 580h1v1h-1zM206 580h1v1h-1zM241 580h2v1h-2zM287 580h1v1h-1zM410 580h1v1h-1zM561 580h2v1h-2zM576 580h3v1h-3zM589 580h1v1h-1zM649 580h2v1h-2zM685 580h6v1h-6zM698 580h2v1h-2zM726 580h2v1h-2zM731 580h2v1h-2zM844 580h1v1h-1zM937 580h7v1h-7zM954 580h1v1h-1zM964 580h4v1h-4zM971 580h2v1h-2zM975 580h1v1h-1zM1005 580h1v1h-1zM1007 580h2v1h-2zM1012 580h3v1h-3zM20 580h1v2h-1zM55 580h1v2h-1zM185 580h1v2h-1zM187 580h1v2h-1zM265 580h1v2h-1zM308 580h1v2h-1zM483 580h1v2h-1zM590 580h1v2h-1zM668 580h1v2h-1zM718 580h1v2h-1zM739 580h1v2h-1zM1270 580h1v2h-1zM985 580h1v3h-1zM44 581h3v1h-3zM53 581h1v1h-1zM63 581h1v1h-1zM80 581h1v1h-1zM85 581h1v1h-1zM126 581h6v1h-6zM196 581h1v1h-1zM288 581h2v1h-2zM409 581h1v1h-1zM411 581h1v1h-1zM548 581h1v1h-1zM559 581h2v1h-2zM563 581h2v1h-2zM574 581h2v1h-2zM651 581h2v1h-2zM691 581h1v1h-1zM696 581h2v1h-2zM700 581h4v1h-4zM708 581h3v1h-3zM733 581h3v1h-3zM955 581h2v1h-2zM960 581h4v1h-4zM968 581h3v1h-3zM976 581h1v1h-1zM1006 581h1v1h-1zM1015 581h1v1h-1zM86 581h1v2h-1zM205 581h1v2h-1zM285 581h1v2h-1zM402 581h1v2h-1zM841 581h1v2h-1zM843 581h1v2h-1zM19 582h1v1h-1zM54 582h1v1h-1zM79 582h1v1h-1zM114 582h1v1h-1zM125 582h1v1h-1zM186 582h1v1h-1zM197 582h1v1h-1zM290 582h1v1h-1zM412 582h1v1h-1zM474 582h2v1h-2zM480 582h3v1h-3zM553 582h6v1h-6zM565 582h2v1h-2zM573 582h1v1h-1zM653 582h3v1h-3zM692 582h2v1h-2zM695 582h1v1h-1zM704 582h4v1h-4zM736 582h3v1h-3zM957 582h3v1h-3zM977 582h1v1h-1zM1016 582h2v1h-2zM64 582h1v2h-1zM266 582h1v2h-1zM307 582h1v2h-1zM408 582h1v2h-1zM549 582h1v2h-1zM591 582h1v2h-1zM667 582h1v2h-1zM711 582h1v2h-1zM717 582h1v2h-1zM1022 582h1v2h-1zM615 582h1v3h-1zM76 583h3v1h-3zM115 583h1v1h-1zM198 583h1v1h-1zM204 583h1v1h-1zM291 583h1v1h-1zM301 583h3v1h-3zM403 583h1v1h-1zM413 583h1v1h-1zM476 583h4v1h-4zM551 583h2v1h-2zM567 583h1v1h-1zM572 583h1v1h-1zM656 583h4v1h-4zM694 583h1v1h-1zM842 583h1v1h-1zM978 583h1v1h-1zM1018 583h4v1h-4zM18 583h1v2h-1zM113 583h1v2h-1zM124 583h1v2h-1zM284 583h1v2h-1zM473 583h1v2h-1zM984 583h1v2h-1zM87 583h1v4h-1zM65 584h1v1h-1zM68 584h8v1h-8zM116 584h2v1h-2zM199 584h1v1h-1zM292 584h1v1h-1zM299 584h2v1h-2zM304 584h3v1h-3zM404 584h2v1h-2zM407 584h1v1h-1zM414 584h2v1h-2zM550 584h1v1h-1zM568 584h2v1h-2zM571 584h1v1h-1zM602 584h1v1h-1zM609 584h2v1h-2zM660 584h7v1h-7zM203 584h1v2h-1zM267 584h1v2h-1zM592 584h1v2h-1zM712 584h1v2h-1zM716 584h1v2h-1zM979 584h1v2h-1zM66 585h2v1h-2zM112 585h1v1h-1zM118 585h2v1h-2zM123 585h1v1h-1zM200 585h2v1h-2zM293 585h1v1h-1zM296 585h3v1h-3zM406 585h1v1h-1zM416 585h11v1h-11zM472 585h1v1h-1zM570 585h1v1h-1zM603 585h2v1h-2zM607 585h2v1h-2zM611 585h2v1h-2zM17 585h1v2h-1zM283 585h1v2h-1zM601 585h1v2h-1zM614 585h1v2h-1zM983 585h1v3h-1zM97 586h3v1h-3zM120 586h3v1h-3zM202 586h1v1h-1zM278 586h2v1h-2zM294 586h2v1h-2zM605 586h2v1h-2zM613 586h1v1h-1zM980 586h1v1h-1zM111 586h1v2h-1zM268 586h1v2h-1zM427 586h1v2h-1zM471 586h1v2h-1zM593 586h1v2h-1zM713 586h1v2h-1zM715 586h1v2h-1zM95 587h2v1h-2zM100 587h8v1h-8zM280 587h3v1h-3zM600 587h1v1h-1zM16 587h1v2h-1zM277 587h1v2h-1zM981 587h1v2h-1zM88 587h1v3h-1zM94 588h1v1h-1zM108 588h3v1h-3zM428 588h1v1h-1zM463 588h1v1h-1zM468 588h3v1h-3zM714 588h1v1h-1zM269 588h1v2h-1zM462 588h1v2h-1zM594 588h1v2h-1zM599 588h1v2h-1zM982 588h1v2h-1zM2 589h1v1h-1zM276 589h1v1h-1zM464 589h4v1h-4zM595 589h1v1h-1zM15 589h1v2h-1zM93 589h1v2h-1zM429 589h1v2h-1zM3 590h1v1h-1zM9 590h3v1h-3zM270 590h1v1h-1zM596 590h3v1h-3zM275 590h1v2h-1zM461 590h1v2h-1zM89 590h1v4h-1zM4 591h2v1h-2zM7 591h2v1h-2zM12 591h3v1h-3zM271 591h2v1h-2zM430 591h1v1h-1zM92 591h1v2h-1zM6 592h1v1h-1zM273 592h2v1h-2zM431 592h1v1h-1zM460 592h1v3h-1zM91 593h1v2h-1zM432 593h1v2h-1zM441 594h3v1h-3zM90 594h1v2h-1zM433 595h1v1h-1zM439 595h2v1h-2zM444 595h4v1h-4zM459 595h1v2h-1zM434 596h5v1h-5zM448 596h4v1h-4zM452 597h4v1h-4zM458 597h1v2h-1zM456 598h2v1h-2z" fill="#1e90ff" shape-rendering="crispEdges"/>
<text x="5.8" y="633" font-size="9.8" fill="#000" stroke="#000" stroke-width="0.13" textLength="148.5" lengthAdjust="spacingAndGlyphs">MACD(12,26,9) 0.000271 0.000711</text>
<g shape-rendering="crispEdges">
<rect x="2" y="676" width="1" height="20" fill="#c0c0c0"/>
<rect x="6" y="676" width="1" height="21" fill="#c0c0c0"/>
<rect x="10" y="676" width="1" height="21" fill="#c0c0c0"/>
<rect x="14" y="676" width="1" height="22" fill="#c0c0c0"/>
<rect x="18" y="676" width="1" height="20" fill="#c0c0c0"/>
<rect x="22" y="676" width="1" height="18" fill="#c0c0c0"/>
<rect x="26" y="676" width="1" height="17" fill="#c0c0c0"/>
<rect x="30" y="676" width="1" height="15" fill="#c0c0c0"/>
<rect x="34" y="676" width="1" height="13" fill="#c0c0c0"/>
<rect x="38" y="676" width="1" height="12" fill="#c0c0c0"/>
<rect x="42" y="676" width="1" height="11" fill="#c0c0c0"/>
<rect x="46" y="676" width="1" height="11" fill="#c0c0c0"/>
<rect x="50" y="676" width="1" height="10" fill="#c0c0c0"/>
<rect x="54" y="676" width="1" height="10" fill="#c0c0c0"/>
<rect x="58" y="676" width="1" height="9" fill="#c0c0c0"/>
<rect x="62" y="676" width="1" height="9" fill="#c0c0c0"/>
<rect x="66" y="676" width="1" height="10" fill="#c0c0c0"/>
<rect x="70" y="676" width="1" height="11" fill="#c0c0c0"/>
<rect x="74" y="676" width="1" height="11" fill="#c0c0c0"/>
<rect x="78" y="676" width="1" height="11" fill="#c0c0c0"/>
<rect x="82" y="676" width="1" height="11" fill="#c0c0c0"/>
<rect x="86" y="676" width="1" height="10" fill="#c0c0c0"/>
<rect x="90" y="676" width="1" height="15" fill="#c0c0c0"/>
<rect x="94" y="676" width="1" height="17" fill="#c0c0c0"/>
<rect x="98" y="676" width="1" height="18" fill="#c0c0c0"/>
<rect x="102" y="676" width="1" height="18" fill="#c0c0c0"/>
<rect x="106" y="676" width="1" height="19" fill="#c0c0c0"/>
<rect x="110" y="676" width="1" height="19" fill="#c0c0c0"/>
<rect x="114" y="676" width="1" height="18" fill="#c0c0c0"/>
<rect x="118" y="676" width="1" height="18" fill="#c0c0c0"/>
<rect x="122" y="676" width="1" height="18" fill="#c0c0c0"/>
<rect x="126" y="676" width="1" height="17" fill="#c0c0c0"/>
<rect x="130" y="676" width="1" height="16" fill="#c0c0c0"/>
<rect x="134" y="676" width="1" height="15" fill="#c0c0c0"/>
<rect x="138" y="676" width="1" height="14" fill="#c0c0c0"/>
<rect x="142" y="676" width="1" height="11" fill="#c0c0c0"/>
<rect x="146" y="676" width="1" height="10" fill="#c0c0c0"/>
<rect x="150" y="676" width="1" height="9" fill="#c0c0c0"/>
<rect x="154" y="676" width="1" height="9" fill="#c0c0c0"/>
<rect x="158" y="676" width="1" height="8" fill="#c0c0c0"/>
<rect x="162" y="676" width="1" height="8" fill="#c0c0c0"/>
<rect x="166" y="676" width="1" height="7" fill="#c0c0c0"/>
<rect x="170" y="676" width="1" height="5" fill="#c0c0c0"/>
<rect x="174" y="676" width="1" height="5" fill="#c0c0c0"/>
<rect x="178" y="676" width="1" height="5" fill="#c0c0c0"/>
<rect x="182" y="676" width="1" height="5" fill="#c0c0c0"/>
<rect x="186" y="676" width="1" height="6" fill="#c0c0c0"/>
<rect x="190" y="676" width="1" height="6" fill="#c0c0c0"/>
<rect x="194" y="676" width="1" height="6" fill="#c0c0c0"/>
<rect x="198" y="676" width="1" height="7" fill="#c0c0c0"/>
<rect x="202" y="676" width="1" height="9" fill="#c0c0c0"/>
<rect x="206" y="676" width="1" height="9" fill="#c0c0c0"/>
<rect x="210" y="676" width="1" height="9" fill="#c0c0c0"/>
<rect x="214" y="676" width="1" height="9" fill="#c0c0c0"/>
<rect x="218" y="676" width="1" height="8" fill="#c0c0c0"/>
<rect x="222" y="676" width="1" height="8" fill="#c0c0c0"/>
<rect x="226" y="676" width="1" height="7" fill="#c0c0c0"/>
<rect x="230" y="676" width="1" height="6" fill="#c0c0c0"/>
<rect x="234" y="676" width="1" height="6" fill="#c0c0c0"/>
<rect x="238" y="676" width="1" height="6" fill="#c0c0c0"/>
<rect x="242" y="676" width="1" height="6" fill="#c0c0c0"/>
<rect x="246" y="676" width="1" height="6" fill="#c0c0c0"/>
<rect x="250" y="676" width="1" height="5" fill="#c0c0c0"/>
<rect x="254" y="676" width="1" height="4" fill="#c0c0c0"/>
<rect x="258" y="676" width="1" height="3" fill="#c0c0c0"/>
<rect x="262" y="676" width="1" height="3" fill="#c0c0c0"/>
<rect x="266" y="676" width="1" height="4" fill="#c0c0c0"/>
<rect x="270" y="676" width="1" height="8" fill="#c0c0c0"/>
<rect x="274" y="676" width="1" height="11" fill="#c0c0c0"/>
<rect x="278" y="676" width="1" height="12" fill="#c0c0c0"/>
<rect x="282" y="676" width="1" height="13" fill="#c0c0c0"/>
<rect x="286" y="676" width="1" height="13" fill="#c0c0c0"/>
<rect x="290" y="676" width="1" height="13" fill="#c0c0c0"/>
<rect x="294" y="676" width="1" height="14" fill="#c0c0c0"/>
<rect x="298" y="676" width="1" height="15" fill="#c0c0c0"/>
<rect x="302" y="676" width="1" height="15" fill="#c0c0c0"/>
<rect x="306" y="676" width="1" height="15" fill="#c0c0c0"/>
<rect x="310" y="676" width="1" height="13" fill="#c0c0c0"/>
<rect x="314" y="676" width="1" height="11" fill="#c0c0c0"/>
<rect x="318" y="676" width="1" height="8" fill="#c0c0c0"/>
<rect x="322" y="676" width="1" height="5" fill="#c0c0c0"/>
<rect x="326" y="676" width="1" height="4" fill="#c0c0c0"/>
<rect x="330" y="676" width="1" height="4" fill="#c0c0c0"/>
<rect x="334" y="676" width="1" height="4" fill="#c0c0c0"/>
<rect x="338" y="676" width="1" height="4" fill="#c0c0c0"/>
<rect x="342" y="676" width="1" height="4" fill="#c0c0c0"/>
<rect x="346" y="676" width="1" height="3" fill="#c0c0c0"/>
<rect x="350" y="676" width="1" height="1" fill="#c0c0c0"/>
<rect x="354" y="674" width="1" height="2" fill="#c0c0c0"/>
<rect x="358" y="674" width="1" height="2" fill="#c0c0c0"/>
<rect x="362" y="674" width="1" height="2" fill="#c0c0c0"/>
<rect x="366" y="674" width="1" height="2" fill="#c0c0c0"/>
<rect x="370" y="674" width="1" height="2" fill="#c0c0c0"/>
<rect x="374" y="673" width="1" height="3" fill="#c0c0c0"/>
<rect x="378" y="672" width="1" height="4" fill="#c0c0c0"/>
<rect x="382" y="673" width="1" height="3" fill="#c0c0c0"/>
<rect x="386" y="673" width="1" height="3" fill="#c0c0c0"/>
<rect x="390" y="673" width="1" height="3" fill="#c0c0c0"/>
<rect x="394" y="673" width="1" height="3" fill="#c0c0c0"/>
<rect x="398" y="673" width="1" height="3" fill="#c0c0c0"/>
<rect x="406" y="676" width="1" height="3" fill="#c0c0c0"/>
<rect x="410" y="676" width="1" height="4" fill="#c0c0c0"/>
<rect x="414" y="676" width="1" height="6" fill="#c0c0c0"/>
<rect x="418" y="676" width="1" height="8" fill="#c0c0c0"/>
<rect x="422" y="676" width="1" height="9" fill="#c0c0c0"/>
<rect x="426" y="676" width="1" height="10" fill="#c0c0c0"/>
<rect x="430" y="676" width="1" height="13" fill="#c0c0c0"/>
<rect x="434" y="676" width="1" height="17" fill="#c0c0c0"/>
<rect x="438" y="676" width="1" height="21" fill="#c0c0c0"/>
<rect x="442" y="676" width="1" height="22" fill="#c0c0c0"/>
<rect x="446" y="676" width="1" height="24" fill="#c0c0c0"/>
<rect x="450" y="676" width="1" height="26" fill="#c0c0c0"/>
<rect x="454" y="676" width="1" height="27" fill="#c0c0c0"/>
<rect x="458" y="676" width="1" height="28" fill="#c0c0c0"/>
<rect x="462" y="676" width="1" height="27" fill="#c0c0c0"/>
<rect x="466" y="676" width="1" height="27" fill="#c0c0c0"/>
<rect x="470" y="676" width="1" height="26" fill="#c0c0c0"/>
<rect x="474" y="676" width="1" height="23" fill="#c0c0c0"/>
<rect x="478" y="676" width="1" height="22" fill="#c0c0c0"/>
<rect x="482" y="676" width="1" height="20" fill="#c0c0c0"/>
<rect x="486" y="676" width="1" height="18" fill="#c0c0c0"/>
<rect x="490" y="676" width="1" height="15" fill="#c0c0c0"/>
<rect x="494" y="676" width="1" height="12" fill="#c0c0c0"/>
<rect x="498" y="676" width="1" height="10" fill="#c0c0c0"/>
<rect x="502" y="676" width="1" height="7" fill="#c0c0c0"/>
<rect x="506" y="676" width="1" height="3" fill="#c0c0c0"/>
<rect x="510" y="676" width="1" height="1" fill="#c0c0c0"/>
<rect x="514" y="675" width="1" height="1" fill="#c0c0c0"/>
<rect x="518" y="672" width="1" height="4" fill="#c0c0c0"/>
<rect x="522" y="671" width="1" height="5" fill="#c0c0c0"/>
<rect x="526" y="672" width="1" height="4" fill="#c0c0c0"/>
<rect x="530" y="672" width="1" height="4" fill="#c0c0c0"/>
<rect x="534" y="673" width="1" height="3" fill="#c0c0c0"/>
<rect x="538" y="673" width="1" height="3" fill="#c0c0c0"/>
<rect x="542" y="675" width="1" height="1" fill="#c0c0c0"/>
<rect x="550" y="676" width="1" height="3" fill="#c0c0c0"/>
<rect x="554" y="676" width="1" height="5" fill="#c0c0c0"/>
<rect x="558" y="676" width="1" height="6" fill="#c0c0c0"/>
<rect x="562" y="676" width="1" height="6" fill="#c0c0c0"/>
<rect x="566" y="676" width="1" height="7" fill="#c0c0c0"/>
<rect x="570" y="676" width="1" height="9" fill="#c0c0c0"/>
<rect x="574" y="676" width="1" height="9" fill="#c0c0c0"/>
<rect x="578" y="676" width="1" height="9" fill="#c0c0c0"/>
<rect x="582" y="676" width="1" height="9" fill="#c0c0c0"/>
<rect x="586" y="676" width="1" height="8" fill="#c0c0c0"/>
<rect x="590" y="676" width="1" height="9" fill="#c0c0c0"/>
<rect x="594" y="676" width="1" height="11" fill="#c0c0c0"/>
<rect x="598" y="676" width="1" height="13" fill="#c0c0c0"/>
<rect x="602" y="676" width="1" height="14" fill="#c0c0c0"/>
<rect x="606" y="676" width="1" height="15" fill="#c0c0c0"/>
<rect x="610" y="676" width="1" height="15" fill="#c0c0c0"/>
<rect x="614" y="676" width="1" height="16" fill="#c0c0c0"/>
<rect x="618" y="676" width="1" height="13" fill="#c0c0c0"/>
<rect x="622" y="676" width="1" height="12" fill="#c0c0c0"/>
<rect x="626" y="676" width="1" height="11" fill="#c0c0c0"/>
<rect x="630" y="676" width="1" height="7" fill="#c0c0c0"/>
<rect x="634" y="676" width="1" height="4" fill="#c0c0c0"/>
<rect x="638" y="676" width="1" height="2" fill="#c0c0c0"/>
<rect x="642" y="676" width="1" height="3" fill="#c0c0c0"/>
<rect x="646" y="676" width="1" height="4" fill="#c0c0c0"/>
<rect x="650" y="676" width="1" height="5" fill="#c0c0c0"/>
<rect x="654" y="676" width="1" height="7" fill="#c0c0c0"/>
<rect x="658" y="676" width="1" height="8" fill="#c0c0c0"/>
<rect x="662" y="676" width="1" height="10" fill="#c0c0c0"/>
<rect x="666" y="676" width="1" height="11" fill="#c0c0c0"/>
<rect x="670" y="676" width="1" height="10" fill="#c0c0c0"/>
<rect x="674" y="676" width="1" height="9" fill="#c0c0c0"/>
<rect x="678" y="676" width="1" height="9" fill="#c0c0c0"/>
<rect x="682" y="676" width="1" height="9" fill="#c0c0c0"/>
<rect x="686" y="676" width="1" height="9" fill="#c0c0c0"/>
<rect x="690" y="676" width="1" height="9" fill="#c0c0c0"/>
<rect x="694" y="676" width="1" height="9" fill="#c0c0c0"/>
<rect x="698" y="676" width="1" height="9" fill="#c0c0c0"/>
<rect x="702" y="676" width="1" height="9" fill="#c0c0c0"/>
<rect x="706" y="676" width="1" height="10" fill="#c0c0c0"/>
<rect x="710" y="676" width="1" height="9" fill="#c0c0c0"/>
<rect x="714" y="676" width="1" height="11" fill="#c0c0c0"/>
<rect x="718" y="676" width="1" height="11" fill="#c0c0c0"/>
<rect x="722" y="676" width="1" height="10" fill="#c0c0c0"/>
<rect x="726" y="676" width="1" height="10" fill="#c0c0c0"/>
<rect x="730" y="676" width="1" height="10" fill="#c0c0c0"/>
<rect x="734" y="676" width="1" height="10" fill="#c0c0c0"/>
<rect x="738" y="676" width="1" height="10" fill="#c0c0c0"/>
<rect x="742" y="676" width="1" height="9" fill="#c0c0c0"/>
<rect x="746" y="676" width="1" height="8" fill="#c0c0c0"/>
<rect x="750" y="676" width="1" height="6" fill="#c0c0c0"/>
<rect x="754" y="676" width="1" height="5" fill="#c0c0c0"/>
<rect x="758" y="676" width="1" height="4" fill="#c0c0c0"/>
<rect x="762" y="676" width="1" height="2" fill="#c0c0c0"/>
<rect x="774" y="676" width="1" height="1" fill="#c0c0c0"/>
<rect x="782" y="675" width="1" height="1" fill="#c0c0c0"/>
<rect x="786" y="675" width="1" height="1" fill="#c0c0c0"/>
<rect x="790" y="673" width="1" height="3" fill="#c0c0c0"/>
<rect x="794" y="672" width="1" height="4" fill="#c0c0c0"/>
<rect x="798" y="672" width="1" height="4" fill="#c0c0c0"/>
<rect x="802" y="672" width="1" height="4" fill="#c0c0c0"/>
<rect x="806" y="672" width="1" height="4" fill="#c0c0c0"/>
<rect x="810" y="671" width="1" height="5" fill="#c0c0c0"/>
<rect x="814" y="671" width="1" height="5" fill="#c0c0c0"/>
<rect x="818" y="672" width="1" height="4" fill="#c0c0c0"/>
<rect x="822" y="672" width="1" height="4" fill="#c0c0c0"/>
<rect x="826" y="673" width="1" height="3" fill="#c0c0c0"/>
<rect x="830" y="673" width="1" height="3" fill="#c0c0c0"/>
<rect x="834" y="673" width="1" height="3" fill="#c0c0c0"/>
<rect x="838" y="674" width="1" height="2" fill="#c0c0c0"/>
<rect x="842" y="676" width="1" height="1" fill="#c0c0c0"/>
<rect x="846" y="676" width="1" height="1" fill="#c0c0c0"/>
<rect x="850" y="676" width="1" height="2" fill="#c0c0c0"/>
<rect x="854" y="676" width="1" height="2" fill="#c0c0c0"/>
<rect x="862" y="675" width="1" height="1" fill="#c0c0c0"/>
<rect x="866" y="675" width="1" height="1" fill="#c0c0c0"/>
<rect x="878" y="675" width="1" height="1" fill="#c0c0c0"/>
<rect x="882" y="675" width="1" height="1" fill="#c0c0c0"/>
<rect x="886" y="672" width="1" height="4" fill="#c0c0c0"/>
<rect x="890" y="668" width="1" height="8" fill="#c0c0c0"/>
<rect x="894" y="667" width="1" height="9" fill="#c0c0c0"/>
<rect x="898" y="665" width="1" height="11" fill="#c0c0c0"/>
<rect x="902" y="664" width="1" height="12" fill="#c0c0c0"/>
<rect x="906" y="663" width="1" height="13" fill="#c0c0c0"/>
<rect x="910" y="666" width="1" height="10" fill="#c0c0c0"/>
<rect x="914" y="669" width="1" height="7" fill="#c0c0c0"/>
<rect x="918" y="671" width="1" height="5" fill="#c0c0c0"/>
<rect x="922" y="672" width="1" height="4" fill="#c0c0c0"/>
<rect x="926" y="672" width="1" height="4" fill="#c0c0c0"/>
<rect x="930" y="673" width="1" height="3" fill="#c0c0c0"/>
<rect x="934" y="675" width="1" height="1" fill="#c0c0c0"/>
<rect x="938" y="676" width="1" height="1" fill="#c0c0c0"/>
<rect x="942" y="676" width="1" height="3" fill="#c0c0c0"/>
<rect x="946" y="676" width="1" height="4" fill="#c0c0c0"/>
<rect x="950" y="676" width="1" height="4" fill="#c0c0c0"/>
<rect x="954" y="676" width="1" height="5" fill="#c0c0c0"/>
<rect x="958" y="676" width="1" height="6" fill="#c0c0c0"/>
<rect x="962" y="676" width="1" height="7" fill="#c0c0c0"/>
<rect x="966" y="676" width="1" height="7" fill="#c0c0c0"/>
<rect x="970" y="676" width="1" height="7" fill="#c0c0c0"/>
<rect x="974" y="676" width="1" height="7" fill="#c0c0c0"/>
<rect x="978" y="676" width="1" height="8" fill="#c0c0c0"/>
<rect x="982" y="676" width="1" height="10" fill="#c0c0c0"/>
<rect x="986" y="676" width="1" height="10" fill="#c0c0c0"/>
<rect x="990" y="676" width="1" height="9" fill="#c0c0c0"/>
<rect x="994" y="676" width="1" height="9" fill="#c0c0c0"/>
<rect x="998" y="676" width="1" height="9" fill="#c0c0c0"/>
<rect x="1002" y="676" width="1" height="8" fill="#c0c0c0"/>
<rect x="1006" y="676" width="1" height="8" fill="#c0c0c0"/>
<rect x="1010" y="676" width="1" height="8" fill="#c0c0c0"/>
<rect x="1014" y="676" width="1" height="8" fill="#c0c0c0"/>
<rect x="1018" y="676" width="1" height="9" fill="#c0c0c0"/>
<rect x="1022" y="676" width="1" height="9" fill="#c0c0c0"/>
<rect x="1026" y="676" width="1" height="7" fill="#c0c0c0"/>
<rect x="1030" y="676" width="1" height="5" fill="#c0c0c0"/>
<rect x="1034" y="676" width="1" height="3" fill="#c0c0c0"/>
<rect x="1038" y="676" width="1" height="1" fill="#c0c0c0"/>
<rect x="1042" y="675" width="1" height="1" fill="#c0c0c0"/>
<rect x="1046" y="674" width="1" height="2" fill="#c0c0c0"/>
<rect x="1050" y="674" width="1" height="2" fill="#c0c0c0"/>
<rect x="1054" y="673" width="1" height="3" fill="#c0c0c0"/>
<rect x="1058" y="672" width="1" height="4" fill="#c0c0c0"/>
<rect x="1062" y="671" width="1" height="5" fill="#c0c0c0"/>
<rect x="1066" y="671" width="1" height="5" fill="#c0c0c0"/>
<rect x="1070" y="670" width="1" height="6" fill="#c0c0c0"/>
<rect x="1074" y="671" width="1" height="5" fill="#c0c0c0"/>
<rect x="1078" y="671" width="1" height="5" fill="#c0c0c0"/>
<rect x="1082" y="671" width="1" height="5" fill="#c0c0c0"/>
<rect x="1086" y="672" width="1" height="4" fill="#c0c0c0"/>
<rect x="1090" y="672" width="1" height="4" fill="#c0c0c0"/>
<rect x="1094" y="673" width="1" height="3" fill="#c0c0c0"/>
<rect x="1098" y="673" width="1" height="3" fill="#c0c0c0"/>
<rect x="1102" y="672" width="1" height="4" fill="#c0c0c0"/>
<rect x="1106" y="673" width="1" height="3" fill="#c0c0c0"/>
<rect x="1110" y="667" width="1" height="9" fill="#c0c0c0"/>
<rect x="1114" y="662" width="1" height="14" fill="#c0c0c0"/>
<rect x="1118" y="659" width="1" height="17" fill="#c0c0c0"/>
<rect x="1122" y="652" width="1" height="24" fill="#c0c0c0"/>
<rect x="1126" y="647" width="1" height="29" fill="#c0c0c0"/>
<rect x="1130" y="641" width="1" height="35" fill="#c0c0c0"/>
<rect x="1134" y="637" width="1" height="39" fill="#c0c0c0"/>
<rect x="1138" y="635" width="1" height="41" fill="#c0c0c0"/>
<rect x="1142" y="633" width="1" height="43" fill="#c0c0c0"/>
<rect x="1146" y="632" width="1" height="44" fill="#c0c0c0"/>
<rect x="1150" y="629" width="1" height="47" fill="#c0c0c0"/>
<rect x="1154" y="628" width="1" height="48" fill="#c0c0c0"/>
<rect x="1158" y="627" width="1" height="49" fill="#c0c0c0"/>
<rect x="1162" y="627" width="1" height="49" fill="#c0c0c0"/>
<rect x="1166" y="628" width="1" height="48" fill="#c0c0c0"/>
<rect x="1170" y="629" width="1" height="47" fill="#c0c0c0"/>
<rect x="1174" y="633" width="1" height="43" fill="#c0c0c0"/>
<rect x="1178" y="636" width="1" height="40" fill="#c0c0c0"/>
<rect x="1182" y="639" width="1" height="37" fill="#c0c0c0"/>
<rect x="1186" y="641" width="1" height="35" fill="#c0c0c0"/>
<rect x="1190" y="642" width="1" height="34" fill="#c0c0c0"/>
<rect x="1194" y="643" width="1" height="33" fill="#c0c0c0"/>
<rect x="1198" y="645" width="1" height="31" fill="#c0c0c0"/>
<rect x="1202" y="647" width="1" height="29" fill="#c0c0c0"/>
<rect x="1206" y="650" width="1" height="26" fill="#c0c0c0"/>
<rect x="1210" y="652" width="1" height="24" fill="#c0c0c0"/>
<rect x="1214" y="654" width="1" height="22" fill="#c0c0c0"/>
<rect x="1218" y="656" width="1" height="20" fill="#c0c0c0"/>
<rect x="1222" y="660" width="1" height="16" fill="#c0c0c0"/>
<rect x="1226" y="662" width="1" height="14" fill="#c0c0c0"/>
<rect x="1230" y="663" width="1" height="13" fill="#c0c0c0"/>
<rect x="1234" y="663" width="1" height="13" fill="#c0c0c0"/>
<rect x="1238" y="664" width="1" height="12" fill="#c0c0c0"/>
<rect x="1242" y="665" width="1" height="11" fill="#c0c0c0"/>
<rect x="1246" y="666" width="1" height="10" fill="#c0c0c0"/>
<rect x="1250" y="667" width="1" height="9" fill="#c0c0c0"/>
<rect x="1254" y="668" width="1" height="8" fill="#c0c0c0"/>
<rect x="1258" y="669" width="1" height="7" fill="#c0c0c0"/>
<rect x="1262" y="670" width="1" height="6" fill="#c0c0c0"/>
<rect x="1266" y="671" width="1" height="5" fill="#c0c0c0"/>
<rect x="1270" y="674" width="1" height="2" fill="#c0c0c0"/>
<rect x="1274" y="674" width="1" height="2" fill="#c0c0c0"/>
<rect x="1278" y="674" width="1" height="2" fill="#c0c0c0"/>
</g>
<path d="M1172 629h2v1h-2zM1171 630h1v1h-1zM1177 630h3v1h-3zM1165 631h3v1h-3zM1183 631h1v1h-1zM1161 632h1v1h-1zM1184 632h2v1h-2zM1159 633h2v1h-2zM1189 634h3v1h-3zM1155 636h1v1h-1zM1195 636h2v1h-2zM1154 637h1v1h-1zM1197 637h1v1h-1zM1153 638h1v1h-1zM1201 639h1v1h-1zM1202 640h1v1h-1zM1203 641h1v1h-1zM1148 642h2v1h-2zM1147 643h1v1h-1zM1207 643h2v1h-2zM1209 644h1v1h-1zM1213 646h2v1h-2zM1143 647h1v1h-1zM1215 647h1v1h-1zM1142 648h1v1h-1zM1141 649h1v1h-1zM1219 649h2v1h-2zM1221 650h1v1h-1zM1225 652h2v1h-2zM1138 653h1v1h-1zM1227 653h1v1h-1zM1137 654h1v1h-1zM1136 655h1v1h-1zM1231 655h2v1h-2zM1233 656h1v1h-1zM1237 658h2v1h-2zM1132 659h1v1h-1zM1239 659h1v1h-1zM1131 660h1v1h-1zM1243 660h1v1h-1zM1130 661h1v1h-1zM1244 661h2v1h-2zM1249 663h3v1h-3zM1126 664h1v1h-1zM1255 664h1v1h-1zM1124 665h2v1h-2zM1256 665h2v1h-2zM1261 666h3v1h-3zM916 667h1v1h-1zM920 667h3v1h-3zM1267 667h1v1h-1zM908 668h3v1h-3zM914 668h2v1h-2zM926 668h3v1h-3zM1119 668h2v1h-2zM1268 668h2v1h-2zM932 669h3v1h-3zM1118 669h1v1h-1zM1273 669h3v1h-3zM903 670h2v1h-2zM902 671h1v1h-1zM938 671h1v1h-1zM1084 671h1v1h-1zM1088 671h3v1h-3zM1094 671h3v1h-3zM1108 671h1v1h-1zM1112 671h3v1h-3zM818 672h3v1h-3zM824 672h3v1h-3zM830 672h3v1h-3zM836 672h3v1h-3zM896 672h3v1h-3zM939 672h2v1h-2zM1072 672h1v1h-1zM1076 672h3v1h-3zM1082 672h2v1h-2zM1100 672h3v1h-3zM1106 672h2v1h-2zM386 673h3v1h-3zM392 673h3v1h-3zM398 673h3v1h-3zM542 673h3v1h-3zM808 673h1v1h-1zM812 673h3v1h-3zM842 673h2v1h-2zM892 673h1v1h-1zM1070 673h2v1h-2zM380 674h3v1h-3zM404 674h3v1h-3zM536 674h3v1h-3zM548 674h3v1h-3zM800 674h3v1h-3zM806 674h2v1h-2zM844 674h1v1h-1zM848 674h3v1h-3zM890 674h2v1h-2zM944 674h3v1h-3zM1064 674h3v1h-3zM374 675h3v1h-3zM410 675h2v1h-2zM532 675h1v1h-1zM554 675h2v1h-2zM794 675h3v1h-3zM854 675h3v1h-3zM884 675h3v1h-3zM950 675h1v1h-1zM1060 675h1v1h-1zM368 676h3v1h-3zM412 676h1v1h-1zM530 676h2v1h-2zM556 676h1v1h-1zM788 676h3v1h-3zM860 676h3v1h-3zM866 676h3v1h-3zM872 676h3v1h-3zM878 676h3v1h-3zM951 676h2v1h-2zM1058 676h2v1h-2zM362 677h3v1h-3zM416 677h3v1h-3zM560 677h3v1h-3zM784 677h1v1h-1zM356 678h3v1h-3zM525 678h2v1h-2zM566 678h1v1h-1zM782 678h2v1h-2zM956 678h3v1h-3zM1052 678h3v1h-3zM352 679h1v1h-1zM422 679h2v1h-2zM524 679h1v1h-1zM567 679h2v1h-2zM776 679h3v1h-3zM962 679h2v1h-2zM1048 679h1v1h-1zM350 680h2v1h-2zM424 680h1v1h-1zM772 680h1v1h-1zM964 680h1v1h-1zM1046 680h2v1h-2zM260 681h3v1h-3zM266 681h3v1h-3zM344 681h3v1h-3zM428 681h1v1h-1zM520 681h1v1h-1zM572 681h3v1h-3zM770 681h2v1h-2zM968 681h3v1h-3zM974 681h2v1h-2zM1040 681h3v1h-3zM184 682h1v1h-1zM188 682h3v1h-3zM194 682h3v1h-3zM200 682h3v1h-3zM206 682h2v1h-2zM254 682h3v1h-3zM272 682h3v1h-3zM278 682h2v1h-2zM429 682h2v1h-2zM519 682h1v1h-1zM578 682h2v1h-2zM652 682h1v1h-1zM656 682h3v1h-3zM662 682h3v1h-3zM764 682h3v1h-3zM976 682h1v1h-1zM1036 682h1v1h-1zM176 683h3v1h-3zM182 683h2v1h-2zM208 683h1v1h-1zM212 683h3v1h-3zM242 683h3v1h-3zM248 683h3v1h-3zM280 683h1v1h-1zM339 683h2v1h-2zM518 683h1v1h-1zM580 683h1v1h-1zM650 683h2v1h-2zM668 683h3v1h-3zM674 683h2v1h-2zM760 683h1v1h-1zM980 683h3v1h-3zM986 683h2v1h-2zM1034 683h2v1h-2zM172 684h1v1h-1zM218 684h3v1h-3zM224 684h3v1h-3zM230 684h3v1h-3zM236 684h3v1h-3zM284 684h3v1h-3zM338 684h1v1h-1zM434 684h1v1h-1zM584 684h3v1h-3zM590 684h2v1h-2zM644 684h3v1h-3zM676 684h1v1h-1zM758 684h2v1h-2zM988 684h1v1h-1zM992 684h3v1h-3zM1024 684h1v1h-1zM1028 684h3v1h-3zM170 685h2v1h-2zM290 685h2v1h-2zM332 685h3v1h-3zM435 685h2v1h-2zM514 685h1v1h-1zM592 685h1v1h-1zM596 685h3v1h-3zM680 685h3v1h-3zM686 685h3v1h-3zM692 685h3v1h-3zM698 685h3v1h-3zM704 685h3v1h-3zM710 685h3v1h-3zM748 685h1v1h-1zM752 685h3v1h-3zM998 685h3v1h-3zM1004 685h3v1h-3zM1010 685h3v1h-3zM1016 685h3v1h-3zM1022 685h2v1h-2zM68 686h3v1h-3zM74 686h3v1h-3zM80 686h3v1h-3zM86 686h2v1h-2zM164 686h3v1h-3zM292 686h1v1h-1zM328 686h1v1h-1zM512 686h2v1h-2zM602 686h2v1h-2zM639 686h2v1h-2zM716 686h3v1h-3zM722 686h3v1h-3zM728 686h3v1h-3zM734 686h3v1h-3zM740 686h3v1h-3zM746 686h2v1h-2zM62 687h3v1h-3zM88 687h1v1h-1zM160 687h1v1h-1zM296 687h3v1h-3zM326 687h2v1h-2zM440 687h1v1h-1zM604 687h1v1h-1zM638 687h1v1h-1zM56 688h3v1h-3zM92 688h3v1h-3zM158 688h2v1h-2zM302 688h2v1h-2zM320 688h3v1h-3zM441 688h2v1h-2zM608 688h3v1h-3zM614 688h2v1h-2zM632 688h3v1h-3zM52 689h1v1h-1zM98 689h2v1h-2zM152 689h3v1h-3zM304 689h1v1h-1zM314 689h3v1h-3zM507 689h2v1h-2zM616 689h1v1h-1zM620 689h3v1h-3zM626 689h3v1h-3zM50 690h2v1h-2zM100 690h1v1h-1zM104 690h3v1h-3zM148 690h1v1h-1zM308 690h3v1h-3zM506 690h1v1h-1zM110 691h2v1h-2zM146 691h2v1h-2zM446 691h1v1h-1zM44 692h3v1h-3zM112 692h1v1h-1zM140 692h3v1h-3zM447 692h2v1h-2zM40 693h1v1h-1zM116 693h3v1h-3zM136 693h1v1h-1zM501 693h2v1h-2zM38 694h2v1h-2zM122 694h3v1h-3zM128 694h3v1h-3zM134 694h2v1h-2zM452 694h1v1h-1zM500 694h1v1h-1zM28 695h1v1h-1zM32 695h3v1h-3zM453 695h2v1h-2zM20 696h3v1h-3zM26 696h2v1h-2zM495 696h2v1h-2zM4 697h1v1h-1zM8 697h3v1h-3zM14 697h3v1h-3zM458 697h1v1h-1zM494 697h1v1h-1zM2 698h2v1h-2zM459 698h2v1h-2zM488 699h3v1h-3zM464 700h3v1h-3zM484 700h1v1h-1zM470 701h2v1h-2zM482 701h2v1h-2zM472 702h1v1h-1zM476 702h3v1h-3z" fill="#ff0000" shape-rendering="crispEdges"/>
<rect x="1611" y="622" width="2" height="1" fill="#000"/>
<rect x="1611" y="676" width="2" height="1" fill="#000"/>
<rect x="1611" y="708" width="2" height="1" fill="#000"/>
<text x="1614.5" y="631" font-size="9.8" fill="#000" stroke="#000" stroke-width="0.13" textLength="33.5" lengthAdjust="spacingAndGlyphs">0.00647</text>
<text x="1614.5" y="680" font-size="9.8" fill="#000" stroke="#000" stroke-width="0.13" textLength="18.5" lengthAdjust="spacingAndGlyphs">0.00</text>
<text x="1614.5" y="708" font-size="9.8" fill="#000" stroke="#000" stroke-width="0.13" textLength="36" lengthAdjust="spacingAndGlyphs">-0.00391</text>
<rect x="2" y="711" width="1" height="3" fill="#000"/>
<text x="1.5" y="723" font-size="9.8" fill="#000" stroke="#000" stroke-width="0.13" textLength="49.7" lengthAdjust="spacingAndGlyphs">13 Apr 2021</text>
<rect x="66" y="711" width="1" height="3" fill="#000"/>
<text x="65.5" y="723" font-size="9.8" fill="#000" stroke="#000" stroke-width="0.13" textLength="52.900000000000006" lengthAdjust="spacingAndGlyphs">16 Apr 14:00</text>
<rect x="130" y="711" width="1" height="3" fill="#000"/>
<text x="129.5" y="723" font-size="9.8" fill="#000" stroke="#000" stroke-width="0.13" textLength="53.2" lengthAdjust="spacingAndGlyphs">21 Apr 04:00</text>
<rect x="194" y="711" width="1" height="3" fill="#000"/>
<text x="193.5" y="723" font-size="9.8" fill="#000" stroke="#000" stroke-width="0.13" textLength="53.2" lengthAdjust="spacingAndGlyphs">23 Apr 22:00</text>
<rect x="258" y="711" width="1" height="3" fill="#000"/>
<text x="257.5" y="723" font-size="9.8" fill="#000" stroke="#000" stroke-width="0.13" textLength="53.6" lengthAdjust="spacingAndGlyphs">28 Apr 14:00</text>
<rect x="322" y="711" width="1" height="3" fill="#000"/>
<text x="321.5" y="723" font-size="9.8" fill="#000" stroke="#000" stroke-width="0.13" textLength="53.2" lengthAdjust="spacingAndGlyphs">3 May 07:00</text>
<rect x="386" y="711" width="1" height="3" fill="#000"/>
<text x="385.5" y="723" font-size="9.8" fill="#000" stroke="#000" stroke-width="0.13" textLength="53.2" lengthAdjust="spacingAndGlyphs">5 May 22:00</text>
<rect x="450" y="711" width="1" height="3" fill="#000"/>
<text x="449.5" y="723" font-size="9.8" fill="#000" stroke="#000" stroke-width="0.13" textLength="57.6" lengthAdjust="spacingAndGlyphs">10 May 15:00</text>
<rect x="514" y="711" width="1" height="3" fill="#000"/>
<text x="513.5" y="723" font-size="9.8" fill="#000" stroke="#000" stroke-width="0.13" textLength="57.6" lengthAdjust="spacingAndGlyphs">13 May 04:00</text>
<rect x="578" y="711" width="1" height="3" fill="#000"/>
<text x="577.5" y="723" font-size="9.8" fill="#000" stroke="#000" stroke-width="0.13" textLength="57.6" lengthAdjust="spacingAndGlyphs">17 May 23:00</text>
<rect x="642" y="711" width="1" height="3" fill="#000"/>
<text x="641.5" y="723" font-size="9.8" fill="#000" stroke="#000" stroke-width="0.13" textLength="57.6" lengthAdjust="spacingAndGlyphs">20 May 14:00</text>
<rect x="706" y="711" width="1" height="3" fill="#000"/>
<text x="705.5" y="723" font-size="9.8" fill="#000" stroke="#000" stroke-width="0.13" textLength="57.900000000000006" lengthAdjust="spacingAndGlyphs">25 May 04:00</text>
<rect x="770" y="711" width="1" height="3" fill="#000"/>
<text x="769.5" y="723" font-size="9.8" fill="#000" stroke="#000" stroke-width="0.13" textLength="58.2" lengthAdjust="spacingAndGlyphs">27 May 22:00</text>
<rect x="834" y="711" width="1" height="3" fill="#000"/>
<text x="833.5" y="723" font-size="9.8" fill="#000" stroke="#000" stroke-width="0.13" textLength="48.2" lengthAdjust="spacingAndGlyphs">1 Jun 14:00</text>
<rect x="898" y="711" width="1" height="3" fill="#000"/>
<text x="897.5" y="723" font-size="9.8" fill="#000" stroke="#000" stroke-width="0.13" textLength="48.2" lengthAdjust="spacingAndGlyphs">4 Jun 04:00</text>
<rect x="962" y="711" width="1" height="3" fill="#000"/>
<text x="961.5" y="723" font-size="9.8" fill="#000" stroke="#000" stroke-width="0.13" textLength="48.6" lengthAdjust="spacingAndGlyphs">8 Jun 22:00</text>
<rect x="1026" y="711" width="1" height="3" fill="#000"/>
<text x="1025.5" y="723" font-size="9.8" fill="#000" stroke="#000" stroke-width="0.13" textLength="52.6" lengthAdjust="spacingAndGlyphs">11 Jun 14:00</text>
<rect x="1090" y="711" width="1" height="3" fill="#000"/>
<text x="1089.5" y="723" font-size="9.8" fill="#000" stroke="#000" stroke-width="0.13" textLength="52.6" lengthAdjust="spacingAndGlyphs">16 Jun 04:00</text>
<rect x="1154" y="711" width="1" height="3" fill="#000"/>
<text x="1153.5" y="723" font-size="9.8" fill="#000" stroke="#000" stroke-width="0.13" textLength="52.6" lengthAdjust="spacingAndGlyphs">18 Jun 22:00</text>
<rect x="1218" y="711" width="1" height="3" fill="#000"/>
<text x="1217.5" y="723" font-size="9.8" fill="#000" stroke="#000" stroke-width="0.13" textLength="52.6" lengthAdjust="spacingAndGlyphs">23 Jun 14:00</text>
<rect x="0" y="731" width="1650" height="1" fill="#e8e8e8"/>
<rect x="0" y="732" width="1650" height="1" fill="#fff"/>
<rect x="0" y="733" width="1650" height="23" fill="#f0f0f0"/>
<rect x="0" y="733" width="1650" height="1" fill="#000"/>
<rect x="4" y="732" width="86" height="19" fill="#fff"/>
<rect x="3" y="733" width="1" height="19" fill="#000"/>
<rect x="90" y="733" width="1" height="19" fill="#000"/>
<rect x="3" y="751" width="88" height="1" fill="#000"/>
<rect x="91" y="735" width="1" height="18" fill="#a0a0a0"/>
<rect x="5" y="752" width="87" height="1" fill="#a0a0a0"/>
<rect x="0" y="753" width="1650" height="1" fill="#fafafa"/>
<rect x="0" y="754" width="1650" height="2" fill="#f0f0f0"/>
<text x="13.3" y="747.7" font-size="11.6" fill="#000" stroke="#000" stroke-width="0.05" textLength="66.6" lengthAdjust="spacingAndGlyphs">USDCHF,H4</text>
<text x="101.0" y="747.7" font-size="11.6" fill="#6d6d6d" textLength="83.1" lengthAdjust="spacingAndGlyphs">USDCNH,Daily</text>
<text x="207.0" y="747.7" font-size="11.6" fill="#6d6d6d" textLength="67.8" lengthAdjust="spacingAndGlyphs">EURUSD,H4</text>
<text x="297.7" y="747.7" font-size="11.6" fill="#6d6d6d" textLength="70.1" lengthAdjust="spacingAndGlyphs">AUDUSD,H4</text>
<text x="390.4" y="747.7" font-size="11.6" fill="#6d6d6d" textLength="68.4" lengthAdjust="spacingAndGlyphs">USDCAD,H4</text>
<text x="481.7" y="747.7" font-size="11.6" fill="#6d6d6d" textLength="68.8" lengthAdjust="spacingAndGlyphs">XAUUSD,H1</text>
<text x="573.0" y="747.7" font-size="11.6" fill="#6d6d6d" textLength="50.8" lengthAdjust="spacingAndGlyphs">USOil,H1</text>
<rect x="195" y="736" width="1" height="14" fill="#6d6d6d"/>
<rect x="287" y="736" width="1" height="14" fill="#6d6d6d"/>
<rect x="379" y="736" width="1" height="14" fill="#6d6d6d"/>
<rect x="471" y="736" width="1" height="14" fill="#6d6d6d"/>
<rect x="563" y="736" width="1" height="14" fill="#6d6d6d"/>
<rect x="635" y="736" width="1" height="14" fill="#6d6d6d"/>
<path d="M1629.5 738.3 L1625.5 742 L1629.5 745.7 Z" fill="#a0a0a0"/>
<path d="M1644.7 738.3 L1648.7 742 L1644.7 745.7 Z" fill="#a0a0a0"/>
</svg>
</body></html>
